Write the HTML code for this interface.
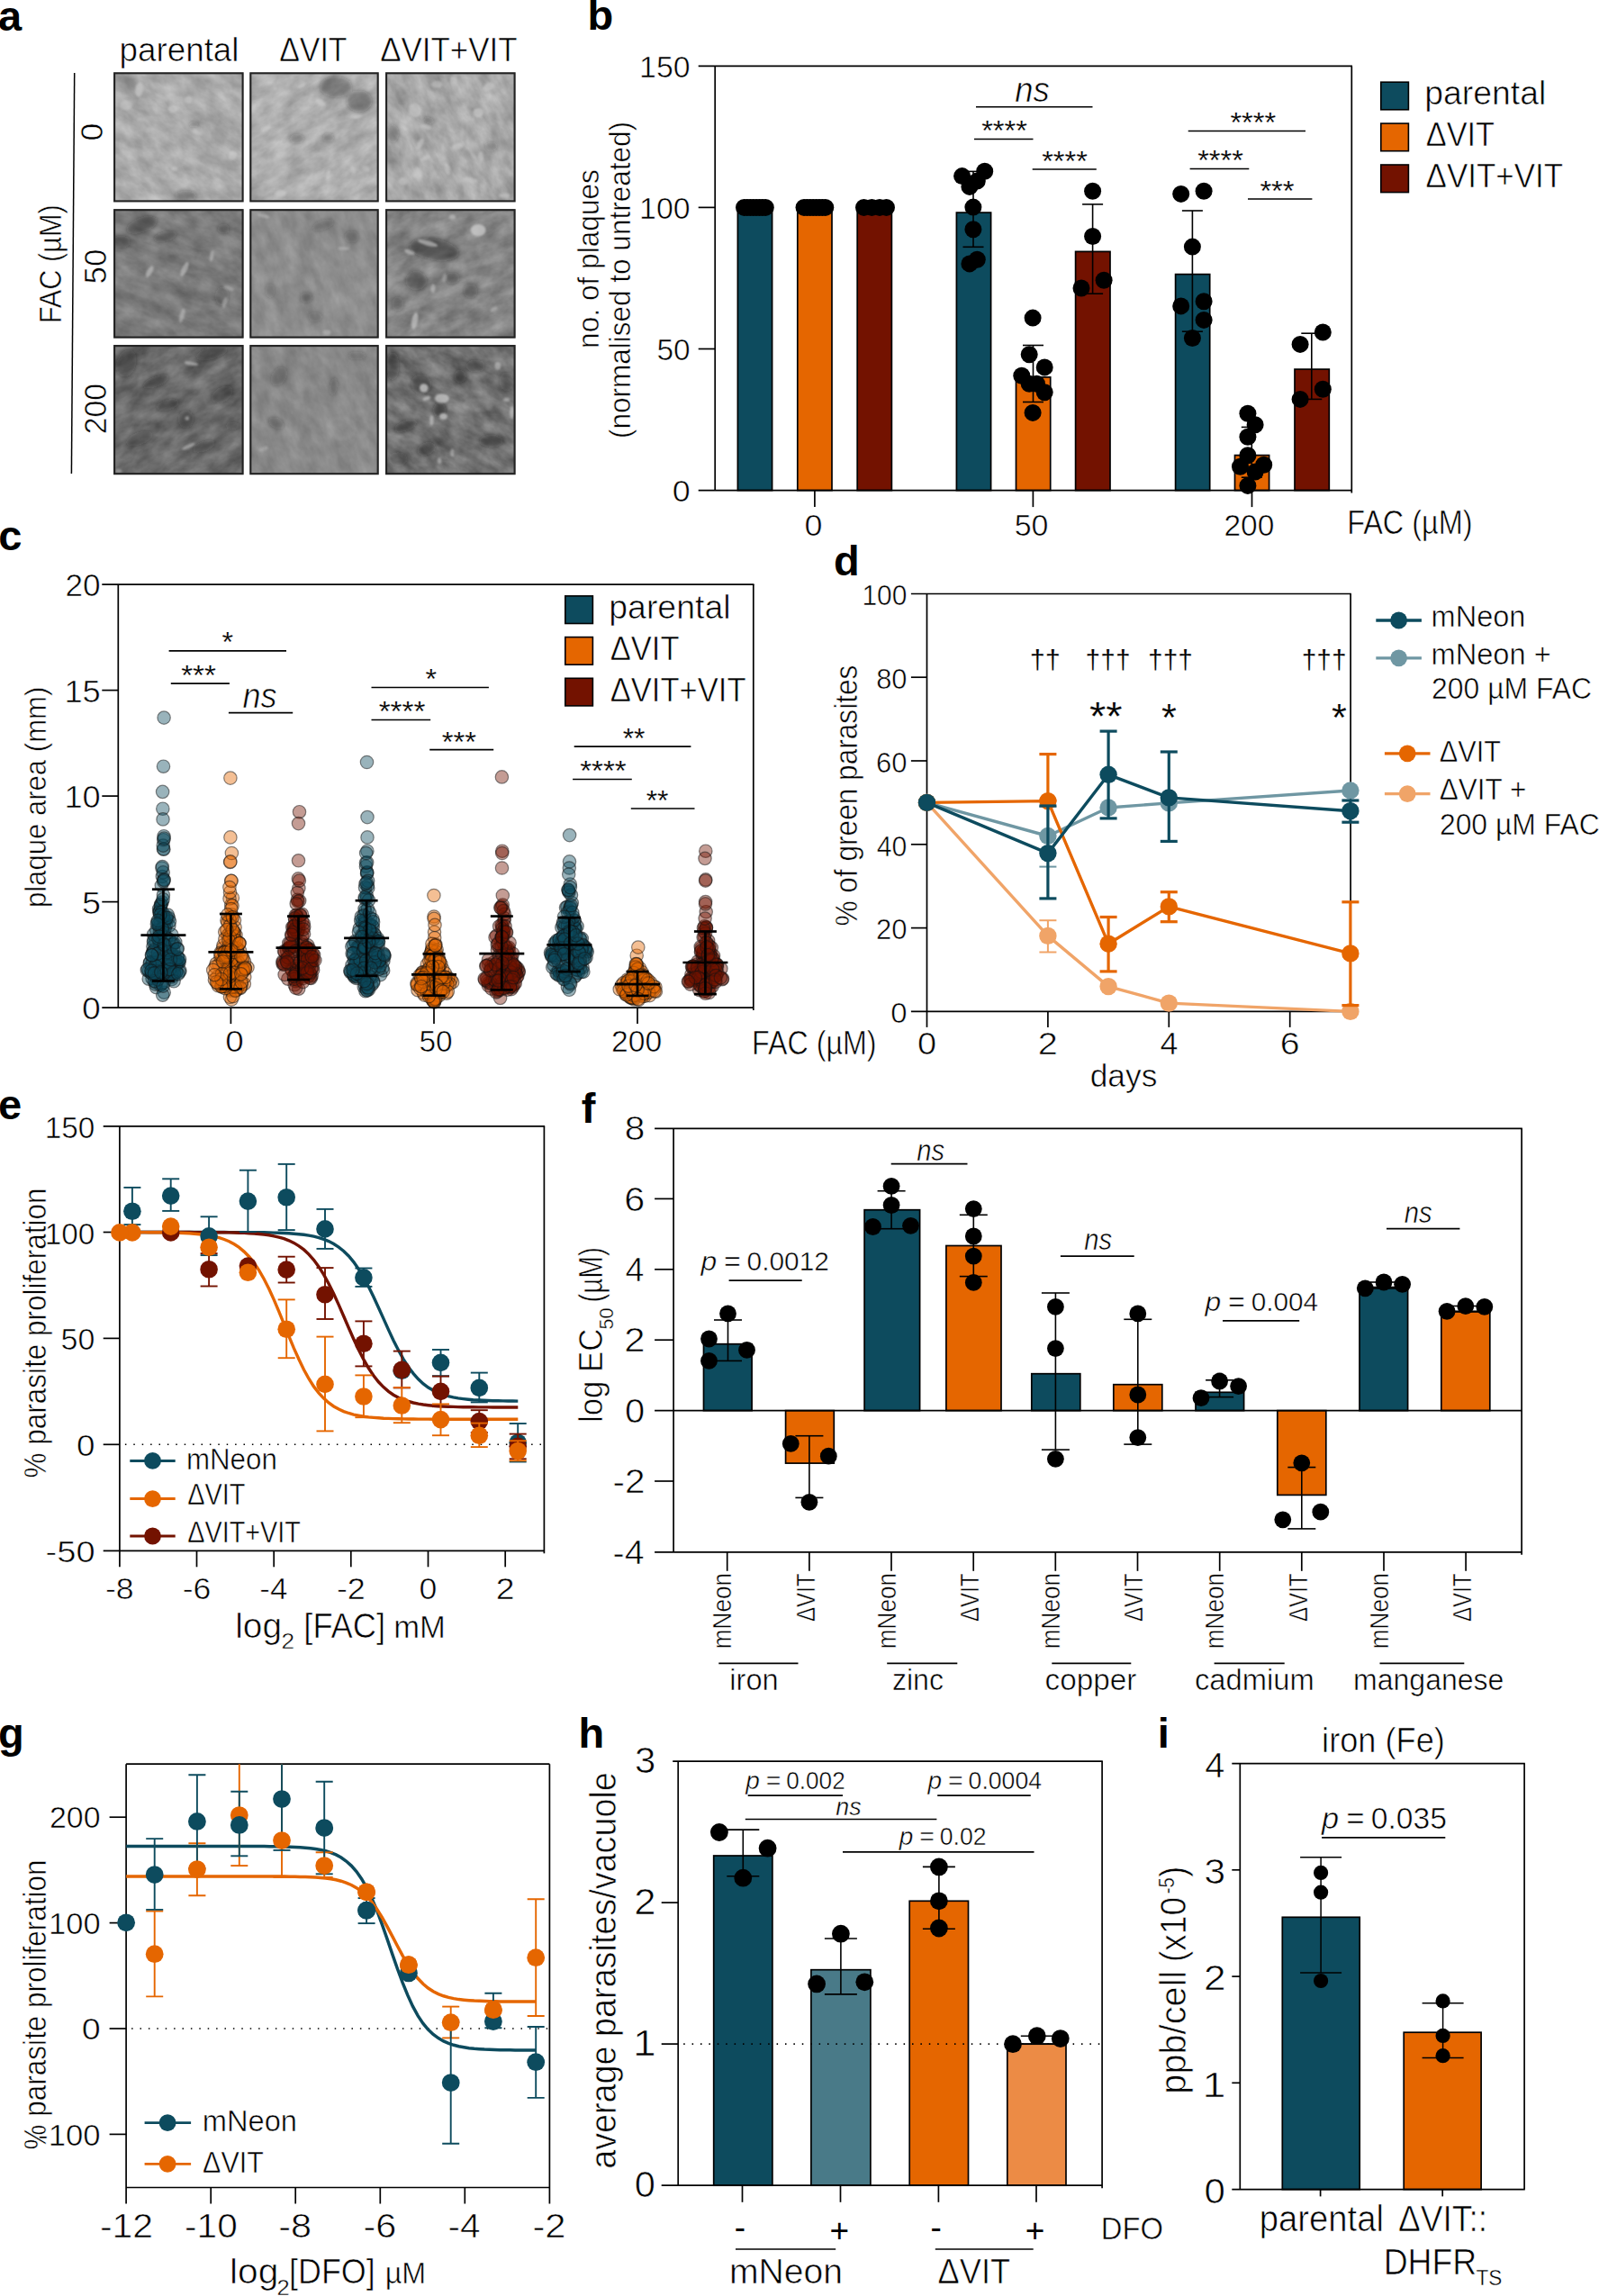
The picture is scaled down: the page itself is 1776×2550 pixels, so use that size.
<!DOCTYPE html>
<html><head><meta charset="utf-8"><title>Figure</title>
<style>
html,body{margin:0;padding:0;background:#fff}
svg{display:block}
text{font-family:"Liberation Sans",sans-serif;fill:#000}
.t,.s{stroke:#fff}
.b{}
</style></head><body>
<svg width="1776" height="2550" viewBox="0 0 1776 2550">
<rect width="1776" height="2550" fill="#fff"/>
<text class="b" font-size="47.0" x="-1.9" y="33.5" font-weight="bold">a</text>
<text class="t" font-size="37.3" text-anchor="middle" textLength="133.1" lengthAdjust="spacingAndGlyphs" x="199.0" y="67.5" stroke-width="0.64">parental</text>
<text class="t" font-size="37.3" text-anchor="middle" textLength="75.4" lengthAdjust="spacingAndGlyphs" x="347.9" y="67.5" stroke-width="0.64">ΔVIT</text>
<text class="t" font-size="37.3" text-anchor="middle" textLength="152.5" lengthAdjust="spacingAndGlyphs" x="498.4" y="67.5" stroke-width="0.64">ΔVIT+VIT</text>
<line x1="82.7" y1="81.0" x2="79.4" y2="526.0" stroke="#000" stroke-width="1.5"/>
<text class="t" font-size="35.3" text-anchor="middle" textLength="132.0" lengthAdjust="spacingAndGlyphs" transform="translate(68.0 293.0) rotate(-90)" x="-0.3" y="0" stroke-width="0.6">FAC (µM)</text>
<text class="t" font-size="35.8" text-anchor="middle" transform="translate(113.5 146.5) rotate(-90)" x="0.0" y="0" stroke-width="0.61">0</text>
<text class="t" font-size="35.8" text-anchor="middle" textLength="38.9" lengthAdjust="spacingAndGlyphs" transform="translate(118.3 296.0) rotate(-90)" x="-0.0" y="0" stroke-width="0.61">50</text>
<text class="t" font-size="35.8" text-anchor="middle" textLength="56.2" lengthAdjust="spacingAndGlyphs" transform="translate(118.3 454.0) rotate(-90)" x="-0.2" y="0" stroke-width="0.61">200</text>
<filter id="fb" x="-0.5" y="-0.5" width="2" height="2"><feGaussianBlur stdDeviation="0.9"/></filter>
<filter id="fd" x="-0.5" y="-0.5" width="2" height="2"><feGaussianBlur stdDeviation="2.4"/></filter>
<filter id="tx1" x="0" y="0" width="1" height="1" color-interpolation-filters="sRGB"><feTurbulence type="fractalNoise" baseFrequency="0.04 0.07" numOctaves="4" seed="10"/><feColorMatrix type="matrix" values="0.26 0 0 0 0.541 0.26 0 0 0 0.541 0.26 0 0 0 0.541 0 0 0 0 1"/></filter>
<clipPath id="tc1"><rect x="126.5" y="80.7" width="143.7" height="143.3"/></clipPath>
<g clip-path="url(#tc1)">
<rect x="54.7" y="9.0" width="287.4" height="286.6" fill="#999" filter="url(#tx1)" transform="rotate(35 198.3 152.3)"/>
<g filter="url(#fd)">
<ellipse cx="206.5" cy="217.4" rx="11.8" ry="5.7" fill="#1c1c1c" fill-opacity="0.35" transform="rotate(0 206.5 217.4)"/>
<ellipse cx="215.1" cy="138.2" rx="6.2" ry="3.2" fill="#1c1c1c" fill-opacity="0.3" transform="rotate(0 215.1 138.2)"/>
<ellipse cx="137.4" cy="93.6" rx="15.5" ry="10.6" fill="#1c1c1c" fill-opacity="0.15" transform="rotate(0 137.4 93.6)"/>
<ellipse cx="243.9" cy="148.3" rx="8.1" ry="15.5" fill="#1c1c1c" fill-opacity="0.12" transform="rotate(0 243.9 148.3)"/>
</g>
<g filter="url(#fb)">
<ellipse cx="154.7" cy="99.4" rx="4.4" ry="8.0" fill="#d0d0d0" fill-opacity="0.55" transform="rotate(10 154.7 99.4)"/>
<ellipse cx="140.3" cy="116.7" rx="7.1" ry="5.3" fill="#d0d0d0" fill-opacity="0.5" transform="rotate(0 140.3 116.7)"/>
<ellipse cx="192.1" cy="121.0" rx="5.3" ry="4.4" fill="#d0d0d0" fill-opacity="0.55" transform="rotate(0 192.1 121.0)"/>
<ellipse cx="209.4" cy="110.9" rx="4.0" ry="4.0" fill="#d0d0d0" fill-opacity="0.5" transform="rotate(0 209.4 110.9)"/>
<ellipse cx="258.3" cy="172.8" rx="4.4" ry="5.3" fill="#d0d0d0" fill-opacity="0.5" transform="rotate(30 258.3 172.8)"/>
<ellipse cx="193.5" cy="187.1" rx="3.5" ry="2.6" fill="#d0d0d0" fill-opacity="0.5" transform="rotate(0 193.5 187.1)"/>
<ellipse cx="219.4" cy="146.9" rx="5.3" ry="2.2" fill="#d0d0d0" fill-opacity="0.45" transform="rotate(25 219.4 146.9)"/>
</g>
</g>
<rect x="127.1" y="81.3" width="142.5" height="142.1" fill="none" stroke="#222" stroke-width="2.1"/>
<filter id="tx2" x="0" y="0" width="1" height="1" color-interpolation-filters="sRGB"><feTurbulence type="fractalNoise" baseFrequency="0.04 0.07" numOctaves="4" seed="17"/><feColorMatrix type="matrix" values="0.26 0 0 0 0.552 0.26 0 0 0 0.552 0.26 0 0 0 0.552 0 0 0 0 1"/></filter>
<clipPath id="tc2"><rect x="277.7" y="80.7" width="142.6" height="143.3"/></clipPath>
<g clip-path="url(#tc2)">
<rect x="206.4" y="9.0" width="285.2" height="286.6" fill="#999" filter="url(#tx2)" transform="rotate(-30 349.0 152.3)"/>
<g filter="url(#fd)">
<ellipse cx="373.2" cy="96.5" rx="17.9" ry="11.8" fill="#1c1c1c" fill-opacity="0.35" transform="rotate(0 373.2 96.5)"/>
<ellipse cx="399.1" cy="112.3" rx="14.2" ry="11.8" fill="#1c1c1c" fill-opacity="0.4" transform="rotate(0 399.1 112.3)"/>
<ellipse cx="330.1" cy="154.1" rx="8.1" ry="5.7" fill="#1c1c1c" fill-opacity="0.3" transform="rotate(0 330.1 154.1)"/>
<ellipse cx="364.6" cy="152.6" rx="6.9" ry="5.2" fill="#1c1c1c" fill-opacity="0.3" transform="rotate(0 364.6 152.6)"/>
</g>
<g filter="url(#fb)">
<ellipse cx="356.0" cy="113.8" rx="6.2" ry="3.3" fill="#d0d0d0" fill-opacity="0.6" transform="rotate(30 356.0 113.8)"/>
<ellipse cx="335.2" cy="95.1" rx="4.8" ry="2.4" fill="#d0d0d0" fill-opacity="0.5" transform="rotate(-35 335.2 95.1)"/>
<ellipse cx="396.2" cy="129.6" rx="5.8" ry="2.2" fill="#d0d0d0" fill-opacity="0.5" transform="rotate(-10 396.2 129.6)"/>
<ellipse cx="295.5" cy="142.6" rx="5.8" ry="2.2" fill="#d0d0d0" fill-opacity="0.5" transform="rotate(-30 295.5 142.6)"/>
<ellipse cx="364.6" cy="194.3" rx="2.2" ry="5.3" fill="#d0d0d0" fill-opacity="0.45" transform="rotate(10 364.6 194.3)"/>
<ellipse cx="391.9" cy="188.6" rx="2.6" ry="4.8" fill="#d0d0d0" fill-opacity="0.4" transform="rotate(-20 391.9 188.6)"/>
<ellipse cx="406.3" cy="187.1" rx="5.3" ry="3.0" fill="#d0d0d0" fill-opacity="0.4" transform="rotate(30 406.3 187.1)"/>
<ellipse cx="311.4" cy="214.5" rx="6.2" ry="3.5" fill="#d0d0d0" fill-opacity="0.45" transform="rotate(0 311.4 214.5)"/>
<ellipse cx="304.2" cy="191.5" rx="17.0" ry="15.2" fill="#d0d0d0" fill-opacity="0.18" transform="rotate(0 304.2 191.5)"/>
</g>
</g>
<rect x="278.3" y="81.3" width="141.4" height="142.1" fill="none" stroke="#222" stroke-width="2.1"/>
<filter id="tx3" x="0" y="0" width="1" height="1" color-interpolation-filters="sRGB"><feTurbulence type="fractalNoise" baseFrequency="0.04 0.07" numOctaves="4" seed="24"/><feColorMatrix type="matrix" values="0.3 0 0 0 0.509 0.3 0 0 0 0.509 0.3 0 0 0 0.509 0 0 0 0 1"/></filter>
<clipPath id="tc3"><rect x="428.5" y="80.7" width="143.7" height="143.3"/></clipPath>
<g clip-path="url(#tc3)">
<rect x="356.6" y="9.0" width="287.4" height="286.6" fill="#999" filter="url(#tx3)" transform="rotate(60 500.4 152.3)"/>
<g filter="url(#fd)">
<ellipse cx="436.3" cy="148.3" rx="6.9" ry="10.6" fill="#1c1c1c" fill-opacity="0.25" transform="rotate(0 436.3 148.3)"/>
<ellipse cx="545.6" cy="162.7" rx="6.9" ry="5.7" fill="#1c1c1c" fill-opacity="0.25" transform="rotate(0 545.6 162.7)"/>
<ellipse cx="476.5" cy="133.9" rx="6.9" ry="3.7" fill="#1c1c1c" fill-opacity="0.3" transform="rotate(15 476.5 133.9)"/>
</g>
<g filter="url(#fb)">
<ellipse cx="460.7" cy="122.4" rx="7.1" ry="8.0" fill="#d0d0d0" fill-opacity="0.5" transform="rotate(0 460.7 122.4)"/>
<ellipse cx="485.2" cy="93.6" rx="6.2" ry="4.0" fill="#d0d0d0" fill-opacity="0.5" transform="rotate(0 485.2 93.6)"/>
<ellipse cx="503.9" cy="89.3" rx="4.0" ry="5.3" fill="#d0d0d0" fill-opacity="0.5" transform="rotate(0 503.9 89.3)"/>
<ellipse cx="542.7" cy="96.5" rx="7.1" ry="4.4" fill="#d0d0d0" fill-opacity="0.5" transform="rotate(-30 542.7 96.5)"/>
<ellipse cx="531.2" cy="125.3" rx="5.8" ry="5.3" fill="#d0d0d0" fill-opacity="0.6" transform="rotate(0 531.2 125.3)"/>
<ellipse cx="473.7" cy="141.1" rx="6.2" ry="2.6" fill="#d0d0d0" fill-opacity="0.5" transform="rotate(15 473.7 141.1)"/>
<ellipse cx="466.5" cy="159.8" rx="3.0" ry="7.1" fill="#d0d0d0" fill-opacity="0.5" transform="rotate(30 466.5 159.8)"/>
<ellipse cx="472.2" cy="175.6" rx="5.3" ry="2.2" fill="#d0d0d0" fill-opacity="0.5" transform="rotate(-25 472.2 175.6)"/>
<ellipse cx="508.2" cy="162.7" rx="7.1" ry="3.5" fill="#d0d0d0" fill-opacity="0.5" transform="rotate(-20 508.2 162.7)"/>
<ellipse cx="534.1" cy="174.2" rx="3.0" ry="6.2" fill="#d0d0d0" fill-opacity="0.5" transform="rotate(0 534.1 174.2)"/>
<ellipse cx="447.8" cy="201.5" rx="5.3" ry="4.4" fill="#d0d0d0" fill-opacity="0.45" transform="rotate(0 447.8 201.5)"/>
<ellipse cx="465.0" cy="191.5" rx="3.5" ry="6.2" fill="#d0d0d0" fill-opacity="0.5" transform="rotate(-20 465.0 191.5)"/>
<ellipse cx="496.7" cy="187.1" rx="3.0" ry="7.1" fill="#d0d0d0" fill-opacity="0.5" transform="rotate(-15 496.7 187.1)"/>
<ellipse cx="522.6" cy="200.1" rx="8.0" ry="3.0" fill="#d0d0d0" fill-opacity="0.5" transform="rotate(10 522.6 200.1)"/>
<ellipse cx="560.0" cy="217.4" rx="6.2" ry="2.6" fill="#d0d0d0" fill-opacity="0.45" transform="rotate(0 560.0 217.4)"/>
</g>
</g>
<rect x="429.1" y="81.3" width="142.5" height="142.1" fill="none" stroke="#222" stroke-width="2.1"/>
<filter id="tx4" x="0" y="0" width="1" height="1" color-interpolation-filters="sRGB"><feTurbulence type="fractalNoise" baseFrequency="0.04 0.07" numOctaves="4" seed="31"/><feColorMatrix type="matrix" values="0.24 0 0 0 0.362 0.24 0 0 0 0.362 0.24 0 0 0 0.362 0 0 0 0 1"/></filter>
<clipPath id="tc4"><rect x="126.5" y="232.6" width="143.7" height="142.6"/></clipPath>
<g clip-path="url(#tc4)">
<rect x="54.7" y="161.3" width="287.4" height="285.2" fill="#999" filter="url(#tx4)" transform="rotate(20 198.3 303.9)"/>
<g filter="url(#fd)">
<ellipse cx="157.6" cy="249.9" rx="17.9" ry="8.1" fill="#1c1c1c" fill-opacity="0.4" transform="rotate(-20 157.6 249.9)"/>
<ellipse cx="134.6" cy="268.6" rx="10.6" ry="6.9" fill="#1c1c1c" fill-opacity="0.35" transform="rotate(0 134.6 268.6)"/>
<ellipse cx="183.5" cy="262.8" rx="13.0" ry="5.7" fill="#1c1c1c" fill-opacity="0.35" transform="rotate(-15 183.5 262.8)"/>
<ellipse cx="248.2" cy="254.2" rx="6.9" ry="5.7" fill="#1c1c1c" fill-opacity="0.3" transform="rotate(0 248.2 254.2)"/>
<ellipse cx="246.8" cy="329.0" rx="8.1" ry="10.6" fill="#1c1c1c" fill-opacity="0.25" transform="rotate(0 246.8 329.0)"/>
</g>
<g filter="url(#fb)">
<ellipse cx="166.2" cy="301.6" rx="3.0" ry="7.1" fill="#d0d0d0" fill-opacity="0.55" transform="rotate(30 166.2 301.6)"/>
<ellipse cx="205.0" cy="298.8" rx="3.0" ry="8.9" fill="#d0d0d0" fill-opacity="0.55" transform="rotate(25 205.0 298.8)"/>
<ellipse cx="235.2" cy="284.4" rx="2.2" ry="6.2" fill="#d0d0d0" fill-opacity="0.45" transform="rotate(10 235.2 284.4)"/>
<ellipse cx="202.2" cy="350.6" rx="2.6" ry="8.0" fill="#d0d0d0" fill-opacity="0.45" transform="rotate(15 202.2 350.6)"/>
<ellipse cx="249.6" cy="336.2" rx="2.6" ry="6.2" fill="#d0d0d0" fill-opacity="0.4" transform="rotate(15 249.6 336.2)"/>
<ellipse cx="253.9" cy="320.3" rx="6.2" ry="2.2" fill="#d0d0d0" fill-opacity="0.4" transform="rotate(20 253.9 320.3)"/>
</g>
</g>
<rect x="127.1" y="233.2" width="142.5" height="141.4" fill="none" stroke="#222" stroke-width="2.1"/>
<filter id="tx5" x="0" y="0" width="1" height="1" color-interpolation-filters="sRGB"><feTurbulence type="fractalNoise" baseFrequency="0.04 0.07" numOctaves="4" seed="38"/><feColorMatrix type="matrix" values="0.17 0 0 0 0.468 0.17 0 0 0 0.468 0.17 0 0 0 0.468 0 0 0 0 1"/></filter>
<clipPath id="tc5"><rect x="277.7" y="232.6" width="142.6" height="142.6"/></clipPath>
<g clip-path="url(#tc5)">
<rect x="206.4" y="161.3" width="285.2" height="285.2" fill="#999" filter="url(#tx5)" transform="rotate(70 349.0 303.9)"/>
<g filter="url(#fd)">
<ellipse cx="340.1" cy="330.4" rx="6.9" ry="5.7" fill="#1c1c1c" fill-opacity="0.35" transform="rotate(0 340.1 330.4)"/>
<ellipse cx="358.8" cy="249.9" rx="13.0" ry="5.7" fill="#1c1c1c" fill-opacity="0.25" transform="rotate(-20 358.8 249.9)"/>
<ellipse cx="390.5" cy="262.8" rx="8.1" ry="6.9" fill="#1c1c1c" fill-opacity="0.25" transform="rotate(0 390.5 262.8)"/>
<ellipse cx="299.9" cy="323.2" rx="5.7" ry="8.1" fill="#1c1c1c" fill-opacity="0.2" transform="rotate(0 299.9 323.2)"/>
<ellipse cx="350.2" cy="352.0" rx="8.1" ry="5.7" fill="#1c1c1c" fill-opacity="0.2" transform="rotate(0 350.2 352.0)"/>
</g>
<g filter="url(#fb)">
<ellipse cx="381.8" cy="275.8" rx="6.2" ry="1.9" fill="#d0d0d0" fill-opacity="0.4" transform="rotate(0 381.8 275.8)"/>
<ellipse cx="292.7" cy="239.8" rx="7.1" ry="2.2" fill="#d0d0d0" fill-opacity="0.4" transform="rotate(15 292.7 239.8)"/>
<ellipse cx="363.1" cy="369.3" rx="4.4" ry="3.0" fill="#d0d0d0" fill-opacity="0.4" transform="rotate(0 363.1 369.3)"/>
</g>
</g>
<rect x="278.3" y="233.2" width="141.4" height="141.4" fill="none" stroke="#222" stroke-width="2.1"/>
<filter id="tx6" x="0" y="0" width="1" height="1" color-interpolation-filters="sRGB"><feTurbulence type="fractalNoise" baseFrequency="0.04 0.07" numOctaves="4" seed="45"/><feColorMatrix type="matrix" values="0.28 0 0 0 0.382 0.28 0 0 0 0.382 0.28 0 0 0 0.382 0 0 0 0 1"/></filter>
<clipPath id="tc6"><rect x="428.5" y="232.6" width="143.7" height="142.6"/></clipPath>
<g clip-path="url(#tc6)">
<rect x="356.6" y="161.3" width="287.4" height="285.2" fill="#999" filter="url(#tx6)" transform="rotate(-20 500.4 303.9)"/>
<g filter="url(#fd)">
<ellipse cx="482.3" cy="277.2" rx="27.7" ry="11.8" fill="#1c1c1c" fill-opacity="0.45" transform="rotate(10 482.3 277.2)"/>
<ellipse cx="462.2" cy="311.7" rx="11.8" ry="10.6" fill="#1c1c1c" fill-opacity="0.35" transform="rotate(0 462.2 311.7)"/>
<ellipse cx="502.4" cy="308.8" rx="8.1" ry="6.9" fill="#1c1c1c" fill-opacity="0.3" transform="rotate(0 502.4 308.8)"/>
<ellipse cx="522.6" cy="323.2" rx="8.1" ry="8.1" fill="#1c1c1c" fill-opacity="0.3" transform="rotate(0 522.6 323.2)"/>
<ellipse cx="442.0" cy="337.6" rx="6.9" ry="8.1" fill="#1c1c1c" fill-opacity="0.3" transform="rotate(0 442.0 337.6)"/>
</g>
<g filter="url(#fb)">
<ellipse cx="531.2" cy="255.6" rx="8.4" ry="6.6" fill="#d0d0d0" fill-opacity="0.7" transform="rotate(0 531.2 255.6)"/>
<ellipse cx="475.1" cy="270.0" rx="11.6" ry="2.8" fill="#d0d0d0" fill-opacity="0.6" transform="rotate(15 475.1 270.0)"/>
<ellipse cx="455.0" cy="280.1" rx="6.2" ry="2.6" fill="#d0d0d0" fill-opacity="0.55" transform="rotate(20 455.0 280.1)"/>
<ellipse cx="460.7" cy="356.3" rx="3.3" ry="9.8" fill="#d0d0d0" fill-opacity="0.6" transform="rotate(10 460.7 356.3)"/>
<ellipse cx="480.9" cy="320.3" rx="2.6" ry="5.3" fill="#d0d0d0" fill-opacity="0.5" transform="rotate(0 480.9 320.3)"/>
<ellipse cx="502.4" cy="241.2" rx="3.5" ry="3.0" fill="#d0d0d0" fill-opacity="0.5" transform="rotate(0 502.4 241.2)"/>
<ellipse cx="493.8" cy="308.8" rx="2.2" ry="4.8" fill="#d0d0d0" fill-opacity="0.4" transform="rotate(10 493.8 308.8)"/>
<ellipse cx="548.5" cy="343.4" rx="4.4" ry="2.2" fill="#d0d0d0" fill-opacity="0.4" transform="rotate(-30 548.5 343.4)"/>
</g>
</g>
<rect x="429.1" y="233.2" width="142.5" height="141.4" fill="none" stroke="#222" stroke-width="2.1"/>
<filter id="tx7" x="0" y="0" width="1" height="1" color-interpolation-filters="sRGB"><feTurbulence type="fractalNoise" baseFrequency="0.04 0.07" numOctaves="4" seed="52"/><feColorMatrix type="matrix" values="0.28 0 0 0 0.280 0.28 0 0 0 0.280 0.28 0 0 0 0.280 0 0 0 0 1"/></filter>
<clipPath id="tc7"><rect x="126.5" y="383.5" width="143.7" height="143.3"/></clipPath>
<g clip-path="url(#tc7)">
<rect x="54.7" y="311.9" width="287.4" height="286.6" fill="#999" filter="url(#tx7)" transform="rotate(-25 198.3 455.1)"/>
<g filter="url(#fd)">
<ellipse cx="140.3" cy="403.6" rx="10.6" ry="15.5" fill="#1c1c1c" fill-opacity="0.35" transform="rotate(20 140.3 403.6)"/>
<ellipse cx="235.2" cy="392.1" rx="17.9" ry="6.9" fill="#1c1c1c" fill-opacity="0.4" transform="rotate(-15 235.2 392.1)"/>
<ellipse cx="173.4" cy="423.8" rx="15.5" ry="5.7" fill="#1c1c1c" fill-opacity="0.4" transform="rotate(-20 173.4 423.8)"/>
<ellipse cx="186.3" cy="449.7" rx="13.0" ry="5.7" fill="#1c1c1c" fill-opacity="0.35" transform="rotate(-15 186.3 449.7)"/>
<ellipse cx="246.8" cy="438.2" rx="13.0" ry="8.1" fill="#1c1c1c" fill-opacity="0.35" transform="rotate(-30 246.8 438.2)"/>
<ellipse cx="206.5" cy="465.5" rx="8.6" ry="10.1" fill="#1c1c1c" fill-opacity="0.4" transform="rotate(0 206.5 465.5)"/>
<ellipse cx="154.7" cy="487.1" rx="15.5" ry="6.9" fill="#1c1c1c" fill-opacity="0.35" transform="rotate(-20 154.7 487.1)"/>
<ellipse cx="226.6" cy="495.7" rx="13.0" ry="5.7" fill="#1c1c1c" fill-opacity="0.35" transform="rotate(-20 226.6 495.7)"/>
<ellipse cx="258.3" cy="472.7" rx="8.1" ry="4.5" fill="#1c1c1c" fill-opacity="0.3" transform="rotate(0 258.3 472.7)"/>
</g>
<g filter="url(#fb)">
<ellipse cx="212.2" cy="403.6" rx="8.0" ry="2.2" fill="#d0d0d0" fill-opacity="0.55" transform="rotate(10 212.2 403.6)"/>
<ellipse cx="209.4" cy="495.7" rx="8.0" ry="2.2" fill="#d0d0d0" fill-opacity="0.5" transform="rotate(-25 209.4 495.7)"/>
<ellipse cx="207.9" cy="464.6" rx="2.4" ry="2.4" fill="#d0d0d0" fill-opacity="0.5" transform="rotate(0 207.9 464.6)"/>
<ellipse cx="131.7" cy="523.0" rx="3.5" ry="2.2" fill="#d0d0d0" fill-opacity="0.4" transform="rotate(0 131.7 523.0)"/>
</g>
</g>
<rect x="127.1" y="384.1" width="142.5" height="142.1" fill="none" stroke="#222" stroke-width="2.1"/>
<filter id="tx8" x="0" y="0" width="1" height="1" color-interpolation-filters="sRGB"><feTurbulence type="fractalNoise" baseFrequency="0.04 0.07" numOctaves="4" seed="59"/><feColorMatrix type="matrix" values="0.17 0 0 0 0.452 0.17 0 0 0 0.452 0.17 0 0 0 0.452 0 0 0 0 1"/></filter>
<clipPath id="tc8"><rect x="277.7" y="383.5" width="142.6" height="143.3"/></clipPath>
<g clip-path="url(#tc8)">
<rect x="206.4" y="311.9" width="285.2" height="286.6" fill="#999" filter="url(#tx8)" transform="rotate(65 349.0 455.1)"/>
<g filter="url(#fd)">
<ellipse cx="309.9" cy="418.0" rx="8.1" ry="11.8" fill="#1c1c1c" fill-opacity="0.3" transform="rotate(30 309.9 418.0)"/>
<ellipse cx="307.0" cy="469.8" rx="9.4" ry="5.7" fill="#1c1c1c" fill-opacity="0.3" transform="rotate(30 307.0 469.8)"/>
<ellipse cx="370.3" cy="429.5" rx="4.5" ry="10.6" fill="#1c1c1c" fill-opacity="0.25" transform="rotate(10 370.3 429.5)"/>
<ellipse cx="396.2" cy="395.0" rx="10.6" ry="4.5" fill="#1c1c1c" fill-opacity="0.25" transform="rotate(0 396.2 395.0)"/>
</g>
<g filter="url(#fb)">
<ellipse cx="379.0" cy="475.6" rx="17.0" ry="13.4" fill="#d0d0d0" fill-opacity="0.12" transform="rotate(0 379.0 475.6)"/>
<ellipse cx="292.7" cy="498.6" rx="5.3" ry="2.2" fill="#d0d0d0" fill-opacity="0.3" transform="rotate(-20 292.7 498.6)"/>
</g>
</g>
<rect x="278.3" y="384.1" width="141.4" height="142.1" fill="none" stroke="#222" stroke-width="2.1"/>
<filter id="tx9" x="0" y="0" width="1" height="1" color-interpolation-filters="sRGB"><feTurbulence type="fractalNoise" baseFrequency="0.04 0.07" numOctaves="4" seed="66"/><feColorMatrix type="matrix" values="0.34 0 0 0 0.277 0.34 0 0 0 0.277 0.34 0 0 0 0.277 0 0 0 0 1"/></filter>
<clipPath id="tc9"><rect x="428.5" y="383.5" width="143.7" height="143.3"/></clipPath>
<g clip-path="url(#tc9)">
<rect x="356.6" y="311.9" width="287.4" height="286.6" fill="#999" filter="url(#tx9)" transform="rotate(30 500.4 455.1)"/>
<g filter="url(#fd)">
<ellipse cx="436.3" cy="406.5" rx="6.9" ry="15.5" fill="#1c1c1c" fill-opacity="0.4" transform="rotate(0 436.3 406.5)"/>
<ellipse cx="467.9" cy="426.7" rx="11.1" ry="11.1" fill="#1c1c1c" fill-opacity="0.45" transform="rotate(0 467.9 426.7)"/>
<ellipse cx="450.7" cy="472.7" rx="13.0" ry="5.7" fill="#1c1c1c" fill-opacity="0.45" transform="rotate(-20 450.7 472.7)"/>
<ellipse cx="473.7" cy="498.6" rx="10.6" ry="6.9" fill="#1c1c1c" fill-opacity="0.45" transform="rotate(-20 473.7 498.6)"/>
<ellipse cx="545.6" cy="489.9" rx="13.0" ry="6.9" fill="#1c1c1c" fill-opacity="0.45" transform="rotate(0 545.6 489.9)"/>
<ellipse cx="488.1" cy="455.4" rx="6.9" ry="8.1" fill="#1c1c1c" fill-opacity="0.45" transform="rotate(0 488.1 455.4)"/>
<ellipse cx="528.3" cy="406.5" rx="10.6" ry="6.9" fill="#1c1c1c" fill-opacity="0.4" transform="rotate(0 528.3 406.5)"/>
<ellipse cx="511.1" cy="418.0" rx="6.9" ry="6.9" fill="#1c1c1c" fill-opacity="0.4" transform="rotate(0 511.1 418.0)"/>
<ellipse cx="442.0" cy="510.1" rx="10.6" ry="8.1" fill="#1c1c1c" fill-opacity="0.3" transform="rotate(0 442.0 510.1)"/>
<ellipse cx="562.8" cy="423.8" rx="8.1" ry="10.6" fill="#1c1c1c" fill-opacity="0.3" transform="rotate(0 562.8 423.8)"/>
</g>
<g filter="url(#fb)">
<ellipse cx="470.8" cy="431.0" rx="4.8" ry="4.8" fill="#d0d0d0" fill-opacity="0.75" transform="rotate(0 470.8 431.0)"/>
<ellipse cx="490.9" cy="442.5" rx="8.0" ry="5.3" fill="#d0d0d0" fill-opacity="0.7" transform="rotate(0 490.9 442.5)"/>
<ellipse cx="473.7" cy="442.5" rx="4.4" ry="2.2" fill="#d0d0d0" fill-opacity="0.6" transform="rotate(-20 473.7 442.5)"/>
<ellipse cx="492.4" cy="462.6" rx="4.4" ry="3.5" fill="#d0d0d0" fill-opacity="0.7" transform="rotate(0 492.4 462.6)"/>
<ellipse cx="479.4" cy="466.9" rx="2.2" ry="5.3" fill="#d0d0d0" fill-opacity="0.6" transform="rotate(0 479.4 466.9)"/>
<ellipse cx="552.8" cy="406.5" rx="3.5" ry="4.4" fill="#d0d0d0" fill-opacity="0.55" transform="rotate(0 552.8 406.5)"/>
<ellipse cx="568.6" cy="458.3" rx="2.6" ry="7.1" fill="#d0d0d0" fill-opacity="0.55" transform="rotate(0 568.6 458.3)"/>
<ellipse cx="502.4" cy="502.9" rx="2.2" ry="4.4" fill="#d0d0d0" fill-opacity="0.5" transform="rotate(0 502.4 502.9)"/>
<ellipse cx="488.1" cy="511.5" rx="2.2" ry="3.5" fill="#d0d0d0" fill-opacity="0.5" transform="rotate(0 488.1 511.5)"/>
<ellipse cx="562.8" cy="443.9" rx="3.5" ry="2.2" fill="#d0d0d0" fill-opacity="0.5" transform="rotate(0 562.8 443.9)"/>
<ellipse cx="531.2" cy="449.7" rx="17.0" ry="8.0" fill="#d0d0d0" fill-opacity="0.15" transform="rotate(0 531.2 449.7)"/>
</g>
</g>
<rect x="429.1" y="384.1" width="142.5" height="142.1" fill="none" stroke="#222" stroke-width="2.1"/>
<text class="b" font-size="47.0" x="652.5" y="33.3" font-weight="bold">b</text>
<rect x="819.4" y="230.4" width="38.2" height="314.2" fill="#0d4b5e" stroke="#000" stroke-width="1.7"/>
<rect x="885.8" y="230.4" width="38.2" height="314.2" fill="#e56600" stroke="#000" stroke-width="1.7"/>
<rect x="952.2" y="230.4" width="38.2" height="314.2" fill="#731200" stroke="#000" stroke-width="1.7"/>
<rect x="1062.4" y="236.1" width="38.2" height="308.5" fill="#0d4b5e" stroke="#000" stroke-width="1.7"/>
<rect x="1128.5" y="418.9" width="38.2" height="125.7" fill="#e56600" stroke="#000" stroke-width="1.7"/>
<rect x="1194.6" y="279.4" width="38.4" height="265.2" fill="#731200" stroke="#000" stroke-width="1.7"/>
<rect x="1305.6" y="304.6" width="38.1" height="240.0" fill="#0d4b5e" stroke="#000" stroke-width="1.7"/>
<rect x="1371.5" y="505.6" width="38.1" height="39.0" fill="#e56600" stroke="#000" stroke-width="1.7"/>
<rect x="1438.0" y="410.1" width="38.3" height="134.5" fill="#731200" stroke="#000" stroke-width="1.7"/>
<line x1="794.2" y1="73.4" x2="794.2" y2="544.6" stroke="#000" stroke-width="1.7"/>
<line x1="1501.3" y1="73.4" x2="1501.3" y2="547.6" stroke="#000" stroke-width="1.7"/>
<line x1="775.7" y1="73.4" x2="1502.0" y2="73.4" stroke="#000" stroke-width="1.7"/>
<line x1="775.7" y1="544.6" x2="1501.3" y2="544.6" stroke="#000" stroke-width="1.7"/>
<line x1="775.7" y1="387.5" x2="794.2" y2="387.5" stroke="#000" stroke-width="1.7"/>
<line x1="775.7" y1="230.4" x2="794.2" y2="230.4" stroke="#000" stroke-width="1.7"/>
<text class="t" font-size="33.2" text-anchor="end" textLength="20.0" lengthAdjust="spacingAndGlyphs" x="766.7" y="556.9" stroke-width="0.57">0</text>
<text class="t" font-size="33.2" text-anchor="end" textLength="37.2" lengthAdjust="spacingAndGlyphs" x="766.6" y="399.8" stroke-width="0.57">50</text>
<text class="t" font-size="33.2" text-anchor="end" textLength="56.5" lengthAdjust="spacingAndGlyphs" x="766.6" y="242.7" stroke-width="0.57">100</text>
<text class="t" font-size="33.2" text-anchor="end" textLength="56.5" lengthAdjust="spacingAndGlyphs" x="766.6" y="85.6" stroke-width="0.57">150</text>
<line x1="904.9" y1="544.6" x2="904.9" y2="563.1" stroke="#000" stroke-width="1.7"/>
<text class="t" font-size="33.2" text-anchor="middle" textLength="20.0" lengthAdjust="spacingAndGlyphs" x="903.4" y="594.5" stroke-width="0.57">0</text>
<line x1="1147.4" y1="544.6" x2="1147.4" y2="563.1" stroke="#000" stroke-width="1.7"/>
<text class="t" font-size="33.2" text-anchor="middle" textLength="37.8" lengthAdjust="spacingAndGlyphs" x="1145.6" y="594.5" stroke-width="0.57">50</text>
<line x1="1390.5" y1="544.6" x2="1390.5" y2="563.1" stroke="#000" stroke-width="1.7"/>
<text class="t" font-size="33.2" text-anchor="middle" textLength="55.9" lengthAdjust="spacingAndGlyphs" x="1387.4" y="594.5" stroke-width="0.57">200</text>
<text class="t" font-size="37.3" textLength="139.3" lengthAdjust="spacingAndGlyphs" x="1496.2" y="593.4" stroke-width="0.64">FAC (µM)</text>
<text class="t" font-size="32.7" text-anchor="middle" textLength="198.8" lengthAdjust="spacingAndGlyphs" transform="translate(665.2 287.0) rotate(-90)" x="-0.5" y="0" stroke-width="0.56">no. of plaques</text>
<text class="t" font-size="32.7" text-anchor="middle" textLength="352.0" lengthAdjust="spacingAndGlyphs" transform="translate(699.5 311.0) rotate(-90)" x="0.0" y="0" stroke-width="0.56">(normalised to untreated)</text>
<line x1="1081.0" y1="190.4" x2="1081.0" y2="274.3" stroke="#000" stroke-width="1.6"/>
<line x1="1069.5" y1="190.4" x2="1092.5" y2="190.4" stroke="#000" stroke-width="1.6"/>
<line x1="1069.5" y1="274.3" x2="1092.5" y2="274.3" stroke="#000" stroke-width="1.6"/>
<line x1="1147.5" y1="383.5" x2="1147.5" y2="446.5" stroke="#000" stroke-width="1.6"/>
<line x1="1136.0" y1="383.5" x2="1159.0" y2="383.5" stroke="#000" stroke-width="1.6"/>
<line x1="1136.0" y1="446.5" x2="1159.0" y2="446.5" stroke="#000" stroke-width="1.6"/>
<line x1="1213.6" y1="226.9" x2="1213.6" y2="326.2" stroke="#000" stroke-width="1.6"/>
<line x1="1202.1" y1="226.9" x2="1225.1" y2="226.9" stroke="#000" stroke-width="1.6"/>
<line x1="1202.1" y1="326.2" x2="1225.1" y2="326.2" stroke="#000" stroke-width="1.6"/>
<line x1="1324.4" y1="234.0" x2="1324.4" y2="368.2" stroke="#000" stroke-width="1.6"/>
<line x1="1312.9" y1="234.0" x2="1335.9" y2="234.0" stroke="#000" stroke-width="1.6"/>
<line x1="1312.9" y1="368.2" x2="1335.9" y2="368.2" stroke="#000" stroke-width="1.6"/>
<line x1="1390.3" y1="474.4" x2="1390.3" y2="530.2" stroke="#000" stroke-width="1.6"/>
<line x1="1378.8" y1="474.4" x2="1401.8" y2="474.4" stroke="#000" stroke-width="1.6"/>
<line x1="1378.8" y1="530.2" x2="1401.8" y2="530.2" stroke="#000" stroke-width="1.6"/>
<line x1="1456.8" y1="370.2" x2="1456.8" y2="443.4" stroke="#000" stroke-width="1.6"/>
<line x1="1445.3" y1="370.2" x2="1468.3" y2="370.2" stroke="#000" stroke-width="1.6"/>
<line x1="1445.3" y1="443.4" x2="1468.3" y2="443.4" stroke="#000" stroke-width="1.6"/>
<circle cx="826.5" cy="230.4" r="9.5" fill="#000"/>
<circle cx="829.9" cy="230.4" r="9.5" fill="#000"/>
<circle cx="833.3" cy="230.4" r="9.5" fill="#000"/>
<circle cx="836.7" cy="230.4" r="9.5" fill="#000"/>
<circle cx="840.1" cy="230.4" r="9.5" fill="#000"/>
<circle cx="843.5" cy="230.4" r="9.5" fill="#000"/>
<circle cx="846.9" cy="230.4" r="9.5" fill="#000"/>
<circle cx="850.3" cy="230.4" r="9.5" fill="#000"/>
<circle cx="893.0" cy="230.4" r="9.5" fill="#000"/>
<circle cx="896.4" cy="230.4" r="9.5" fill="#000"/>
<circle cx="899.8" cy="230.4" r="9.5" fill="#000"/>
<circle cx="903.2" cy="230.4" r="9.5" fill="#000"/>
<circle cx="906.6" cy="230.4" r="9.5" fill="#000"/>
<circle cx="910.0" cy="230.4" r="9.5" fill="#000"/>
<circle cx="913.4" cy="230.4" r="9.5" fill="#000"/>
<circle cx="916.8" cy="230.4" r="9.5" fill="#000"/>
<circle cx="959.5" cy="230.4" r="9.5" fill="#000"/>
<circle cx="968.3" cy="230.4" r="9.5" fill="#000"/>
<circle cx="977.0" cy="230.4" r="9.5" fill="#000"/>
<circle cx="984.5" cy="230.4" r="9.5" fill="#000"/>
<circle cx="1068.6" cy="195.6" r="9.5" fill="#000"/>
<circle cx="1093.7" cy="190.3" r="9.5" fill="#000"/>
<circle cx="1085.3" cy="201.1" r="9.5" fill="#000"/>
<circle cx="1076.9" cy="207.4" r="9.5" fill="#000"/>
<circle cx="1080.9" cy="230.1" r="9.5" fill="#000"/>
<circle cx="1080.9" cy="254.8" r="9.5" fill="#000"/>
<circle cx="1085.3" cy="288.3" r="9.5" fill="#000"/>
<circle cx="1076.9" cy="292.9" r="9.5" fill="#000"/>
<circle cx="1147.1" cy="353.1" r="9.5" fill="#000"/>
<circle cx="1143.2" cy="393.8" r="9.5" fill="#000"/>
<circle cx="1160.2" cy="407.9" r="9.5" fill="#000"/>
<circle cx="1134.8" cy="417.2" r="9.5" fill="#000"/>
<circle cx="1143.2" cy="426.3" r="9.5" fill="#000"/>
<circle cx="1151.5" cy="426.3" r="9.5" fill="#000"/>
<circle cx="1160.2" cy="435.8" r="9.5" fill="#000"/>
<circle cx="1147.1" cy="458.4" r="9.5" fill="#000"/>
<circle cx="1213.6" cy="212.3" r="9.5" fill="#000"/>
<circle cx="1213.6" cy="262.5" r="9.5" fill="#000"/>
<circle cx="1226.1" cy="311.3" r="9.5" fill="#000"/>
<circle cx="1201.0" cy="320.0" r="9.5" fill="#000"/>
<circle cx="1311.7" cy="215.4" r="9.5" fill="#000"/>
<circle cx="1337.1" cy="212.3" r="9.5" fill="#000"/>
<circle cx="1324.4" cy="274.1" r="9.5" fill="#000"/>
<circle cx="1311.7" cy="339.9" r="9.5" fill="#000"/>
<circle cx="1337.1" cy="334.7" r="9.5" fill="#000"/>
<circle cx="1337.1" cy="355.4" r="9.5" fill="#000"/>
<circle cx="1324.4" cy="375.5" r="9.5" fill="#000"/>
<circle cx="1385.9" cy="459.3" r="9.5" fill="#000"/>
<circle cx="1394.1" cy="471.8" r="9.5" fill="#000"/>
<circle cx="1385.9" cy="485.2" r="9.5" fill="#000"/>
<circle cx="1385.9" cy="505.8" r="9.5" fill="#000"/>
<circle cx="1377.5" cy="518.3" r="9.5" fill="#000"/>
<circle cx="1403.7" cy="516.2" r="9.5" fill="#000"/>
<circle cx="1394.1" cy="524.1" r="9.5" fill="#000"/>
<circle cx="1385.9" cy="539.4" r="9.5" fill="#000"/>
<circle cx="1469.3" cy="369.0" r="9.5" fill="#000"/>
<circle cx="1444.1" cy="382.4" r="9.5" fill="#000"/>
<circle cx="1469.3" cy="432.3" r="9.5" fill="#000"/>
<circle cx="1444.1" cy="443.4" r="9.5" fill="#000"/>
<line x1="1084.0" y1="118.8" x2="1213.5" y2="118.8" stroke="#000" stroke-width="1.5"/>
<text class="t" font-size="39.4" text-anchor="middle" textLength="38.5" lengthAdjust="spacingAndGlyphs" x="1146.6" y="112.6" font-style="italic" stroke-width="0.67">ns</text>
<line x1="1082.0" y1="154.5" x2="1147.5" y2="154.5" stroke="#000" stroke-width="1.5"/>
<text class="s" font-size="31.2" text-anchor="middle" textLength="50.7" lengthAdjust="spacingAndGlyphs" x="1115.5" y="156.3" stroke-width="0.15">****</text>
<line x1="1146.7" y1="187.9" x2="1217.8" y2="187.9" stroke="#000" stroke-width="1.5"/>
<text class="s" font-size="31.2" text-anchor="middle" textLength="50.7" lengthAdjust="spacingAndGlyphs" x="1182.5" y="189.7" stroke-width="0.15">****</text>
<line x1="1319.7" y1="145.6" x2="1450.0" y2="145.6" stroke="#000" stroke-width="1.5"/>
<text class="s" font-size="31.2" text-anchor="middle" textLength="50.7" lengthAdjust="spacingAndGlyphs" x="1391.8" y="147.4" stroke-width="0.15">****</text>
<line x1="1321.6" y1="187.6" x2="1387.3" y2="187.6" stroke="#000" stroke-width="1.5"/>
<text class="s" font-size="31.2" text-anchor="middle" textLength="50.7" lengthAdjust="spacingAndGlyphs" x="1355.5" y="189.4" stroke-width="0.15">****</text>
<line x1="1386.0" y1="221.0" x2="1457.4" y2="221.0" stroke="#000" stroke-width="1.5"/>
<text class="s" font-size="31.2" text-anchor="middle" textLength="38.2" lengthAdjust="spacingAndGlyphs" x="1418.5" y="222.8" stroke-width="0.15">***</text>
<rect x="1533.8" y="91.2" width="30.6" height="30.6" fill="#0d4b5e" stroke="#000" stroke-width="1.6"/>
<text class="t" font-size="36.3" textLength="135.0" lengthAdjust="spacingAndGlyphs" x="1582.3" y="116.3" stroke-width="0.62">parental</text>
<rect x="1533.8" y="137.1" width="30.6" height="30.6" fill="#e56600" stroke="#000" stroke-width="1.6"/>
<text class="t" font-size="36.3" textLength="76.4" lengthAdjust="spacingAndGlyphs" x="1583.7" y="162.2" stroke-width="0.62">ΔVIT</text>
<rect x="1533.8" y="183.0" width="30.6" height="30.6" fill="#731200" stroke="#000" stroke-width="1.6"/>
<text class="t" font-size="36.3" textLength="152.5" lengthAdjust="spacingAndGlyphs" x="1583.6" y="208.1" stroke-width="0.62">ΔVIT+VIT</text>
<text class="b" font-size="47.0" x="-1.8" y="611.0" font-weight="bold">c</text>
<g fill="#0d4b5e" fill-opacity="0.42" stroke="#111" stroke-opacity="0.5" stroke-width="1.2">
<circle cx="187.7" cy="1062.1" r="7.2"/>
<circle cx="193.8" cy="1067.2" r="7.2"/>
<circle cx="182.3" cy="1023.2" r="7.2"/>
<circle cx="179.8" cy="1046.1" r="7.2"/>
<circle cx="195.2" cy="1071.9" r="7.2"/>
<circle cx="179.3" cy="983.5" r="7.2"/>
<circle cx="169.0" cy="1086.7" r="7.2"/>
<circle cx="168.1" cy="1080.8" r="7.2"/>
<circle cx="172.7" cy="1044.8" r="7.2"/>
<circle cx="180.3" cy="1018.7" r="7.2"/>
<circle cx="178.2" cy="1046.5" r="7.2"/>
<circle cx="178.1" cy="1041.4" r="7.2"/>
<circle cx="177.0" cy="1013.2" r="7.2"/>
<circle cx="181.9" cy="1077.8" r="7.2"/>
<circle cx="176.6" cy="1009.4" r="7.2"/>
<circle cx="181.6" cy="1014.9" r="7.2"/>
<circle cx="177.0" cy="1080.4" r="7.2"/>
<circle cx="182.5" cy="1037.8" r="7.2"/>
<circle cx="173.4" cy="1096.6" r="7.2"/>
<circle cx="186.9" cy="1074.8" r="7.2"/>
<circle cx="173.5" cy="1091.1" r="7.2"/>
<circle cx="199.9" cy="1077.9" r="7.2"/>
<circle cx="168.0" cy="1078.4" r="7.2"/>
<circle cx="178.6" cy="1004.4" r="7.2"/>
<circle cx="176.9" cy="1029.0" r="7.2"/>
<circle cx="190.8" cy="1087.6" r="7.2"/>
<circle cx="180.3" cy="973.5" r="7.2"/>
<circle cx="185.6" cy="1054.9" r="7.2"/>
<circle cx="178.2" cy="1023.8" r="7.2"/>
<circle cx="187.4" cy="1019.6" r="7.2"/>
<circle cx="188.2" cy="1055.1" r="7.2"/>
<circle cx="171.5" cy="1077.2" r="7.2"/>
<circle cx="177.4" cy="1011.6" r="7.2"/>
<circle cx="179.1" cy="1004.5" r="7.2"/>
<circle cx="193.4" cy="1048.1" r="7.2"/>
<circle cx="197.6" cy="1068.5" r="7.2"/>
<circle cx="180.1" cy="1002.1" r="7.2"/>
<circle cx="183.9" cy="1080.9" r="7.2"/>
<circle cx="178.0" cy="1047.7" r="7.2"/>
<circle cx="174.7" cy="1085.1" r="7.2"/>
<circle cx="169.9" cy="1051.3" r="7.2"/>
<circle cx="178.2" cy="1051.0" r="7.2"/>
<circle cx="174.3" cy="1078.3" r="7.2"/>
<circle cx="170.8" cy="1044.2" r="7.2"/>
<circle cx="190.7" cy="1084.9" r="7.2"/>
<circle cx="180.9" cy="1065.5" r="7.2"/>
<circle cx="187.7" cy="1061.8" r="7.2"/>
<circle cx="174.4" cy="1068.9" r="7.2"/>
<circle cx="169.4" cy="1068.2" r="7.2"/>
<circle cx="197.3" cy="1062.8" r="7.2"/>
<circle cx="169.6" cy="1057.8" r="7.2"/>
<circle cx="194.4" cy="1063.0" r="7.2"/>
<circle cx="195.7" cy="1079.6" r="7.2"/>
<circle cx="182.0" cy="1027.5" r="7.2"/>
<circle cx="184.3" cy="1027.2" r="7.2"/>
<circle cx="177.2" cy="1047.5" r="7.2"/>
<circle cx="181.4" cy="1034.7" r="7.2"/>
<circle cx="166.7" cy="1068.5" r="7.2"/>
<circle cx="172.3" cy="1084.5" r="7.2"/>
<circle cx="192.0" cy="1047.9" r="7.2"/>
<circle cx="177.2" cy="1013.0" r="7.2"/>
<circle cx="181.9" cy="976.8" r="7.2"/>
<circle cx="183.1" cy="1022.6" r="7.2"/>
<circle cx="176.5" cy="1077.2" r="7.2"/>
<circle cx="193.8" cy="1068.1" r="7.2"/>
<circle cx="171.5" cy="1077.8" r="7.2"/>
<circle cx="179.9" cy="964.0" r="7.2"/>
<circle cx="184.7" cy="1021.1" r="7.2"/>
<circle cx="196.1" cy="1069.7" r="7.2"/>
<circle cx="187.9" cy="1028.1" r="7.2"/>
<circle cx="165.2" cy="1087.2" r="7.2"/>
<circle cx="190.1" cy="1076.9" r="7.2"/>
<circle cx="168.7" cy="1070.9" r="7.2"/>
<circle cx="182.2" cy="1102.2" r="7.2"/>
<circle cx="182.3" cy="1054.1" r="7.2"/>
<circle cx="181.4" cy="993.9" r="7.2"/>
<circle cx="184.7" cy="1041.4" r="7.2"/>
<circle cx="182.1" cy="1068.1" r="7.2"/>
<circle cx="190.9" cy="1038.2" r="7.2"/>
<circle cx="188.5" cy="1061.3" r="7.2"/>
<circle cx="185.6" cy="1064.7" r="7.2"/>
<circle cx="188.9" cy="1072.3" r="7.2"/>
<circle cx="190.7" cy="1059.8" r="7.2"/>
<circle cx="174.0" cy="1066.9" r="7.2"/>
<circle cx="185.7" cy="1072.3" r="7.2"/>
<circle cx="198.5" cy="1068.3" r="7.2"/>
<circle cx="170.6" cy="1037.8" r="7.2"/>
<circle cx="190.4" cy="1081.9" r="7.2"/>
<circle cx="196.0" cy="1071.3" r="7.2"/>
<circle cx="182.4" cy="1090.7" r="7.2"/>
<circle cx="176.8" cy="1067.5" r="7.2"/>
<circle cx="182.6" cy="1050.1" r="7.2"/>
<circle cx="165.4" cy="1078.2" r="7.2"/>
<circle cx="178.3" cy="1006.9" r="7.2"/>
<circle cx="183.7" cy="1050.7" r="7.2"/>
<circle cx="175.6" cy="1067.4" r="7.2"/>
<circle cx="170.0" cy="1057.7" r="7.2"/>
<circle cx="174.5" cy="1064.9" r="7.2"/>
<circle cx="199.1" cy="1068.7" r="7.2"/>
<circle cx="187.8" cy="1073.2" r="7.2"/>
<circle cx="187.3" cy="1069.1" r="7.2"/>
<circle cx="193.4" cy="1082.1" r="7.2"/>
<circle cx="173.3" cy="1083.9" r="7.2"/>
<circle cx="176.5" cy="1026.1" r="7.2"/>
<circle cx="183.1" cy="1031.6" r="7.2"/>
<circle cx="179.8" cy="1081.6" r="7.2"/>
<circle cx="181.1" cy="998.7" r="7.2"/>
<circle cx="191.3" cy="1080.7" r="7.2"/>
<circle cx="190.0" cy="1082.7" r="7.2"/>
<circle cx="185.5" cy="1057.7" r="7.2"/>
<circle cx="177.4" cy="1035.5" r="7.2"/>
<circle cx="188.4" cy="1023.4" r="7.2"/>
<circle cx="179.3" cy="1013.4" r="7.2"/>
<circle cx="163.3" cy="1077.6" r="7.2"/>
<circle cx="166.2" cy="1069.9" r="7.2"/>
<circle cx="181.3" cy="1017.9" r="7.2"/>
<circle cx="195.9" cy="1079.5" r="7.2"/>
<circle cx="171.0" cy="1055.4" r="7.2"/>
<circle cx="175.5" cy="1041.9" r="7.2"/>
<circle cx="173.7" cy="1033.2" r="7.2"/>
<circle cx="191.3" cy="1049.1" r="7.2"/>
<circle cx="181.2" cy="968.9" r="7.2"/>
<circle cx="178.3" cy="1094.1" r="7.2"/>
<circle cx="197.6" cy="1063.9" r="7.2"/>
<circle cx="192.8" cy="1055.0" r="7.2"/>
<circle cx="181.6" cy="978.9" r="7.2"/>
<circle cx="186.3" cy="1016.1" r="7.2"/>
<circle cx="197.2" cy="1053.6" r="7.2"/>
<circle cx="193.4" cy="1080.0" r="7.2"/>
<circle cx="185.1" cy="1019.4" r="7.2"/>
<circle cx="176.1" cy="1042.8" r="7.2"/>
<circle cx="172.7" cy="1093.1" r="7.2"/>
<circle cx="180.3" cy="962.5" r="7.2"/>
<circle cx="172.6" cy="1072.5" r="7.2"/>
<circle cx="187.8" cy="1043.1" r="7.2"/>
<circle cx="179.7" cy="1092.4" r="7.2"/>
<circle cx="170.4" cy="1046.0" r="7.2"/>
<circle cx="175.2" cy="1059.0" r="7.2"/>
<circle cx="182.3" cy="1049.1" r="7.2"/>
<circle cx="180.7" cy="1105.2" r="7.2"/>
<circle cx="177.7" cy="1016.4" r="7.2"/>
<circle cx="188.6" cy="1076.5" r="7.2"/>
<circle cx="175.4" cy="1087.8" r="7.2"/>
<circle cx="181.4" cy="943.0" r="7.2"/>
<circle cx="164.0" cy="1076.4" r="7.2"/>
<circle cx="193.1" cy="1089.8" r="7.2"/>
<circle cx="182.2" cy="977.6" r="7.2"/>
<circle cx="189.5" cy="1065.7" r="7.2"/>
<circle cx="175.9" cy="1027.0" r="7.2"/>
<circle cx="168.7" cy="1060.9" r="7.2"/>
<circle cx="168.7" cy="1081.2" r="7.2"/>
<circle cx="194.8" cy="1046.4" r="7.2"/>
<circle cx="180.2" cy="1031.6" r="7.2"/>
<circle cx="199.6" cy="1065.3" r="7.2"/>
<circle cx="181.7" cy="932.7" r="7.2"/>
<circle cx="171.5" cy="1089.7" r="7.2"/>
<circle cx="168.1" cy="1078.2" r="7.2"/>
<circle cx="181.1" cy="1095.1" r="7.2"/>
<circle cx="175.0" cy="1024.5" r="7.2"/>
<circle cx="181.9" cy="943.2" r="7.2"/>
<circle cx="196.9" cy="1054.1" r="7.2"/>
<circle cx="168.4" cy="1060.8" r="7.2"/>
<circle cx="171.4" cy="1080.9" r="7.2"/>
<circle cx="175.3" cy="1022.4" r="7.2"/>
<circle cx="199.4" cy="1079.6" r="7.2"/>
<circle cx="181.2" cy="939.1" r="7.2"/>
<circle cx="178.8" cy="1079.8" r="7.2"/>
<circle cx="174.3" cy="1026.2" r="7.2"/>
<circle cx="176.7" cy="1040.1" r="7.2"/>
<circle cx="197.8" cy="1081.7" r="7.2"/>
<circle cx="182.1" cy="797.1" r="7.2"/>
<circle cx="181.5" cy="851.2" r="7.2"/>
<circle cx="180.6" cy="879.4" r="7.2"/>
<circle cx="180.8" cy="898.2" r="7.2"/>
<circle cx="181.0" cy="909.9" r="7.2"/>
<circle cx="182.0" cy="928.7" r="7.2"/>
<circle cx="182.2" cy="931.1" r="7.2"/>
</g>
<g fill="#e56600" fill-opacity="0.42" stroke="#111" stroke-opacity="0.5" stroke-width="1.2">
<circle cx="271.3" cy="1092.7" r="7.2"/>
<circle cx="246.4" cy="1095.9" r="7.2"/>
<circle cx="259.0" cy="1057.2" r="7.2"/>
<circle cx="257.2" cy="1110.1" r="7.2"/>
<circle cx="268.3" cy="1093.5" r="7.2"/>
<circle cx="256.0" cy="1099.9" r="7.2"/>
<circle cx="262.6" cy="1082.0" r="7.2"/>
<circle cx="266.6" cy="1056.0" r="7.2"/>
<circle cx="263.1" cy="1090.3" r="7.2"/>
<circle cx="265.6" cy="1078.9" r="7.2"/>
<circle cx="248.9" cy="1080.3" r="7.2"/>
<circle cx="247.6" cy="1053.1" r="7.2"/>
<circle cx="250.1" cy="1076.7" r="7.2"/>
<circle cx="248.5" cy="1091.9" r="7.2"/>
<circle cx="247.9" cy="1049.9" r="7.2"/>
<circle cx="263.4" cy="1053.0" r="7.2"/>
<circle cx="246.7" cy="1065.5" r="7.2"/>
<circle cx="256.0" cy="1044.6" r="7.2"/>
<circle cx="256.3" cy="1085.0" r="7.2"/>
<circle cx="243.1" cy="1071.6" r="7.2"/>
<circle cx="240.1" cy="1070.3" r="7.2"/>
<circle cx="264.9" cy="1068.7" r="7.2"/>
<circle cx="258.4" cy="997.2" r="7.2"/>
<circle cx="253.2" cy="1089.1" r="7.2"/>
<circle cx="255.9" cy="1055.0" r="7.2"/>
<circle cx="256.7" cy="1005.1" r="7.2"/>
<circle cx="259.9" cy="1078.5" r="7.2"/>
<circle cx="246.7" cy="1090.0" r="7.2"/>
<circle cx="264.7" cy="1069.3" r="7.2"/>
<circle cx="247.5" cy="1095.6" r="7.2"/>
<circle cx="255.4" cy="1035.9" r="7.2"/>
<circle cx="253.4" cy="1092.0" r="7.2"/>
<circle cx="263.3" cy="1071.0" r="7.2"/>
<circle cx="271.5" cy="1067.9" r="7.2"/>
<circle cx="258.0" cy="1096.0" r="7.2"/>
<circle cx="254.7" cy="1073.3" r="7.2"/>
<circle cx="249.7" cy="1035.0" r="7.2"/>
<circle cx="262.0" cy="1038.4" r="7.2"/>
<circle cx="245.0" cy="1063.4" r="7.2"/>
<circle cx="260.8" cy="1090.1" r="7.2"/>
<circle cx="264.2" cy="1095.9" r="7.2"/>
<circle cx="239.1" cy="1073.8" r="7.2"/>
<circle cx="253.0" cy="1038.7" r="7.2"/>
<circle cx="248.4" cy="1057.6" r="7.2"/>
<circle cx="254.7" cy="1089.0" r="7.2"/>
<circle cx="256.7" cy="1018.5" r="7.2"/>
<circle cx="255.0" cy="1098.2" r="7.2"/>
<circle cx="249.8" cy="1043.0" r="7.2"/>
<circle cx="256.3" cy="1092.2" r="7.2"/>
<circle cx="248.7" cy="1057.9" r="7.2"/>
<circle cx="241.0" cy="1085.4" r="7.2"/>
<circle cx="251.9" cy="1022.2" r="7.2"/>
<circle cx="260.9" cy="1087.5" r="7.2"/>
<circle cx="265.9" cy="1047.5" r="7.2"/>
<circle cx="257.5" cy="1015.9" r="7.2"/>
<circle cx="236.7" cy="1077.4" r="7.2"/>
<circle cx="255.5" cy="1073.6" r="7.2"/>
<circle cx="263.1" cy="1056.1" r="7.2"/>
<circle cx="259.9" cy="1094.7" r="7.2"/>
<circle cx="255.0" cy="997.9" r="7.2"/>
<circle cx="257.3" cy="1035.9" r="7.2"/>
<circle cx="250.5" cy="1093.0" r="7.2"/>
<circle cx="261.1" cy="1030.1" r="7.2"/>
<circle cx="260.1" cy="1035.8" r="7.2"/>
<circle cx="251.0" cy="1056.5" r="7.2"/>
<circle cx="265.0" cy="1074.2" r="7.2"/>
<circle cx="263.5" cy="1053.8" r="7.2"/>
<circle cx="256.6" cy="978.2" r="7.2"/>
<circle cx="266.9" cy="1097.5" r="7.2"/>
<circle cx="263.5" cy="1085.2" r="7.2"/>
<circle cx="254.2" cy="1055.7" r="7.2"/>
<circle cx="263.0" cy="1099.3" r="7.2"/>
<circle cx="255.5" cy="990.9" r="7.2"/>
<circle cx="255.4" cy="1107.3" r="7.2"/>
<circle cx="271.8" cy="1084.9" r="7.2"/>
<circle cx="260.7" cy="1043.5" r="7.2"/>
<circle cx="242.4" cy="1094.8" r="7.2"/>
<circle cx="256.5" cy="1050.0" r="7.2"/>
<circle cx="255.2" cy="1059.8" r="7.2"/>
<circle cx="260.3" cy="1039.9" r="7.2"/>
<circle cx="259.6" cy="1035.0" r="7.2"/>
<circle cx="261.6" cy="1100.4" r="7.2"/>
<circle cx="252.9" cy="1078.6" r="7.2"/>
<circle cx="255.2" cy="1061.6" r="7.2"/>
<circle cx="256.9" cy="1051.0" r="7.2"/>
<circle cx="261.8" cy="1069.5" r="7.2"/>
<circle cx="256.9" cy="1071.3" r="7.2"/>
<circle cx="261.4" cy="1099.9" r="7.2"/>
<circle cx="275.0" cy="1074.6" r="7.2"/>
<circle cx="245.0" cy="1058.1" r="7.2"/>
<circle cx="268.9" cy="1062.6" r="7.2"/>
<circle cx="254.3" cy="1050.5" r="7.2"/>
<circle cx="258.6" cy="1087.8" r="7.2"/>
<circle cx="260.5" cy="1022.1" r="7.2"/>
<circle cx="270.1" cy="1079.1" r="7.2"/>
<circle cx="254.2" cy="1075.1" r="7.2"/>
<circle cx="244.9" cy="1059.9" r="7.2"/>
<circle cx="257.8" cy="1051.5" r="7.2"/>
<circle cx="271.7" cy="1074.4" r="7.2"/>
<circle cx="254.0" cy="1093.1" r="7.2"/>
<circle cx="249.2" cy="1057.9" r="7.2"/>
<circle cx="249.2" cy="1090.3" r="7.2"/>
<circle cx="262.5" cy="1044.9" r="7.2"/>
<circle cx="265.7" cy="1047.8" r="7.2"/>
<circle cx="255.0" cy="1021.0" r="7.2"/>
<circle cx="261.2" cy="1095.9" r="7.2"/>
<circle cx="255.6" cy="957.5" r="7.2"/>
<circle cx="257.1" cy="978.4" r="7.2"/>
<circle cx="258.2" cy="1096.2" r="7.2"/>
<circle cx="256.7" cy="1066.6" r="7.2"/>
<circle cx="238.4" cy="1088.2" r="7.2"/>
<circle cx="254.7" cy="1085.1" r="7.2"/>
<circle cx="266.9" cy="1096.7" r="7.2"/>
<circle cx="252.7" cy="1063.2" r="7.2"/>
<circle cx="258.1" cy="1005.9" r="7.2"/>
<circle cx="258.8" cy="1106.6" r="7.2"/>
<circle cx="272.2" cy="1076.5" r="7.2"/>
<circle cx="256.8" cy="1009.5" r="7.2"/>
<circle cx="250.1" cy="1097.7" r="7.2"/>
<circle cx="251.2" cy="1060.8" r="7.2"/>
<circle cx="252.9" cy="1024.3" r="7.2"/>
<circle cx="259.7" cy="1080.3" r="7.2"/>
<circle cx="249.6" cy="1095.3" r="7.2"/>
<circle cx="259.9" cy="1057.5" r="7.2"/>
<circle cx="255.6" cy="1027.8" r="7.2"/>
<circle cx="269.8" cy="1064.0" r="7.2"/>
<circle cx="270.1" cy="1077.1" r="7.2"/>
<circle cx="255.3" cy="1040.4" r="7.2"/>
<circle cx="252.8" cy="1015.9" r="7.2"/>
<circle cx="252.6" cy="1057.2" r="7.2"/>
<circle cx="258.4" cy="1032.6" r="7.2"/>
<circle cx="250.0" cy="1062.7" r="7.2"/>
<circle cx="246.5" cy="1081.7" r="7.2"/>
<circle cx="267.6" cy="1061.6" r="7.2"/>
<circle cx="268.2" cy="1090.8" r="7.2"/>
<circle cx="258.4" cy="1018.7" r="7.2"/>
<circle cx="272.4" cy="1075.5" r="7.2"/>
<circle cx="255.4" cy="1081.2" r="7.2"/>
<circle cx="245.9" cy="1095.6" r="7.2"/>
<circle cx="241.6" cy="1092.1" r="7.2"/>
<circle cx="245.8" cy="1087.5" r="7.2"/>
<circle cx="253.9" cy="1044.2" r="7.2"/>
<circle cx="240.4" cy="1090.7" r="7.2"/>
<circle cx="266.0" cy="1047.6" r="7.2"/>
<circle cx="256.8" cy="1055.3" r="7.2"/>
<circle cx="251.9" cy="1032.7" r="7.2"/>
<circle cx="238.3" cy="1082.7" r="7.2"/>
<circle cx="254.9" cy="985.5" r="7.2"/>
<circle cx="247.6" cy="1067.8" r="7.2"/>
<circle cx="267.8" cy="1081.8" r="7.2"/>
<circle cx="255.9" cy="864.1" r="7.2"/>
<circle cx="255.9" cy="929.9" r="7.2"/>
<circle cx="257.4" cy="947.5" r="7.2"/>
<circle cx="255.9" cy="956.9" r="7.2"/>
</g>
<g fill="#731200" fill-opacity="0.42" stroke="#111" stroke-opacity="0.5" stroke-width="1.2">
<circle cx="331.9" cy="1029.8" r="7.2"/>
<circle cx="329.2" cy="1029.3" r="7.2"/>
<circle cx="341.9" cy="1049.9" r="7.2"/>
<circle cx="327.3" cy="1063.7" r="7.2"/>
<circle cx="337.4" cy="1084.7" r="7.2"/>
<circle cx="345.3" cy="1086.4" r="7.2"/>
<circle cx="335.2" cy="1045.7" r="7.2"/>
<circle cx="331.9" cy="986.5" r="7.2"/>
<circle cx="342.9" cy="1055.9" r="7.2"/>
<circle cx="339.5" cy="1056.3" r="7.2"/>
<circle cx="328.3" cy="1089.7" r="7.2"/>
<circle cx="335.4" cy="1015.2" r="7.2"/>
<circle cx="320.9" cy="1053.0" r="7.2"/>
<circle cx="325.4" cy="1034.2" r="7.2"/>
<circle cx="339.2" cy="1053.9" r="7.2"/>
<circle cx="346.2" cy="1083.7" r="7.2"/>
<circle cx="327.6" cy="1080.3" r="7.2"/>
<circle cx="324.1" cy="1077.0" r="7.2"/>
<circle cx="336.2" cy="1057.7" r="7.2"/>
<circle cx="345.6" cy="1068.0" r="7.2"/>
<circle cx="327.0" cy="1036.8" r="7.2"/>
<circle cx="340.9" cy="1059.1" r="7.2"/>
<circle cx="318.5" cy="1055.9" r="7.2"/>
<circle cx="314.3" cy="1071.0" r="7.2"/>
<circle cx="329.4" cy="1075.9" r="7.2"/>
<circle cx="346.3" cy="1060.8" r="7.2"/>
<circle cx="333.3" cy="1016.5" r="7.2"/>
<circle cx="330.3" cy="999.2" r="7.2"/>
<circle cx="341.8" cy="1077.4" r="7.2"/>
<circle cx="324.0" cy="1038.8" r="7.2"/>
<circle cx="330.4" cy="1088.3" r="7.2"/>
<circle cx="327.2" cy="1093.8" r="7.2"/>
<circle cx="314.2" cy="1067.6" r="7.2"/>
<circle cx="341.3" cy="1057.8" r="7.2"/>
<circle cx="317.9" cy="1065.7" r="7.2"/>
<circle cx="329.9" cy="1048.8" r="7.2"/>
<circle cx="329.5" cy="1016.3" r="7.2"/>
<circle cx="319.8" cy="1087.2" r="7.2"/>
<circle cx="331.8" cy="1032.7" r="7.2"/>
<circle cx="329.8" cy="1018.4" r="7.2"/>
<circle cx="332.7" cy="1000.6" r="7.2"/>
<circle cx="347.9" cy="1066.5" r="7.2"/>
<circle cx="323.9" cy="1077.2" r="7.2"/>
<circle cx="335.6" cy="1080.6" r="7.2"/>
<circle cx="326.5" cy="1029.3" r="7.2"/>
<circle cx="331.7" cy="1098.2" r="7.2"/>
<circle cx="330.0" cy="1036.4" r="7.2"/>
<circle cx="336.4" cy="1086.6" r="7.2"/>
<circle cx="347.2" cy="1074.3" r="7.2"/>
<circle cx="316.1" cy="1082.4" r="7.2"/>
<circle cx="320.4" cy="1053.1" r="7.2"/>
<circle cx="316.4" cy="1057.3" r="7.2"/>
<circle cx="342.9" cy="1069.7" r="7.2"/>
<circle cx="324.8" cy="1051.7" r="7.2"/>
<circle cx="323.0" cy="1065.6" r="7.2"/>
<circle cx="347.7" cy="1077.3" r="7.2"/>
<circle cx="327.8" cy="1021.6" r="7.2"/>
<circle cx="328.3" cy="1016.5" r="7.2"/>
<circle cx="315.5" cy="1056.6" r="7.2"/>
<circle cx="346.4" cy="1066.1" r="7.2"/>
<circle cx="338.8" cy="1068.3" r="7.2"/>
<circle cx="322.0" cy="1053.4" r="7.2"/>
<circle cx="335.8" cy="1040.1" r="7.2"/>
<circle cx="342.7" cy="1084.2" r="7.2"/>
<circle cx="328.6" cy="1097.3" r="7.2"/>
<circle cx="323.7" cy="1052.0" r="7.2"/>
<circle cx="332.6" cy="1080.2" r="7.2"/>
<circle cx="337.8" cy="1029.3" r="7.2"/>
<circle cx="340.5" cy="1069.6" r="7.2"/>
<circle cx="328.9" cy="1073.1" r="7.2"/>
<circle cx="344.3" cy="1081.7" r="7.2"/>
<circle cx="340.6" cy="1052.1" r="7.2"/>
<circle cx="319.5" cy="1070.0" r="7.2"/>
<circle cx="334.0" cy="1076.9" r="7.2"/>
<circle cx="328.8" cy="1080.6" r="7.2"/>
<circle cx="326.8" cy="1087.3" r="7.2"/>
<circle cx="328.8" cy="1082.4" r="7.2"/>
<circle cx="344.1" cy="1054.4" r="7.2"/>
<circle cx="326.4" cy="1084.4" r="7.2"/>
<circle cx="322.8" cy="1051.0" r="7.2"/>
<circle cx="338.7" cy="1070.7" r="7.2"/>
<circle cx="313.9" cy="1069.4" r="7.2"/>
<circle cx="327.8" cy="1027.2" r="7.2"/>
<circle cx="329.8" cy="1034.6" r="7.2"/>
<circle cx="329.4" cy="1068.1" r="7.2"/>
<circle cx="340.4" cy="1078.3" r="7.2"/>
<circle cx="335.5" cy="1023.1" r="7.2"/>
<circle cx="344.2" cy="1086.1" r="7.2"/>
<circle cx="330.3" cy="991.5" r="7.2"/>
<circle cx="343.8" cy="1072.2" r="7.2"/>
<circle cx="340.2" cy="1081.3" r="7.2"/>
<circle cx="320.7" cy="1047.6" r="7.2"/>
<circle cx="334.0" cy="1067.7" r="7.2"/>
<circle cx="347.3" cy="1059.1" r="7.2"/>
<circle cx="327.9" cy="1031.7" r="7.2"/>
<circle cx="344.1" cy="1080.2" r="7.2"/>
<circle cx="336.6" cy="1090.6" r="7.2"/>
<circle cx="335.7" cy="1049.1" r="7.2"/>
<circle cx="326.9" cy="1038.5" r="7.2"/>
<circle cx="327.4" cy="1019.9" r="7.2"/>
<circle cx="322.3" cy="1048.1" r="7.2"/>
<circle cx="344.5" cy="1068.2" r="7.2"/>
<circle cx="343.7" cy="1055.4" r="7.2"/>
<circle cx="324.7" cy="1029.7" r="7.2"/>
<circle cx="335.0" cy="1054.9" r="7.2"/>
<circle cx="337.6" cy="1037.2" r="7.2"/>
<circle cx="327.8" cy="1056.5" r="7.2"/>
<circle cx="341.5" cy="1080.5" r="7.2"/>
<circle cx="327.6" cy="1032.3" r="7.2"/>
<circle cx="326.0" cy="1028.9" r="7.2"/>
<circle cx="336.4" cy="1060.1" r="7.2"/>
<circle cx="341.6" cy="1065.3" r="7.2"/>
<circle cx="326.4" cy="1035.2" r="7.2"/>
<circle cx="348.6" cy="1060.4" r="7.2"/>
<circle cx="319.8" cy="1063.4" r="7.2"/>
<circle cx="335.9" cy="1075.2" r="7.2"/>
<circle cx="332.1" cy="1023.7" r="7.2"/>
<circle cx="330.9" cy="1001.1" r="7.2"/>
<circle cx="331.3" cy="975.9" r="7.2"/>
<circle cx="323.7" cy="1038.0" r="7.2"/>
<circle cx="345.8" cy="1075.9" r="7.2"/>
<circle cx="315.7" cy="1071.2" r="7.2"/>
<circle cx="337.2" cy="1025.5" r="7.2"/>
<circle cx="318.7" cy="1068.5" r="7.2"/>
<circle cx="337.0" cy="1032.1" r="7.2"/>
<circle cx="329.2" cy="1003.7" r="7.2"/>
<circle cx="340.3" cy="1052.7" r="7.2"/>
<circle cx="349.9" cy="1066.6" r="7.2"/>
<circle cx="346.3" cy="1062.5" r="7.2"/>
<circle cx="333.7" cy="1016.3" r="7.2"/>
<circle cx="332.5" cy="901.7" r="7.2"/>
<circle cx="331.5" cy="914.6" r="7.2"/>
<circle cx="331.5" cy="955.8" r="7.2"/>
<circle cx="332.4" cy="978.1" r="7.2"/>
</g>
<g fill="#0d4b5e" fill-opacity="0.42" stroke="#111" stroke-opacity="0.5" stroke-width="1.2">
<circle cx="404.2" cy="1096.1" r="7.2"/>
<circle cx="395.9" cy="1086.5" r="7.2"/>
<circle cx="394.9" cy="1046.8" r="7.2"/>
<circle cx="425.9" cy="1067.6" r="7.2"/>
<circle cx="396.2" cy="1065.5" r="7.2"/>
<circle cx="406.4" cy="962.2" r="7.2"/>
<circle cx="410.0" cy="1027.4" r="7.2"/>
<circle cx="407.7" cy="968.8" r="7.2"/>
<circle cx="405.1" cy="1076.9" r="7.2"/>
<circle cx="420.1" cy="1050.9" r="7.2"/>
<circle cx="396.1" cy="1081.7" r="7.2"/>
<circle cx="415.9" cy="1037.5" r="7.2"/>
<circle cx="425.7" cy="1077.9" r="7.2"/>
<circle cx="426.8" cy="1062.5" r="7.2"/>
<circle cx="409.1" cy="1051.8" r="7.2"/>
<circle cx="405.9" cy="1100.8" r="7.2"/>
<circle cx="413.2" cy="1056.5" r="7.2"/>
<circle cx="408.8" cy="986.3" r="7.2"/>
<circle cx="403.4" cy="1052.0" r="7.2"/>
<circle cx="406.8" cy="1090.7" r="7.2"/>
<circle cx="402.5" cy="1077.0" r="7.2"/>
<circle cx="409.1" cy="1068.0" r="7.2"/>
<circle cx="407.1" cy="1042.1" r="7.2"/>
<circle cx="413.3" cy="1028.2" r="7.2"/>
<circle cx="389.5" cy="1080.1" r="7.2"/>
<circle cx="412.8" cy="1093.9" r="7.2"/>
<circle cx="409.4" cy="1034.7" r="7.2"/>
<circle cx="394.4" cy="1045.3" r="7.2"/>
<circle cx="419.0" cy="1064.3" r="7.2"/>
<circle cx="413.4" cy="1085.2" r="7.2"/>
<circle cx="418.9" cy="1045.7" r="7.2"/>
<circle cx="418.8" cy="1063.8" r="7.2"/>
<circle cx="397.8" cy="1076.1" r="7.2"/>
<circle cx="392.3" cy="1060.9" r="7.2"/>
<circle cx="405.7" cy="1011.9" r="7.2"/>
<circle cx="396.9" cy="1051.9" r="7.2"/>
<circle cx="397.9" cy="1075.7" r="7.2"/>
<circle cx="392.0" cy="1080.7" r="7.2"/>
<circle cx="407.5" cy="997.8" r="7.2"/>
<circle cx="410.8" cy="1077.4" r="7.2"/>
<circle cx="405.4" cy="998.4" r="7.2"/>
<circle cx="397.0" cy="1080.8" r="7.2"/>
<circle cx="407.7" cy="1092.0" r="7.2"/>
<circle cx="426.2" cy="1059.2" r="7.2"/>
<circle cx="401.8" cy="1045.9" r="7.2"/>
<circle cx="393.6" cy="1084.9" r="7.2"/>
<circle cx="399.2" cy="1031.3" r="7.2"/>
<circle cx="414.0" cy="1063.9" r="7.2"/>
<circle cx="419.7" cy="1070.3" r="7.2"/>
<circle cx="392.7" cy="1075.3" r="7.2"/>
<circle cx="396.9" cy="1063.1" r="7.2"/>
<circle cx="407.2" cy="1053.6" r="7.2"/>
<circle cx="401.3" cy="1018.1" r="7.2"/>
<circle cx="403.7" cy="1025.3" r="7.2"/>
<circle cx="398.0" cy="1051.9" r="7.2"/>
<circle cx="397.8" cy="1082.7" r="7.2"/>
<circle cx="398.6" cy="1053.1" r="7.2"/>
<circle cx="410.6" cy="1026.3" r="7.2"/>
<circle cx="407.2" cy="994.5" r="7.2"/>
<circle cx="402.6" cy="1085.6" r="7.2"/>
<circle cx="409.5" cy="1098.9" r="7.2"/>
<circle cx="408.4" cy="1009.5" r="7.2"/>
<circle cx="402.1" cy="1023.8" r="7.2"/>
<circle cx="422.7" cy="1082.6" r="7.2"/>
<circle cx="411.7" cy="1050.4" r="7.2"/>
<circle cx="416.2" cy="1075.4" r="7.2"/>
<circle cx="405.8" cy="1021.6" r="7.2"/>
<circle cx="391.0" cy="1071.7" r="7.2"/>
<circle cx="414.7" cy="1089.7" r="7.2"/>
<circle cx="405.4" cy="1093.9" r="7.2"/>
<circle cx="407.9" cy="1096.7" r="7.2"/>
<circle cx="405.0" cy="1009.6" r="7.2"/>
<circle cx="398.7" cy="1066.6" r="7.2"/>
<circle cx="407.2" cy="1042.7" r="7.2"/>
<circle cx="393.1" cy="1083.4" r="7.2"/>
<circle cx="415.9" cy="1037.9" r="7.2"/>
<circle cx="410.3" cy="1069.8" r="7.2"/>
<circle cx="407.5" cy="970.3" r="7.2"/>
<circle cx="407.6" cy="1040.4" r="7.2"/>
<circle cx="405.8" cy="1087.8" r="7.2"/>
<circle cx="407.8" cy="969.2" r="7.2"/>
<circle cx="411.0" cy="1033.6" r="7.2"/>
<circle cx="401.9" cy="1038.5" r="7.2"/>
<circle cx="395.1" cy="1065.9" r="7.2"/>
<circle cx="405.3" cy="1025.3" r="7.2"/>
<circle cx="392.9" cy="1082.4" r="7.2"/>
<circle cx="407.8" cy="1041.8" r="7.2"/>
<circle cx="392.4" cy="1049.1" r="7.2"/>
<circle cx="390.8" cy="1051.3" r="7.2"/>
<circle cx="408.3" cy="983.6" r="7.2"/>
<circle cx="418.0" cy="1067.8" r="7.2"/>
<circle cx="424.9" cy="1075.0" r="7.2"/>
<circle cx="409.5" cy="999.8" r="7.2"/>
<circle cx="406.1" cy="1054.0" r="7.2"/>
<circle cx="404.1" cy="1016.8" r="7.2"/>
<circle cx="407.2" cy="1099.3" r="7.2"/>
<circle cx="396.9" cy="1084.9" r="7.2"/>
<circle cx="426.9" cy="1061.4" r="7.2"/>
<circle cx="414.8" cy="1042.1" r="7.2"/>
<circle cx="405.9" cy="1038.5" r="7.2"/>
<circle cx="410.5" cy="1032.8" r="7.2"/>
<circle cx="414.7" cy="1068.2" r="7.2"/>
<circle cx="406.4" cy="958.3" r="7.2"/>
<circle cx="405.0" cy="1072.2" r="7.2"/>
<circle cx="411.1" cy="1063.9" r="7.2"/>
<circle cx="391.1" cy="1059.0" r="7.2"/>
<circle cx="411.0" cy="1047.1" r="7.2"/>
<circle cx="401.0" cy="1081.6" r="7.2"/>
<circle cx="414.3" cy="1029.4" r="7.2"/>
<circle cx="406.8" cy="1066.5" r="7.2"/>
<circle cx="405.5" cy="985.7" r="7.2"/>
<circle cx="411.4" cy="1019.7" r="7.2"/>
<circle cx="408.7" cy="978.3" r="7.2"/>
<circle cx="408.5" cy="1090.5" r="7.2"/>
<circle cx="410.1" cy="1045.2" r="7.2"/>
<circle cx="411.5" cy="1060.0" r="7.2"/>
<circle cx="420.7" cy="1076.4" r="7.2"/>
<circle cx="419.5" cy="1042.4" r="7.2"/>
<circle cx="389.6" cy="1078.0" r="7.2"/>
<circle cx="400.7" cy="1022.4" r="7.2"/>
<circle cx="400.0" cy="1075.3" r="7.2"/>
<circle cx="411.1" cy="1084.7" r="7.2"/>
<circle cx="406.0" cy="981.6" r="7.2"/>
<circle cx="407.7" cy="1100.1" r="7.2"/>
<circle cx="404.5" cy="1036.7" r="7.2"/>
<circle cx="393.3" cy="1066.9" r="7.2"/>
<circle cx="402.0" cy="1081.2" r="7.2"/>
<circle cx="420.4" cy="1068.3" r="7.2"/>
<circle cx="407.7" cy="957.8" r="7.2"/>
<circle cx="422.1" cy="1072.8" r="7.2"/>
<circle cx="394.9" cy="1070.2" r="7.2"/>
<circle cx="400.1" cy="1066.5" r="7.2"/>
<circle cx="410.7" cy="1013.9" r="7.2"/>
<circle cx="414.8" cy="1091.3" r="7.2"/>
<circle cx="419.9" cy="1060.1" r="7.2"/>
<circle cx="401.1" cy="1084.2" r="7.2"/>
<circle cx="404.5" cy="1052.8" r="7.2"/>
<circle cx="414.1" cy="1042.2" r="7.2"/>
<circle cx="408.8" cy="1097.0" r="7.2"/>
<circle cx="388.7" cy="1078.2" r="7.2"/>
<circle cx="420.4" cy="1045.2" r="7.2"/>
<circle cx="419.8" cy="1063.2" r="7.2"/>
<circle cx="421.5" cy="1066.7" r="7.2"/>
<circle cx="392.6" cy="1058.6" r="7.2"/>
<circle cx="407.5" cy="1092.5" r="7.2"/>
<circle cx="403.4" cy="1056.3" r="7.2"/>
<circle cx="406.5" cy="1067.1" r="7.2"/>
<circle cx="404.5" cy="1075.1" r="7.2"/>
<circle cx="417.0" cy="1061.7" r="7.2"/>
<circle cx="414.0" cy="1021.0" r="7.2"/>
<circle cx="405.7" cy="1051.9" r="7.2"/>
<circle cx="404.8" cy="1089.6" r="7.2"/>
<circle cx="396.5" cy="1081.2" r="7.2"/>
<circle cx="405.2" cy="1030.0" r="7.2"/>
<circle cx="414.6" cy="1023.9" r="7.2"/>
<circle cx="407.9" cy="1039.4" r="7.2"/>
<circle cx="420.5" cy="1045.9" r="7.2"/>
<circle cx="406.1" cy="1031.2" r="7.2"/>
<circle cx="392.0" cy="1077.2" r="7.2"/>
<circle cx="416.0" cy="1068.8" r="7.2"/>
<circle cx="407.1" cy="980.1" r="7.2"/>
<circle cx="416.8" cy="1058.6" r="7.2"/>
<circle cx="412.1" cy="1075.2" r="7.2"/>
<circle cx="426.6" cy="1060.2" r="7.2"/>
<circle cx="410.5" cy="1033.2" r="7.2"/>
<circle cx="398.4" cy="1035.3" r="7.2"/>
<circle cx="404.8" cy="1052.0" r="7.2"/>
<circle cx="409.6" cy="1045.9" r="7.2"/>
<circle cx="402.3" cy="1040.6" r="7.2"/>
<circle cx="405.2" cy="996.7" r="7.2"/>
<circle cx="407.5" cy="846.5" r="7.2"/>
<circle cx="408.0" cy="907.6" r="7.2"/>
<circle cx="408.0" cy="929.9" r="7.2"/>
<circle cx="407.9" cy="945.2" r="7.2"/>
<circle cx="406.6" cy="947.5" r="7.2"/>
</g>
<g fill="#e56600" fill-opacity="0.42" stroke="#111" stroke-opacity="0.5" stroke-width="1.2">
<circle cx="491.7" cy="1076.2" r="7.2"/>
<circle cx="478.9" cy="1073.7" r="7.2"/>
<circle cx="482.5" cy="1035.3" r="7.2"/>
<circle cx="481.0" cy="1071.8" r="7.2"/>
<circle cx="484.0" cy="1048.9" r="7.2"/>
<circle cx="481.3" cy="1111.8" r="7.2"/>
<circle cx="498.5" cy="1086.4" r="7.2"/>
<circle cx="472.8" cy="1080.0" r="7.2"/>
<circle cx="475.5" cy="1087.9" r="7.2"/>
<circle cx="489.7" cy="1094.8" r="7.2"/>
<circle cx="487.9" cy="1073.1" r="7.2"/>
<circle cx="487.4" cy="1066.1" r="7.2"/>
<circle cx="496.0" cy="1103.2" r="7.2"/>
<circle cx="491.9" cy="1098.0" r="7.2"/>
<circle cx="471.3" cy="1105.1" r="7.2"/>
<circle cx="478.2" cy="1105.8" r="7.2"/>
<circle cx="482.5" cy="1059.5" r="7.2"/>
<circle cx="470.3" cy="1102.8" r="7.2"/>
<circle cx="470.0" cy="1089.8" r="7.2"/>
<circle cx="479.9" cy="1110.1" r="7.2"/>
<circle cx="479.3" cy="1079.9" r="7.2"/>
<circle cx="478.5" cy="1106.5" r="7.2"/>
<circle cx="482.7" cy="1091.1" r="7.2"/>
<circle cx="495.1" cy="1095.6" r="7.2"/>
<circle cx="485.0" cy="1066.6" r="7.2"/>
<circle cx="474.3" cy="1071.2" r="7.2"/>
<circle cx="474.0" cy="1078.3" r="7.2"/>
<circle cx="494.4" cy="1088.1" r="7.2"/>
<circle cx="479.3" cy="1056.5" r="7.2"/>
<circle cx="484.8" cy="1076.0" r="7.2"/>
<circle cx="486.3" cy="1084.1" r="7.2"/>
<circle cx="485.2" cy="1084.3" r="7.2"/>
<circle cx="477.8" cy="1060.0" r="7.2"/>
<circle cx="479.8" cy="1053.4" r="7.2"/>
<circle cx="492.7" cy="1097.5" r="7.2"/>
<circle cx="487.0" cy="1062.9" r="7.2"/>
<circle cx="463.6" cy="1094.1" r="7.2"/>
<circle cx="482.5" cy="1112.9" r="7.2"/>
<circle cx="482.7" cy="1041.7" r="7.2"/>
<circle cx="479.0" cy="1085.4" r="7.2"/>
<circle cx="471.5" cy="1097.7" r="7.2"/>
<circle cx="476.8" cy="1067.3" r="7.2"/>
<circle cx="482.3" cy="1112.7" r="7.2"/>
<circle cx="463.2" cy="1091.8" r="7.2"/>
<circle cx="469.0" cy="1079.9" r="7.2"/>
<circle cx="493.9" cy="1090.4" r="7.2"/>
<circle cx="502.6" cy="1090.9" r="7.2"/>
<circle cx="468.0" cy="1093.5" r="7.2"/>
<circle cx="479.3" cy="1090.3" r="7.2"/>
<circle cx="487.6" cy="1081.5" r="7.2"/>
<circle cx="485.2" cy="1055.1" r="7.2"/>
<circle cx="469.8" cy="1092.3" r="7.2"/>
<circle cx="494.3" cy="1080.8" r="7.2"/>
<circle cx="468.9" cy="1080.6" r="7.2"/>
<circle cx="488.3" cy="1103.5" r="7.2"/>
<circle cx="476.9" cy="1075.1" r="7.2"/>
<circle cx="484.7" cy="1061.3" r="7.2"/>
<circle cx="487.7" cy="1105.7" r="7.2"/>
<circle cx="483.0" cy="1079.1" r="7.2"/>
<circle cx="481.6" cy="1110.3" r="7.2"/>
<circle cx="484.6" cy="1092.7" r="7.2"/>
<circle cx="487.3" cy="1078.0" r="7.2"/>
<circle cx="478.1" cy="1059.9" r="7.2"/>
<circle cx="489.8" cy="1070.4" r="7.2"/>
<circle cx="482.8" cy="1075.1" r="7.2"/>
<circle cx="497.6" cy="1087.2" r="7.2"/>
<circle cx="477.5" cy="1090.7" r="7.2"/>
<circle cx="467.1" cy="1083.5" r="7.2"/>
<circle cx="484.2" cy="1062.3" r="7.2"/>
<circle cx="483.9" cy="1109.4" r="7.2"/>
<circle cx="479.7" cy="1055.8" r="7.2"/>
<circle cx="484.2" cy="1057.0" r="7.2"/>
<circle cx="466.0" cy="1083.5" r="7.2"/>
<circle cx="473.6" cy="1096.1" r="7.2"/>
<circle cx="485.4" cy="1085.5" r="7.2"/>
<circle cx="483.4" cy="1092.4" r="7.2"/>
<circle cx="479.4" cy="1061.2" r="7.2"/>
<circle cx="487.7" cy="1072.5" r="7.2"/>
<circle cx="479.9" cy="1048.3" r="7.2"/>
<circle cx="484.3" cy="1074.8" r="7.2"/>
<circle cx="484.0" cy="1065.3" r="7.2"/>
<circle cx="477.6" cy="1101.1" r="7.2"/>
<circle cx="479.7" cy="1062.2" r="7.2"/>
<circle cx="500.8" cy="1088.4" r="7.2"/>
<circle cx="493.6" cy="1085.0" r="7.2"/>
<circle cx="476.7" cy="1102.4" r="7.2"/>
<circle cx="481.3" cy="1068.6" r="7.2"/>
<circle cx="469.9" cy="1085.2" r="7.2"/>
<circle cx="476.7" cy="1083.5" r="7.2"/>
<circle cx="481.7" cy="1090.1" r="7.2"/>
<circle cx="483.1" cy="1109.7" r="7.2"/>
<circle cx="474.9" cy="1081.5" r="7.2"/>
<circle cx="494.7" cy="1090.1" r="7.2"/>
<circle cx="480.8" cy="1061.2" r="7.2"/>
<circle cx="479.0" cy="1078.3" r="7.2"/>
<circle cx="464.0" cy="1099.7" r="7.2"/>
<circle cx="499.5" cy="1092.8" r="7.2"/>
<circle cx="475.1" cy="1089.3" r="7.2"/>
<circle cx="468.7" cy="1082.1" r="7.2"/>
<circle cx="474.3" cy="1102.0" r="7.2"/>
<circle cx="497.0" cy="1093.3" r="7.2"/>
<circle cx="481.0" cy="1095.5" r="7.2"/>
<circle cx="478.9" cy="1066.5" r="7.2"/>
<circle cx="473.5" cy="1080.8" r="7.2"/>
<circle cx="485.2" cy="1064.0" r="7.2"/>
<circle cx="497.3" cy="1101.4" r="7.2"/>
<circle cx="483.3" cy="1050.0" r="7.2"/>
<circle cx="488.7" cy="1101.9" r="7.2"/>
<circle cx="488.2" cy="1067.2" r="7.2"/>
<circle cx="492.8" cy="1092.1" r="7.2"/>
<circle cx="489.3" cy="1085.7" r="7.2"/>
<circle cx="481.4" cy="1111.8" r="7.2"/>
<circle cx="494.8" cy="1085.5" r="7.2"/>
<circle cx="463.1" cy="1093.4" r="7.2"/>
<circle cx="470.3" cy="1090.3" r="7.2"/>
<circle cx="470.0" cy="1085.9" r="7.2"/>
<circle cx="476.4" cy="1106.6" r="7.2"/>
<circle cx="490.6" cy="1085.4" r="7.2"/>
<circle cx="483.3" cy="1065.1" r="7.2"/>
<circle cx="466.9" cy="1098.0" r="7.2"/>
<circle cx="484.6" cy="1097.6" r="7.2"/>
<circle cx="467.8" cy="1086.7" r="7.2"/>
<circle cx="467.9" cy="1095.7" r="7.2"/>
<circle cx="485.0" cy="1094.1" r="7.2"/>
<circle cx="489.8" cy="1100.1" r="7.2"/>
<circle cx="488.2" cy="1068.5" r="7.2"/>
<circle cx="492.2" cy="1101.3" r="7.2"/>
<circle cx="483.6" cy="1050.0" r="7.2"/>
<circle cx="486.7" cy="1073.7" r="7.2"/>
<circle cx="480.5" cy="1073.8" r="7.2"/>
<circle cx="481.9" cy="994.5" r="7.2"/>
<circle cx="482.0" cy="1018.0" r="7.2"/>
<circle cx="482.1" cy="1020.4" r="7.2"/>
<circle cx="483.0" cy="1027.4" r="7.2"/>
</g>
<g fill="#731200" fill-opacity="0.42" stroke="#111" stroke-opacity="0.5" stroke-width="1.2">
<circle cx="572.6" cy="1082.6" r="7.2"/>
<circle cx="557.2" cy="1006.9" r="7.2"/>
<circle cx="576.1" cy="1079.8" r="7.2"/>
<circle cx="542.3" cy="1094.6" r="7.2"/>
<circle cx="557.1" cy="1027.2" r="7.2"/>
<circle cx="568.4" cy="1063.8" r="7.2"/>
<circle cx="554.4" cy="1093.8" r="7.2"/>
<circle cx="548.5" cy="1068.8" r="7.2"/>
<circle cx="573.9" cy="1085.4" r="7.2"/>
<circle cx="574.8" cy="1084.3" r="7.2"/>
<circle cx="576.2" cy="1078.7" r="7.2"/>
<circle cx="553.4" cy="1098.6" r="7.2"/>
<circle cx="559.9" cy="1055.0" r="7.2"/>
<circle cx="542.6" cy="1091.7" r="7.2"/>
<circle cx="564.3" cy="1094.2" r="7.2"/>
<circle cx="545.9" cy="1098.1" r="7.2"/>
<circle cx="556.4" cy="1008.6" r="7.2"/>
<circle cx="558.3" cy="1038.3" r="7.2"/>
<circle cx="562.1" cy="1095.8" r="7.2"/>
<circle cx="550.7" cy="1094.2" r="7.2"/>
<circle cx="568.0" cy="1098.6" r="7.2"/>
<circle cx="562.5" cy="1086.9" r="7.2"/>
<circle cx="560.0" cy="1022.4" r="7.2"/>
<circle cx="557.4" cy="1070.8" r="7.2"/>
<circle cx="557.8" cy="1028.8" r="7.2"/>
<circle cx="558.7" cy="1073.5" r="7.2"/>
<circle cx="569.3" cy="1077.6" r="7.2"/>
<circle cx="541.1" cy="1089.6" r="7.2"/>
<circle cx="562.8" cy="1065.4" r="7.2"/>
<circle cx="575.1" cy="1075.8" r="7.2"/>
<circle cx="559.3" cy="1080.9" r="7.2"/>
<circle cx="561.2" cy="1079.0" r="7.2"/>
<circle cx="558.3" cy="1005.0" r="7.2"/>
<circle cx="544.7" cy="1078.5" r="7.2"/>
<circle cx="563.9" cy="1053.3" r="7.2"/>
<circle cx="567.3" cy="1065.0" r="7.2"/>
<circle cx="571.4" cy="1077.2" r="7.2"/>
<circle cx="559.8" cy="1078.7" r="7.2"/>
<circle cx="545.4" cy="1073.6" r="7.2"/>
<circle cx="547.3" cy="1086.9" r="7.2"/>
<circle cx="563.8" cy="1079.3" r="7.2"/>
<circle cx="565.2" cy="1056.3" r="7.2"/>
<circle cx="551.5" cy="1039.2" r="7.2"/>
<circle cx="548.1" cy="1077.0" r="7.2"/>
<circle cx="572.5" cy="1073.3" r="7.2"/>
<circle cx="550.0" cy="1040.9" r="7.2"/>
<circle cx="570.9" cy="1093.4" r="7.2"/>
<circle cx="571.2" cy="1082.6" r="7.2"/>
<circle cx="552.4" cy="1054.9" r="7.2"/>
<circle cx="557.2" cy="1041.4" r="7.2"/>
<circle cx="567.1" cy="1071.0" r="7.2"/>
<circle cx="562.6" cy="1035.7" r="7.2"/>
<circle cx="572.6" cy="1077.4" r="7.2"/>
<circle cx="545.2" cy="1091.8" r="7.2"/>
<circle cx="542.7" cy="1071.4" r="7.2"/>
<circle cx="568.1" cy="1095.3" r="7.2"/>
<circle cx="557.6" cy="1081.3" r="7.2"/>
<circle cx="565.2" cy="1052.4" r="7.2"/>
<circle cx="573.0" cy="1074.6" r="7.2"/>
<circle cx="561.3" cy="1051.5" r="7.2"/>
<circle cx="556.9" cy="1087.3" r="7.2"/>
<circle cx="540.6" cy="1085.8" r="7.2"/>
<circle cx="538.6" cy="1088.5" r="7.2"/>
<circle cx="560.3" cy="1019.8" r="7.2"/>
<circle cx="573.2" cy="1081.5" r="7.2"/>
<circle cx="562.7" cy="1086.5" r="7.2"/>
<circle cx="564.6" cy="1062.4" r="7.2"/>
<circle cx="542.4" cy="1066.0" r="7.2"/>
<circle cx="559.0" cy="1038.3" r="7.2"/>
<circle cx="554.6" cy="1028.7" r="7.2"/>
<circle cx="551.5" cy="1072.7" r="7.2"/>
<circle cx="557.9" cy="1031.7" r="7.2"/>
<circle cx="557.4" cy="1040.8" r="7.2"/>
<circle cx="566.6" cy="1073.7" r="7.2"/>
<circle cx="561.3" cy="1084.0" r="7.2"/>
<circle cx="559.9" cy="1035.1" r="7.2"/>
<circle cx="563.1" cy="1056.7" r="7.2"/>
<circle cx="554.0" cy="1061.7" r="7.2"/>
<circle cx="560.4" cy="1015.3" r="7.2"/>
<circle cx="565.5" cy="1078.3" r="7.2"/>
<circle cx="555.0" cy="1052.1" r="7.2"/>
<circle cx="562.4" cy="1096.6" r="7.2"/>
<circle cx="555.6" cy="1108.4" r="7.2"/>
<circle cx="549.9" cy="1088.8" r="7.2"/>
<circle cx="572.3" cy="1091.9" r="7.2"/>
<circle cx="552.7" cy="1100.9" r="7.2"/>
<circle cx="569.5" cy="1059.0" r="7.2"/>
<circle cx="539.7" cy="1072.9" r="7.2"/>
<circle cx="568.2" cy="1080.1" r="7.2"/>
<circle cx="559.1" cy="1034.2" r="7.2"/>
<circle cx="557.9" cy="1091.2" r="7.2"/>
<circle cx="563.6" cy="1059.1" r="7.2"/>
<circle cx="559.2" cy="1011.5" r="7.2"/>
<circle cx="556.4" cy="1083.3" r="7.2"/>
<circle cx="563.6" cy="1086.9" r="7.2"/>
<circle cx="562.2" cy="1085.1" r="7.2"/>
<circle cx="568.6" cy="1088.3" r="7.2"/>
<circle cx="557.7" cy="1061.0" r="7.2"/>
<circle cx="563.8" cy="1099.2" r="7.2"/>
<circle cx="552.3" cy="1049.5" r="7.2"/>
<circle cx="554.3" cy="1096.5" r="7.2"/>
<circle cx="555.8" cy="1008.1" r="7.2"/>
<circle cx="569.4" cy="1070.2" r="7.2"/>
<circle cx="561.4" cy="1065.4" r="7.2"/>
<circle cx="558.9" cy="1046.9" r="7.2"/>
<circle cx="570.7" cy="1071.8" r="7.2"/>
<circle cx="552.8" cy="1069.0" r="7.2"/>
<circle cx="553.9" cy="1075.8" r="7.2"/>
<circle cx="566.4" cy="1095.7" r="7.2"/>
<circle cx="551.1" cy="1101.9" r="7.2"/>
<circle cx="561.1" cy="1028.8" r="7.2"/>
<circle cx="566.1" cy="1047.1" r="7.2"/>
<circle cx="557.9" cy="1040.9" r="7.2"/>
<circle cx="555.7" cy="1099.1" r="7.2"/>
<circle cx="554.7" cy="1085.3" r="7.2"/>
<circle cx="569.5" cy="1096.2" r="7.2"/>
<circle cx="557.0" cy="1051.3" r="7.2"/>
<circle cx="558.0" cy="1069.7" r="7.2"/>
<circle cx="538.1" cy="1087.0" r="7.2"/>
<circle cx="562.2" cy="1035.1" r="7.2"/>
<circle cx="566.6" cy="1095.9" r="7.2"/>
<circle cx="553.2" cy="1047.8" r="7.2"/>
<circle cx="544.8" cy="1077.4" r="7.2"/>
<circle cx="559.9" cy="1097.4" r="7.2"/>
<circle cx="550.3" cy="1071.1" r="7.2"/>
<circle cx="553.2" cy="1099.2" r="7.2"/>
<circle cx="540.4" cy="1072.6" r="7.2"/>
<circle cx="553.5" cy="1089.1" r="7.2"/>
<circle cx="570.2" cy="1085.7" r="7.2"/>
<circle cx="557.3" cy="1040.5" r="7.2"/>
<circle cx="557.4" cy="862.9" r="7.2"/>
<circle cx="557.8" cy="945.2" r="7.2"/>
<circle cx="557.7" cy="947.5" r="7.2"/>
<circle cx="557.5" cy="964.0" r="7.2"/>
<circle cx="558.3" cy="994.5" r="7.2"/>
</g>
<g fill="#0d4b5e" fill-opacity="0.42" stroke="#111" stroke-opacity="0.5" stroke-width="1.2">
<circle cx="617.9" cy="1080.9" r="7.2"/>
<circle cx="628.5" cy="1008.0" r="7.2"/>
<circle cx="623.8" cy="1060.9" r="7.2"/>
<circle cx="638.3" cy="1073.2" r="7.2"/>
<circle cx="634.6" cy="1028.1" r="7.2"/>
<circle cx="636.6" cy="1046.3" r="7.2"/>
<circle cx="641.1" cy="1064.6" r="7.2"/>
<circle cx="624.7" cy="1040.3" r="7.2"/>
<circle cx="635.7" cy="1026.1" r="7.2"/>
<circle cx="639.3" cy="1031.0" r="7.2"/>
<circle cx="631.6" cy="989.7" r="7.2"/>
<circle cx="613.7" cy="1074.3" r="7.2"/>
<circle cx="629.9" cy="1007.3" r="7.2"/>
<circle cx="612.7" cy="1062.1" r="7.2"/>
<circle cx="633.3" cy="982.1" r="7.2"/>
<circle cx="651.0" cy="1056.2" r="7.2"/>
<circle cx="629.6" cy="1040.4" r="7.2"/>
<circle cx="625.3" cy="1027.1" r="7.2"/>
<circle cx="647.1" cy="1074.7" r="7.2"/>
<circle cx="626.2" cy="1055.0" r="7.2"/>
<circle cx="638.4" cy="1084.8" r="7.2"/>
<circle cx="641.2" cy="1064.4" r="7.2"/>
<circle cx="633.4" cy="1007.0" r="7.2"/>
<circle cx="632.7" cy="1012.1" r="7.2"/>
<circle cx="629.2" cy="1054.6" r="7.2"/>
<circle cx="638.2" cy="1022.8" r="7.2"/>
<circle cx="620.9" cy="1043.7" r="7.2"/>
<circle cx="638.4" cy="1037.2" r="7.2"/>
<circle cx="622.6" cy="1049.3" r="7.2"/>
<circle cx="649.5" cy="1061.2" r="7.2"/>
<circle cx="638.2" cy="1029.0" r="7.2"/>
<circle cx="638.1" cy="1043.7" r="7.2"/>
<circle cx="623.6" cy="1054.7" r="7.2"/>
<circle cx="630.2" cy="1059.1" r="7.2"/>
<circle cx="640.3" cy="1058.6" r="7.2"/>
<circle cx="645.8" cy="1079.5" r="7.2"/>
<circle cx="641.1" cy="1028.8" r="7.2"/>
<circle cx="638.6" cy="1054.9" r="7.2"/>
<circle cx="641.4" cy="1072.3" r="7.2"/>
<circle cx="631.0" cy="988.2" r="7.2"/>
<circle cx="651.1" cy="1063.5" r="7.2"/>
<circle cx="650.2" cy="1051.9" r="7.2"/>
<circle cx="638.4" cy="1030.8" r="7.2"/>
<circle cx="622.4" cy="1082.5" r="7.2"/>
<circle cx="637.9" cy="1021.9" r="7.2"/>
<circle cx="625.4" cy="1040.4" r="7.2"/>
<circle cx="636.9" cy="1018.4" r="7.2"/>
<circle cx="623.3" cy="1056.7" r="7.2"/>
<circle cx="626.6" cy="1079.9" r="7.2"/>
<circle cx="615.1" cy="1058.7" r="7.2"/>
<circle cx="639.3" cy="1083.3" r="7.2"/>
<circle cx="628.5" cy="1054.4" r="7.2"/>
<circle cx="611.5" cy="1057.9" r="7.2"/>
<circle cx="631.9" cy="1034.3" r="7.2"/>
<circle cx="620.3" cy="1078.1" r="7.2"/>
<circle cx="630.6" cy="1013.3" r="7.2"/>
<circle cx="627.1" cy="1087.4" r="7.2"/>
<circle cx="631.6" cy="1023.4" r="7.2"/>
<circle cx="617.0" cy="1048.0" r="7.2"/>
<circle cx="628.2" cy="1084.7" r="7.2"/>
<circle cx="628.2" cy="1074.0" r="7.2"/>
<circle cx="613.6" cy="1056.9" r="7.2"/>
<circle cx="627.7" cy="1027.4" r="7.2"/>
<circle cx="625.1" cy="1056.4" r="7.2"/>
<circle cx="633.7" cy="1050.2" r="7.2"/>
<circle cx="643.8" cy="1041.7" r="7.2"/>
<circle cx="622.0" cy="1080.3" r="7.2"/>
<circle cx="650.9" cy="1054.9" r="7.2"/>
<circle cx="615.1" cy="1071.9" r="7.2"/>
<circle cx="621.2" cy="1083.4" r="7.2"/>
<circle cx="623.8" cy="1029.9" r="7.2"/>
<circle cx="635.3" cy="1002.7" r="7.2"/>
<circle cx="631.0" cy="1076.0" r="7.2"/>
<circle cx="646.3" cy="1042.4" r="7.2"/>
<circle cx="639.9" cy="1076.9" r="7.2"/>
<circle cx="641.4" cy="1055.9" r="7.2"/>
<circle cx="626.7" cy="1030.6" r="7.2"/>
<circle cx="632.4" cy="1062.2" r="7.2"/>
<circle cx="633.2" cy="1008.6" r="7.2"/>
<circle cx="641.5" cy="1077.2" r="7.2"/>
<circle cx="615.8" cy="1061.8" r="7.2"/>
<circle cx="630.4" cy="1096.3" r="7.2"/>
<circle cx="629.8" cy="1051.1" r="7.2"/>
<circle cx="644.8" cy="1043.5" r="7.2"/>
<circle cx="619.0" cy="1082.0" r="7.2"/>
<circle cx="613.4" cy="1061.5" r="7.2"/>
<circle cx="624.7" cy="1080.5" r="7.2"/>
<circle cx="644.6" cy="1074.8" r="7.2"/>
<circle cx="624.8" cy="1073.3" r="7.2"/>
<circle cx="625.7" cy="1078.4" r="7.2"/>
<circle cx="647.5" cy="1050.6" r="7.2"/>
<circle cx="629.7" cy="1046.8" r="7.2"/>
<circle cx="620.7" cy="1048.5" r="7.2"/>
<circle cx="634.7" cy="1064.1" r="7.2"/>
<circle cx="647.1" cy="1049.4" r="7.2"/>
<circle cx="632.7" cy="1034.0" r="7.2"/>
<circle cx="630.4" cy="1028.1" r="7.2"/>
<circle cx="641.6" cy="1057.3" r="7.2"/>
<circle cx="635.8" cy="1013.6" r="7.2"/>
<circle cx="621.4" cy="1050.9" r="7.2"/>
<circle cx="636.1" cy="1035.0" r="7.2"/>
<circle cx="652.3" cy="1056.9" r="7.2"/>
<circle cx="624.0" cy="1045.4" r="7.2"/>
<circle cx="616.2" cy="1047.4" r="7.2"/>
<circle cx="643.8" cy="1058.3" r="7.2"/>
<circle cx="618.1" cy="1044.9" r="7.2"/>
<circle cx="616.5" cy="1061.2" r="7.2"/>
<circle cx="633.7" cy="1093.1" r="7.2"/>
<circle cx="634.5" cy="993.9" r="7.2"/>
<circle cx="624.9" cy="1045.7" r="7.2"/>
<circle cx="637.6" cy="1061.9" r="7.2"/>
<circle cx="635.8" cy="1041.2" r="7.2"/>
<circle cx="630.5" cy="1035.9" r="7.2"/>
<circle cx="626.5" cy="1018.2" r="7.2"/>
<circle cx="620.0" cy="1068.0" r="7.2"/>
<circle cx="630.5" cy="1065.2" r="7.2"/>
<circle cx="642.1" cy="1080.5" r="7.2"/>
<circle cx="647.2" cy="1066.0" r="7.2"/>
<circle cx="650.4" cy="1053.4" r="7.2"/>
<circle cx="644.2" cy="1066.6" r="7.2"/>
<circle cx="644.2" cy="1070.0" r="7.2"/>
<circle cx="632.0" cy="991.0" r="7.2"/>
<circle cx="621.4" cy="1043.2" r="7.2"/>
<circle cx="634.4" cy="1005.5" r="7.2"/>
<circle cx="612.1" cy="1060.3" r="7.2"/>
<circle cx="625.9" cy="1039.7" r="7.2"/>
<circle cx="626.0" cy="1087.6" r="7.2"/>
<circle cx="623.8" cy="1060.1" r="7.2"/>
<circle cx="627.6" cy="1052.7" r="7.2"/>
<circle cx="633.4" cy="1034.4" r="7.2"/>
<circle cx="623.4" cy="1053.1" r="7.2"/>
<circle cx="616.7" cy="1063.6" r="7.2"/>
<circle cx="627.0" cy="1043.1" r="7.2"/>
<circle cx="632.2" cy="1099.3" r="7.2"/>
<circle cx="647.9" cy="1079.3" r="7.2"/>
<circle cx="646.0" cy="1054.4" r="7.2"/>
<circle cx="625.5" cy="1024.6" r="7.2"/>
<circle cx="643.1" cy="1057.8" r="7.2"/>
<circle cx="629.6" cy="1076.1" r="7.2"/>
<circle cx="633.1" cy="1091.5" r="7.2"/>
<circle cx="628.0" cy="1083.6" r="7.2"/>
<circle cx="633.5" cy="1047.7" r="7.2"/>
<circle cx="626.6" cy="1059.5" r="7.2"/>
<circle cx="641.9" cy="1048.1" r="7.2"/>
<circle cx="642.3" cy="1069.9" r="7.2"/>
<circle cx="615.6" cy="1066.4" r="7.2"/>
<circle cx="631.2" cy="988.5" r="7.2"/>
<circle cx="639.7" cy="1038.8" r="7.2"/>
<circle cx="633.4" cy="985.6" r="7.2"/>
<circle cx="649.4" cy="1064.7" r="7.2"/>
<circle cx="632.6" cy="927.6" r="7.2"/>
<circle cx="632.5" cy="956.9" r="7.2"/>
<circle cx="632.3" cy="964.0" r="7.2"/>
<circle cx="631.7" cy="971.0" r="7.2"/>
</g>
<g fill="#e56600" fill-opacity="0.42" stroke="#111" stroke-opacity="0.5" stroke-width="1.2">
<circle cx="696.9" cy="1104.1" r="7.2"/>
<circle cx="707.9" cy="1084.2" r="7.2"/>
<circle cx="707.4" cy="1075.5" r="7.2"/>
<circle cx="699.0" cy="1102.6" r="7.2"/>
<circle cx="704.2" cy="1109.9" r="7.2"/>
<circle cx="696.0" cy="1102.2" r="7.2"/>
<circle cx="690.3" cy="1094.4" r="7.2"/>
<circle cx="706.6" cy="1074.3" r="7.2"/>
<circle cx="724.5" cy="1097.7" r="7.2"/>
<circle cx="707.2" cy="1083.4" r="7.2"/>
<circle cx="695.0" cy="1104.4" r="7.2"/>
<circle cx="718.3" cy="1102.7" r="7.2"/>
<circle cx="705.3" cy="1091.8" r="7.2"/>
<circle cx="703.7" cy="1084.1" r="7.2"/>
<circle cx="705.4" cy="1078.0" r="7.2"/>
<circle cx="698.0" cy="1089.9" r="7.2"/>
<circle cx="710.5" cy="1075.2" r="7.2"/>
<circle cx="709.3" cy="1091.6" r="7.2"/>
<circle cx="699.0" cy="1088.5" r="7.2"/>
<circle cx="708.1" cy="1081.9" r="7.2"/>
<circle cx="696.8" cy="1088.1" r="7.2"/>
<circle cx="717.5" cy="1092.3" r="7.2"/>
<circle cx="709.9" cy="1100.6" r="7.2"/>
<circle cx="708.9" cy="1099.0" r="7.2"/>
<circle cx="704.1" cy="1080.5" r="7.2"/>
<circle cx="712.7" cy="1105.3" r="7.2"/>
<circle cx="712.8" cy="1079.5" r="7.2"/>
<circle cx="704.2" cy="1090.0" r="7.2"/>
<circle cx="705.2" cy="1084.3" r="7.2"/>
<circle cx="704.4" cy="1088.9" r="7.2"/>
<circle cx="701.8" cy="1103.3" r="7.2"/>
<circle cx="714.1" cy="1083.1" r="7.2"/>
<circle cx="711.0" cy="1096.8" r="7.2"/>
<circle cx="728.0" cy="1096.3" r="7.2"/>
<circle cx="700.3" cy="1108.1" r="7.2"/>
<circle cx="712.4" cy="1085.0" r="7.2"/>
<circle cx="702.9" cy="1092.0" r="7.2"/>
<circle cx="701.4" cy="1092.5" r="7.2"/>
<circle cx="710.5" cy="1097.9" r="7.2"/>
<circle cx="704.1" cy="1108.5" r="7.2"/>
<circle cx="721.6" cy="1105.6" r="7.2"/>
<circle cx="725.8" cy="1099.4" r="7.2"/>
<circle cx="708.4" cy="1083.0" r="7.2"/>
<circle cx="695.7" cy="1092.4" r="7.2"/>
<circle cx="708.1" cy="1086.4" r="7.2"/>
<circle cx="701.6" cy="1097.2" r="7.2"/>
<circle cx="716.6" cy="1101.8" r="7.2"/>
<circle cx="714.1" cy="1092.7" r="7.2"/>
<circle cx="728.4" cy="1101.2" r="7.2"/>
<circle cx="692.9" cy="1097.7" r="7.2"/>
<circle cx="718.8" cy="1094.5" r="7.2"/>
<circle cx="707.2" cy="1061.2" r="7.2"/>
<circle cx="713.8" cy="1088.3" r="7.2"/>
<circle cx="716.2" cy="1093.4" r="7.2"/>
<circle cx="716.3" cy="1106.3" r="7.2"/>
<circle cx="699.1" cy="1107.1" r="7.2"/>
<circle cx="717.9" cy="1092.0" r="7.2"/>
<circle cx="713.7" cy="1106.6" r="7.2"/>
<circle cx="706.6" cy="1079.2" r="7.2"/>
<circle cx="697.5" cy="1094.7" r="7.2"/>
<circle cx="720.6" cy="1102.1" r="7.2"/>
<circle cx="706.8" cy="1071.3" r="7.2"/>
<circle cx="707.3" cy="1070.9" r="7.2"/>
<circle cx="706.3" cy="1082.7" r="7.2"/>
<circle cx="705.8" cy="1074.1" r="7.2"/>
<circle cx="718.0" cy="1087.2" r="7.2"/>
<circle cx="702.2" cy="1099.9" r="7.2"/>
<circle cx="710.6" cy="1086.0" r="7.2"/>
<circle cx="692.4" cy="1091.8" r="7.2"/>
<circle cx="717.4" cy="1088.2" r="7.2"/>
<circle cx="702.3" cy="1108.4" r="7.2"/>
<circle cx="701.2" cy="1107.7" r="7.2"/>
<circle cx="716.7" cy="1085.7" r="7.2"/>
<circle cx="711.3" cy="1083.7" r="7.2"/>
<circle cx="697.4" cy="1089.6" r="7.2"/>
<circle cx="701.6" cy="1099.8" r="7.2"/>
<circle cx="702.0" cy="1103.0" r="7.2"/>
<circle cx="715.1" cy="1088.9" r="7.2"/>
<circle cx="691.4" cy="1098.5" r="7.2"/>
<circle cx="694.9" cy="1102.5" r="7.2"/>
<circle cx="704.0" cy="1080.5" r="7.2"/>
<circle cx="717.6" cy="1095.7" r="7.2"/>
<circle cx="692.8" cy="1100.6" r="7.2"/>
<circle cx="722.6" cy="1091.2" r="7.2"/>
<circle cx="715.2" cy="1093.0" r="7.2"/>
<circle cx="703.6" cy="1105.5" r="7.2"/>
<circle cx="708.1" cy="1076.3" r="7.2"/>
<circle cx="700.9" cy="1089.9" r="7.2"/>
<circle cx="706.4" cy="1070.6" r="7.2"/>
<circle cx="706.6" cy="1093.0" r="7.2"/>
<circle cx="711.4" cy="1083.3" r="7.2"/>
<circle cx="713.3" cy="1103.5" r="7.2"/>
<circle cx="705.9" cy="1105.0" r="7.2"/>
<circle cx="709.4" cy="1110.5" r="7.2"/>
<circle cx="717.5" cy="1091.8" r="7.2"/>
<circle cx="688.2" cy="1098.8" r="7.2"/>
<circle cx="719.7" cy="1088.5" r="7.2"/>
<circle cx="726.1" cy="1095.7" r="7.2"/>
<circle cx="716.6" cy="1098.7" r="7.2"/>
<circle cx="695.9" cy="1104.8" r="7.2"/>
<circle cx="700.2" cy="1098.4" r="7.2"/>
<circle cx="698.1" cy="1095.2" r="7.2"/>
<circle cx="727.1" cy="1100.7" r="7.2"/>
<circle cx="715.6" cy="1103.3" r="7.2"/>
<circle cx="720.2" cy="1092.0" r="7.2"/>
<circle cx="701.9" cy="1086.2" r="7.2"/>
<circle cx="708.1" cy="1099.5" r="7.2"/>
<circle cx="708.8" cy="1109.5" r="7.2"/>
<circle cx="714.2" cy="1085.2" r="7.2"/>
<circle cx="706.0" cy="1094.5" r="7.2"/>
<circle cx="708.8" cy="1052.1" r="7.2"/>
</g>
<g fill="#731200" fill-opacity="0.42" stroke="#111" stroke-opacity="0.5" stroke-width="1.2">
<circle cx="783.2" cy="1059.6" r="7.2"/>
<circle cx="778.8" cy="1053.2" r="7.2"/>
<circle cx="786.7" cy="1044.8" r="7.2"/>
<circle cx="787.5" cy="1102.5" r="7.2"/>
<circle cx="782.4" cy="1101.2" r="7.2"/>
<circle cx="774.2" cy="1071.1" r="7.2"/>
<circle cx="775.1" cy="1067.8" r="7.2"/>
<circle cx="781.0" cy="1059.4" r="7.2"/>
<circle cx="802.1" cy="1087.8" r="7.2"/>
<circle cx="796.0" cy="1083.2" r="7.2"/>
<circle cx="782.4" cy="1040.7" r="7.2"/>
<circle cx="784.3" cy="1031.0" r="7.2"/>
<circle cx="778.2" cy="1076.4" r="7.2"/>
<circle cx="786.7" cy="1097.6" r="7.2"/>
<circle cx="796.5" cy="1074.0" r="7.2"/>
<circle cx="782.1" cy="1093.7" r="7.2"/>
<circle cx="769.5" cy="1075.5" r="7.2"/>
<circle cx="802.5" cy="1086.9" r="7.2"/>
<circle cx="780.3" cy="1062.3" r="7.2"/>
<circle cx="782.5" cy="1028.7" r="7.2"/>
<circle cx="786.8" cy="1062.0" r="7.2"/>
<circle cx="766.6" cy="1087.9" r="7.2"/>
<circle cx="778.7" cy="1084.4" r="7.2"/>
<circle cx="773.6" cy="1088.3" r="7.2"/>
<circle cx="778.2" cy="1077.2" r="7.2"/>
<circle cx="793.5" cy="1082.7" r="7.2"/>
<circle cx="800.9" cy="1075.8" r="7.2"/>
<circle cx="790.0" cy="1090.5" r="7.2"/>
<circle cx="779.6" cy="1070.5" r="7.2"/>
<circle cx="778.1" cy="1093.9" r="7.2"/>
<circle cx="781.6" cy="1095.4" r="7.2"/>
<circle cx="791.4" cy="1063.5" r="7.2"/>
<circle cx="772.0" cy="1079.2" r="7.2"/>
<circle cx="776.2" cy="1083.6" r="7.2"/>
<circle cx="784.4" cy="1029.9" r="7.2"/>
<circle cx="784.7" cy="1076.3" r="7.2"/>
<circle cx="796.0" cy="1070.9" r="7.2"/>
<circle cx="781.4" cy="1073.2" r="7.2"/>
<circle cx="784.7" cy="1058.7" r="7.2"/>
<circle cx="791.8" cy="1064.6" r="7.2"/>
<circle cx="793.2" cy="1085.4" r="7.2"/>
<circle cx="782.5" cy="1069.1" r="7.2"/>
<circle cx="785.9" cy="1048.2" r="7.2"/>
<circle cx="776.7" cy="1099.6" r="7.2"/>
<circle cx="778.8" cy="1073.7" r="7.2"/>
<circle cx="780.3" cy="1058.0" r="7.2"/>
<circle cx="777.6" cy="1090.2" r="7.2"/>
<circle cx="795.0" cy="1071.4" r="7.2"/>
<circle cx="778.4" cy="1057.2" r="7.2"/>
<circle cx="767.9" cy="1082.3" r="7.2"/>
<circle cx="776.1" cy="1082.2" r="7.2"/>
<circle cx="790.3" cy="1052.5" r="7.2"/>
<circle cx="769.2" cy="1073.2" r="7.2"/>
<circle cx="781.3" cy="1056.7" r="7.2"/>
<circle cx="782.0" cy="1034.5" r="7.2"/>
<circle cx="788.0" cy="1060.2" r="7.2"/>
<circle cx="783.1" cy="1081.0" r="7.2"/>
<circle cx="787.8" cy="1079.1" r="7.2"/>
<circle cx="786.0" cy="1074.2" r="7.2"/>
<circle cx="764.9" cy="1089.8" r="7.2"/>
<circle cx="771.0" cy="1073.9" r="7.2"/>
<circle cx="789.2" cy="1058.9" r="7.2"/>
<circle cx="787.0" cy="1053.7" r="7.2"/>
<circle cx="783.6" cy="1036.5" r="7.2"/>
<circle cx="792.5" cy="1061.4" r="7.2"/>
<circle cx="785.8" cy="1062.0" r="7.2"/>
<circle cx="780.3" cy="1076.3" r="7.2"/>
<circle cx="784.2" cy="1012.7" r="7.2"/>
<circle cx="768.5" cy="1073.7" r="7.2"/>
<circle cx="796.7" cy="1080.2" r="7.2"/>
<circle cx="788.4" cy="1060.5" r="7.2"/>
<circle cx="777.3" cy="1093.9" r="7.2"/>
<circle cx="777.8" cy="1094.9" r="7.2"/>
<circle cx="790.2" cy="1086.5" r="7.2"/>
<circle cx="779.0" cy="1076.6" r="7.2"/>
<circle cx="781.1" cy="1041.0" r="7.2"/>
<circle cx="773.6" cy="1080.7" r="7.2"/>
<circle cx="788.1" cy="1098.5" r="7.2"/>
<circle cx="767.3" cy="1086.9" r="7.2"/>
<circle cx="767.8" cy="1088.9" r="7.2"/>
<circle cx="791.8" cy="1080.5" r="7.2"/>
<circle cx="778.0" cy="1081.7" r="7.2"/>
<circle cx="774.7" cy="1074.5" r="7.2"/>
<circle cx="787.4" cy="1053.7" r="7.2"/>
<circle cx="791.6" cy="1072.7" r="7.2"/>
<circle cx="777.6" cy="1087.9" r="7.2"/>
<circle cx="790.1" cy="1090.3" r="7.2"/>
<circle cx="784.5" cy="1030.0" r="7.2"/>
<circle cx="778.2" cy="1051.6" r="7.2"/>
<circle cx="770.1" cy="1073.0" r="7.2"/>
<circle cx="795.0" cy="1071.3" r="7.2"/>
<circle cx="790.9" cy="1095.7" r="7.2"/>
<circle cx="781.4" cy="1030.8" r="7.2"/>
<circle cx="790.8" cy="1090.5" r="7.2"/>
<circle cx="794.9" cy="1090.4" r="7.2"/>
<circle cx="787.1" cy="1066.1" r="7.2"/>
<circle cx="779.4" cy="1079.7" r="7.2"/>
<circle cx="796.6" cy="1071.6" r="7.2"/>
<circle cx="783.1" cy="1020.1" r="7.2"/>
<circle cx="778.7" cy="1055.9" r="7.2"/>
<circle cx="775.6" cy="1085.4" r="7.2"/>
<circle cx="790.6" cy="1066.3" r="7.2"/>
<circle cx="795.3" cy="1077.2" r="7.2"/>
<circle cx="783.5" cy="1098.5" r="7.2"/>
<circle cx="782.0" cy="1073.6" r="7.2"/>
<circle cx="766.9" cy="1093.2" r="7.2"/>
<circle cx="791.5" cy="1076.4" r="7.2"/>
<circle cx="788.0" cy="1051.0" r="7.2"/>
<circle cx="782.5" cy="1100.5" r="7.2"/>
<circle cx="783.7" cy="1093.7" r="7.2"/>
<circle cx="795.1" cy="1083.6" r="7.2"/>
<circle cx="784.3" cy="1046.8" r="7.2"/>
<circle cx="772.3" cy="1085.7" r="7.2"/>
<circle cx="785.1" cy="1052.0" r="7.2"/>
<circle cx="764.4" cy="1090.2" r="7.2"/>
<circle cx="783.5" cy="1103.3" r="7.2"/>
<circle cx="794.5" cy="1088.0" r="7.2"/>
<circle cx="800.4" cy="1085.8" r="7.2"/>
<circle cx="786.4" cy="1060.7" r="7.2"/>
<circle cx="782.9" cy="1097.7" r="7.2"/>
<circle cx="783.8" cy="945.2" r="7.2"/>
<circle cx="783.0" cy="953.4" r="7.2"/>
<circle cx="783.8" cy="976.9" r="7.2"/>
<circle cx="783.6" cy="978.1" r="7.2"/>
<circle cx="783.6" cy="1001.6" r="7.2"/>
<circle cx="783.5" cy="1003.9" r="7.2"/>
</g>
<line x1="181.4" y1="987.7" x2="181.4" y2="1089.5" stroke="#000" stroke-width="2.7"/>
<line x1="168.9" y1="987.7" x2="193.9" y2="987.7" stroke="#000" stroke-width="2.7"/>
<line x1="168.9" y1="1089.5" x2="193.9" y2="1089.5" stroke="#000" stroke-width="2.7"/>
<line x1="156.4" y1="1038.7" x2="206.4" y2="1038.7" stroke="#000" stroke-width="2.7"/>
<line x1="256.4" y1="1015.0" x2="256.4" y2="1098.4" stroke="#000" stroke-width="2.7"/>
<line x1="243.9" y1="1015.0" x2="268.9" y2="1015.0" stroke="#000" stroke-width="2.7"/>
<line x1="243.9" y1="1098.4" x2="268.9" y2="1098.4" stroke="#000" stroke-width="2.7"/>
<line x1="231.4" y1="1057.3" x2="281.4" y2="1057.3" stroke="#000" stroke-width="2.7"/>
<line x1="331.5" y1="1017.6" x2="331.5" y2="1088.1" stroke="#000" stroke-width="2.7"/>
<line x1="319.0" y1="1017.6" x2="344.0" y2="1017.6" stroke="#000" stroke-width="2.7"/>
<line x1="319.0" y1="1088.1" x2="344.0" y2="1088.1" stroke="#000" stroke-width="2.7"/>
<line x1="306.5" y1="1052.6" x2="356.5" y2="1052.6" stroke="#000" stroke-width="2.7"/>
<line x1="407.1" y1="1000.2" x2="407.1" y2="1083.8" stroke="#000" stroke-width="2.7"/>
<line x1="394.6" y1="1000.2" x2="419.6" y2="1000.2" stroke="#000" stroke-width="2.7"/>
<line x1="394.6" y1="1083.8" x2="419.6" y2="1083.8" stroke="#000" stroke-width="2.7"/>
<line x1="382.1" y1="1041.8" x2="432.1" y2="1041.8" stroke="#000" stroke-width="2.7"/>
<line x1="482.0" y1="1059.4" x2="482.0" y2="1105.7" stroke="#000" stroke-width="2.7"/>
<line x1="469.5" y1="1059.4" x2="494.5" y2="1059.4" stroke="#000" stroke-width="2.7"/>
<line x1="469.5" y1="1105.7" x2="494.5" y2="1105.7" stroke="#000" stroke-width="2.7"/>
<line x1="457.0" y1="1082.4" x2="507.0" y2="1082.4" stroke="#000" stroke-width="2.7"/>
<line x1="557.3" y1="1017.6" x2="557.3" y2="1099.4" stroke="#000" stroke-width="2.7"/>
<line x1="544.8" y1="1017.6" x2="569.8" y2="1017.6" stroke="#000" stroke-width="2.7"/>
<line x1="544.8" y1="1099.4" x2="569.8" y2="1099.4" stroke="#000" stroke-width="2.7"/>
<line x1="532.3" y1="1059.2" x2="582.3" y2="1059.2" stroke="#000" stroke-width="2.7"/>
<line x1="632.3" y1="1019.2" x2="632.3" y2="1079.1" stroke="#000" stroke-width="2.7"/>
<line x1="619.8" y1="1019.2" x2="644.8" y2="1019.2" stroke="#000" stroke-width="2.7"/>
<line x1="619.8" y1="1079.1" x2="644.8" y2="1079.1" stroke="#000" stroke-width="2.7"/>
<line x1="607.3" y1="1049.3" x2="657.3" y2="1049.3" stroke="#000" stroke-width="2.7"/>
<line x1="708.0" y1="1079.1" x2="708.0" y2="1105.9" stroke="#000" stroke-width="2.7"/>
<line x1="695.5" y1="1079.1" x2="720.5" y2="1079.1" stroke="#000" stroke-width="2.7"/>
<line x1="695.5" y1="1105.9" x2="720.5" y2="1105.9" stroke="#000" stroke-width="2.7"/>
<line x1="683.0" y1="1093.2" x2="733.0" y2="1093.2" stroke="#000" stroke-width="2.7"/>
<line x1="783.4" y1="1034.5" x2="783.4" y2="1104.1" stroke="#000" stroke-width="2.7"/>
<line x1="770.9" y1="1034.5" x2="795.9" y2="1034.5" stroke="#000" stroke-width="2.7"/>
<line x1="770.9" y1="1104.1" x2="795.9" y2="1104.1" stroke="#000" stroke-width="2.7"/>
<line x1="758.4" y1="1069.0" x2="808.4" y2="1069.0" stroke="#000" stroke-width="2.7"/>
<line x1="131.3" y1="649.1" x2="131.3" y2="1119.1" stroke="#000" stroke-width="1.7"/>
<line x1="836.8" y1="649.1" x2="836.8" y2="1122.1" stroke="#000" stroke-width="1.7"/>
<line x1="113.3" y1="649.1" x2="837.5" y2="649.1" stroke="#000" stroke-width="1.7"/>
<line x1="113.3" y1="1119.1" x2="836.8" y2="1119.1" stroke="#000" stroke-width="1.7"/>
<line x1="113.3" y1="1001.6" x2="131.3" y2="1001.6" stroke="#000" stroke-width="1.7"/>
<line x1="113.3" y1="884.1" x2="131.3" y2="884.1" stroke="#000" stroke-width="1.7"/>
<line x1="113.3" y1="766.6" x2="131.3" y2="766.6" stroke="#000" stroke-width="1.7"/>
<text class="t" font-size="34.3" text-anchor="end" textLength="20.8" lengthAdjust="spacingAndGlyphs" x="111.8" y="1132.3" stroke-width="0.59">0</text>
<text class="t" font-size="34.3" text-anchor="end" textLength="21.0" lengthAdjust="spacingAndGlyphs" x="111.9" y="1014.8" stroke-width="0.59">5</text>
<text class="t" font-size="34.3" text-anchor="end" textLength="40.3" lengthAdjust="spacingAndGlyphs" x="111.7" y="897.3" stroke-width="0.59">10</text>
<text class="t" font-size="34.3" text-anchor="end" textLength="40.4" lengthAdjust="spacingAndGlyphs" x="111.8" y="779.8" stroke-width="0.59">15</text>
<text class="t" font-size="34.3" text-anchor="end" textLength="39.2" lengthAdjust="spacingAndGlyphs" x="111.7" y="662.3" stroke-width="0.59">20</text>
<line x1="256.4" y1="1119.1" x2="256.4" y2="1137.1" stroke="#000" stroke-width="1.7"/>
<text class="t" font-size="33.8" text-anchor="middle" textLength="20.5" lengthAdjust="spacingAndGlyphs" x="260.4" y="1168.0" stroke-width="0.58">0</text>
<line x1="482.0" y1="1119.1" x2="482.0" y2="1137.1" stroke="#000" stroke-width="1.7"/>
<text class="t" font-size="33.8" text-anchor="middle" textLength="37.2" lengthAdjust="spacingAndGlyphs" x="484.0" y="1168.0" stroke-width="0.58">50</text>
<line x1="708.0" y1="1119.1" x2="708.0" y2="1137.1" stroke="#000" stroke-width="1.7"/>
<text class="t" font-size="33.8" text-anchor="middle" textLength="56.2" lengthAdjust="spacingAndGlyphs" x="707.1" y="1168.0" stroke-width="0.58">200</text>
<text class="t" font-size="37.3" textLength="138.6" lengthAdjust="spacingAndGlyphs" x="835.0" y="1171.0" stroke-width="0.64">FAC (µM)</text>
<text class="t" font-size="33.8" text-anchor="middle" textLength="245.4" lengthAdjust="spacingAndGlyphs" transform="translate(51.2 885.4) rotate(-90)" x="-0.0" y="0" stroke-width="0.58">plaque area (mm)</text>
<line x1="187.6" y1="722.9" x2="318.0" y2="722.9" stroke="#000" stroke-width="1.7"/>
<text class="s" font-size="32.2" text-anchor="middle" x="252.7" y="723.9" stroke-width="0.15">*</text>
<line x1="189.8" y1="759.2" x2="254.9" y2="759.2" stroke="#000" stroke-width="1.7"/>
<text class="s" font-size="31.2" text-anchor="middle" textLength="38.7" lengthAdjust="spacingAndGlyphs" x="220.5" y="761.0" stroke-width="0.15">***</text>
<line x1="253.9" y1="791.7" x2="325.2" y2="791.7" stroke="#000" stroke-width="1.7"/>
<text class="t" font-size="38.9" text-anchor="middle" textLength="38.0" lengthAdjust="spacingAndGlyphs" x="288.6" y="786.0" font-style="italic" stroke-width="0.67">ns</text>
<line x1="412.5" y1="763.5" x2="542.9" y2="763.5" stroke="#000" stroke-width="1.7"/>
<text class="s" font-size="32.2" text-anchor="middle" x="478.8" y="764.5" stroke-width="0.15">*</text>
<line x1="412.5" y1="799.5" x2="478.2" y2="799.5" stroke="#000" stroke-width="1.7"/>
<text class="s" font-size="31.2" text-anchor="middle" textLength="51.7" lengthAdjust="spacingAndGlyphs" x="446.5" y="801.3" stroke-width="0.15">****</text>
<line x1="477.2" y1="832.7" x2="548.2" y2="832.7" stroke="#000" stroke-width="1.7"/>
<text class="s" font-size="31.2" text-anchor="middle" textLength="38.2" lengthAdjust="spacingAndGlyphs" x="509.8" y="834.5" stroke-width="0.15">***</text>
<line x1="637.7" y1="829.2" x2="767.4" y2="829.2" stroke="#000" stroke-width="1.7"/>
<text class="s" font-size="31.2" text-anchor="middle" textLength="24.7" lengthAdjust="spacingAndGlyphs" x="704.0" y="831.0" stroke-width="0.15">**</text>
<line x1="636.1" y1="865.5" x2="701.8" y2="865.5" stroke="#000" stroke-width="1.7"/>
<text class="s" font-size="31.2" text-anchor="middle" textLength="51.4" lengthAdjust="spacingAndGlyphs" x="669.9" y="867.3" stroke-width="0.15">****</text>
<line x1="700.8" y1="898.0" x2="771.5" y2="898.0" stroke="#000" stroke-width="1.7"/>
<text class="s" font-size="31.2" text-anchor="middle" textLength="24.7" lengthAdjust="spacingAndGlyphs" x="730.0" y="899.8" stroke-width="0.15">**</text>
<rect x="627.8" y="661.9" width="30.6" height="30.6" fill="#0d4b5e" stroke="#000" stroke-width="1.6"/>
<text class="t" font-size="36.3" textLength="135.2" lengthAdjust="spacingAndGlyphs" x="676.3" y="686.7" stroke-width="0.62">parental</text>
<rect x="627.8" y="707.6" width="30.6" height="30.6" fill="#e56600" stroke="#000" stroke-width="1.6"/>
<text class="t" font-size="36.3" textLength="76.8" lengthAdjust="spacingAndGlyphs" x="677.7" y="732.9" stroke-width="0.62">ΔVIT</text>
<rect x="627.8" y="753.3" width="30.6" height="30.6" fill="#731200" stroke="#000" stroke-width="1.6"/>
<text class="t" font-size="36.3" textLength="150.9" lengthAdjust="spacingAndGlyphs" x="677.7" y="778.7" stroke-width="0.62">ΔVIT+VIT</text>
<text class="b" font-size="47.0" x="925.9" y="639.2" font-weight="bold">d</text>
<line x1="1029.5" y1="659.5" x2="1029.5" y2="1123.4" stroke="#000" stroke-width="1.7"/>
<line x1="1500.1" y1="659.5" x2="1500.1" y2="1123.4" stroke="#000" stroke-width="1.7"/>
<line x1="1011.9" y1="659.5" x2="1500.8" y2="659.5" stroke="#000" stroke-width="1.7"/>
<line x1="1011.9" y1="1123.4" x2="1500.8" y2="1123.4" stroke="#000" stroke-width="1.7"/>
<line x1="1011.9" y1="1030.6" x2="1029.5" y2="1030.6" stroke="#000" stroke-width="1.7"/>
<line x1="1011.9" y1="937.8" x2="1029.5" y2="937.8" stroke="#000" stroke-width="1.7"/>
<line x1="1011.9" y1="845.0" x2="1029.5" y2="845.0" stroke="#000" stroke-width="1.7"/>
<line x1="1011.9" y1="752.2" x2="1029.5" y2="752.2" stroke="#000" stroke-width="1.7"/>
<text class="t" font-size="31.0" text-anchor="end" textLength="18.3" lengthAdjust="spacingAndGlyphs" x="1007.6" y="1136.2" stroke-width="0.53">0</text>
<text class="t" font-size="31.0" text-anchor="end" textLength="34.5" lengthAdjust="spacingAndGlyphs" x="1007.5" y="1043.4" stroke-width="0.53">20</text>
<text class="t" font-size="31.0" text-anchor="end" textLength="33.6" lengthAdjust="spacingAndGlyphs" x="1007.4" y="950.6" stroke-width="0.53">40</text>
<text class="t" font-size="31.0" text-anchor="end" textLength="34.5" lengthAdjust="spacingAndGlyphs" x="1007.5" y="857.8" stroke-width="0.53">60</text>
<text class="t" font-size="31.0" text-anchor="end" textLength="34.3" lengthAdjust="spacingAndGlyphs" x="1007.5" y="765.0" stroke-width="0.53">80</text>
<text class="t" font-size="31.0" text-anchor="end" textLength="50.0" lengthAdjust="spacingAndGlyphs" x="1007.4" y="672.2" stroke-width="0.53">100</text>
<line x1="1029.5" y1="1123.4" x2="1029.5" y2="1140.9" stroke="#000" stroke-width="1.7"/>
<text class="t" font-size="35.8" text-anchor="middle" textLength="21.1" lengthAdjust="spacingAndGlyphs" x="1029.5" y="1171.2" stroke-width="0.61">0</text>
<line x1="1163.9" y1="1123.4" x2="1163.9" y2="1140.9" stroke="#000" stroke-width="1.7"/>
<text class="t" font-size="35.8" text-anchor="middle" textLength="22.1" lengthAdjust="spacingAndGlyphs" x="1163.9" y="1171.2" stroke-width="0.61">2</text>
<line x1="1298.3" y1="1123.4" x2="1298.3" y2="1140.9" stroke="#000" stroke-width="1.7"/>
<text class="t" font-size="35.8" text-anchor="middle" textLength="20.0" lengthAdjust="spacingAndGlyphs" x="1298.4" y="1171.2" stroke-width="0.61">4</text>
<line x1="1432.7" y1="1123.4" x2="1432.7" y2="1140.9" stroke="#000" stroke-width="1.7"/>
<text class="t" font-size="35.8" text-anchor="middle" textLength="21.8" lengthAdjust="spacingAndGlyphs" x="1432.6" y="1171.2" stroke-width="0.61">6</text>
<text class="t" font-size="34.8" textLength="74.7" lengthAdjust="spacingAndGlyphs" x="1210.7" y="1206.7" stroke-width="0.6">days</text>
<text class="t" font-size="34.8" text-anchor="middle" textLength="289.9" lengthAdjust="spacingAndGlyphs" transform="translate(951.5 883.6) rotate(-90)" x="0.0" y="0" stroke-width="0.6">% of green parasites</text>
<line x1="1163.9" y1="1022.2" x2="1163.9" y2="1057.5" stroke="#f0a468" stroke-width="2.0"/>
<line x1="1154.4" y1="1022.2" x2="1173.4" y2="1022.2" stroke="#f0a468" stroke-width="2.0"/>
<line x1="1154.4" y1="1057.5" x2="1173.4" y2="1057.5" stroke="#f0a468" stroke-width="2.0"/>
<polyline points="1029.5,891.4 1163.9,1039.4 1231.1,1095.6 1298.3,1114.1 1499.9,1123.4" fill="none" stroke="#f0a468" stroke-width="3.4" stroke-linejoin="round"/>
<circle cx="1029.5" cy="891.4" r="9.7" fill="#f0a468"/>
<circle cx="1163.9" cy="1039.4" r="9.7" fill="#f0a468"/>
<circle cx="1231.1" cy="1095.6" r="9.7" fill="#f0a468"/>
<circle cx="1298.3" cy="1114.1" r="9.7" fill="#f0a468"/>
<circle cx="1499.9" cy="1123.4" r="9.7" fill="#f0a468"/>
<line x1="1163.9" y1="895.8" x2="1163.9" y2="962.6" stroke="#6f97a3" stroke-width="2.0"/>
<line x1="1154.4" y1="895.8" x2="1173.4" y2="895.8" stroke="#6f97a3" stroke-width="2.0"/>
<line x1="1154.4" y1="962.6" x2="1173.4" y2="962.6" stroke="#6f97a3" stroke-width="2.0"/>
<polyline points="1029.5,891.4 1163.9,928.5 1231.1,897.0 1298.3,891.9 1499.9,878.0" fill="none" stroke="#6f97a3" stroke-width="3.4" stroke-linejoin="round"/>
<circle cx="1029.5" cy="891.4" r="9.7" fill="#6f97a3"/>
<circle cx="1163.9" cy="928.5" r="9.7" fill="#6f97a3"/>
<circle cx="1231.1" cy="897.0" r="9.7" fill="#6f97a3"/>
<circle cx="1298.3" cy="891.9" r="9.7" fill="#6f97a3"/>
<circle cx="1499.9" cy="878.0" r="9.7" fill="#6f97a3"/>
<line x1="1163.9" y1="837.6" x2="1163.9" y2="889.0" stroke="#e56600" stroke-width="3.2"/>
<line x1="1154.4" y1="837.6" x2="1173.4" y2="837.6" stroke="#e56600" stroke-width="3.2"/>
<line x1="1154.4" y1="889.0" x2="1173.4" y2="889.0" stroke="#e56600" stroke-width="3.2"/>
<line x1="1231.1" y1="1018.5" x2="1231.1" y2="1078.9" stroke="#e56600" stroke-width="3.2"/>
<line x1="1221.6" y1="1018.5" x2="1240.6" y2="1018.5" stroke="#e56600" stroke-width="3.2"/>
<line x1="1221.6" y1="1078.9" x2="1240.6" y2="1078.9" stroke="#e56600" stroke-width="3.2"/>
<line x1="1298.3" y1="990.7" x2="1298.3" y2="1023.7" stroke="#e56600" stroke-width="3.2"/>
<line x1="1288.8" y1="990.7" x2="1307.8" y2="990.7" stroke="#e56600" stroke-width="3.2"/>
<line x1="1288.8" y1="1023.7" x2="1307.8" y2="1023.7" stroke="#e56600" stroke-width="3.2"/>
<line x1="1499.9" y1="1001.8" x2="1499.9" y2="1116.6" stroke="#e56600" stroke-width="3.2"/>
<line x1="1490.4" y1="1001.8" x2="1509.4" y2="1001.8" stroke="#e56600" stroke-width="3.2"/>
<line x1="1490.4" y1="1116.6" x2="1509.4" y2="1116.6" stroke="#e56600" stroke-width="3.2"/>
<polyline points="1029.5,891.4 1163.9,889.6 1231.1,1048.2 1298.3,1006.9 1499.9,1058.9" fill="none" stroke="#e56600" stroke-width="3.4" stroke-linejoin="round"/>
<circle cx="1029.5" cy="891.4" r="9.7" fill="#e56600"/>
<circle cx="1163.9" cy="889.6" r="9.7" fill="#e56600"/>
<circle cx="1231.1" cy="1048.2" r="9.7" fill="#e56600"/>
<circle cx="1298.3" cy="1006.9" r="9.7" fill="#e56600"/>
<circle cx="1499.9" cy="1058.9" r="9.7" fill="#e56600"/>
<line x1="1163.9" y1="895.0" x2="1163.9" y2="997.9" stroke="#0d4b5e" stroke-width="3.2"/>
<line x1="1154.4" y1="895.0" x2="1173.4" y2="895.0" stroke="#0d4b5e" stroke-width="3.2"/>
<line x1="1154.4" y1="997.9" x2="1173.4" y2="997.9" stroke="#0d4b5e" stroke-width="3.2"/>
<line x1="1231.1" y1="812.1" x2="1231.1" y2="908.9" stroke="#0d4b5e" stroke-width="3.2"/>
<line x1="1221.6" y1="812.1" x2="1240.6" y2="812.1" stroke="#0d4b5e" stroke-width="3.2"/>
<line x1="1221.6" y1="908.9" x2="1240.6" y2="908.9" stroke="#0d4b5e" stroke-width="3.2"/>
<line x1="1298.3" y1="835.0" x2="1298.3" y2="934.4" stroke="#0d4b5e" stroke-width="3.2"/>
<line x1="1288.8" y1="835.0" x2="1307.8" y2="835.0" stroke="#0d4b5e" stroke-width="3.2"/>
<line x1="1288.8" y1="934.4" x2="1307.8" y2="934.4" stroke="#0d4b5e" stroke-width="3.2"/>
<line x1="1499.9" y1="889.0" x2="1499.9" y2="913.2" stroke="#0d4b5e" stroke-width="3.2"/>
<line x1="1490.4" y1="889.0" x2="1509.4" y2="889.0" stroke="#0d4b5e" stroke-width="3.2"/>
<line x1="1490.4" y1="913.2" x2="1509.4" y2="913.2" stroke="#0d4b5e" stroke-width="3.2"/>
<polyline points="1029.5,891.4 1163.9,947.6 1231.1,860.3 1298.3,885.9 1499.9,900.7" fill="none" stroke="#0d4b5e" stroke-width="3.4" stroke-linejoin="round"/>
<circle cx="1029.5" cy="891.4" r="9.7" fill="#0d4b5e"/>
<circle cx="1163.9" cy="947.6" r="9.7" fill="#0d4b5e"/>
<circle cx="1231.1" cy="860.3" r="9.7" fill="#0d4b5e"/>
<circle cx="1298.3" cy="885.9" r="9.7" fill="#0d4b5e"/>
<circle cx="1499.9" cy="900.7" r="9.7" fill="#0d4b5e"/>
<text class="s" font-size="30.2" text-anchor="middle" textLength="34.3" lengthAdjust="spacingAndGlyphs" x="1160.8" y="742.6" stroke-width="0.15">††</text>
<text class="s" font-size="30.2" text-anchor="middle" textLength="50.0" lengthAdjust="spacingAndGlyphs" x="1230.6" y="742.6" stroke-width="0.15">†††</text>
<text class="s" font-size="30.2" text-anchor="middle" textLength="50.0" lengthAdjust="spacingAndGlyphs" x="1300.0" y="742.6" stroke-width="0.15">†††</text>
<text class="s" font-size="30.2" text-anchor="middle" textLength="50.0" lengthAdjust="spacingAndGlyphs" x="1470.7" y="742.6" stroke-width="0.15">†††</text>
<text class="s" font-size="44.2" text-anchor="middle" textLength="36.6" lengthAdjust="spacingAndGlyphs" x="1228.3" y="811.0" stroke-width="0.15">**</text>
<text class="s" font-size="43.2" text-anchor="middle" x="1298.5" y="811.0" stroke-width="0.15">*</text>
<text class="s" font-size="43.2" text-anchor="middle" x="1487.5" y="811.0" stroke-width="0.15">*</text>
<line x1="1528.3" y1="689.0" x2="1578.9" y2="689.0" stroke="#0d4b5e" stroke-width="3.3"/>
<circle cx="1553.6" cy="689.0" r="9.4" fill="#0d4b5e"/>
<text class="t" font-size="33.0" textLength="104.8" lengthAdjust="spacingAndGlyphs" x="1589.6" y="695.5" stroke-width="0.57">mNeon</text>
<line x1="1528.3" y1="730.8" x2="1578.9" y2="730.8" stroke="#6f97a3" stroke-width="3.3"/>
<circle cx="1553.6" cy="730.8" r="9.4" fill="#6f97a3"/>
<text class="t" font-size="33.0" textLength="133.2" lengthAdjust="spacingAndGlyphs" x="1589.5" y="737.6" stroke-width="0.57">mNeon +</text>
<text class="t" font-size="32.7" textLength="177.9" lengthAdjust="spacingAndGlyphs" x="1590.1" y="775.6" stroke-width="0.56">200 µM FAC</text>
<line x1="1537.9" y1="836.8" x2="1588.5" y2="836.8" stroke="#e56600" stroke-width="3.3"/>
<circle cx="1563.2" cy="836.8" r="9.4" fill="#e56600"/>
<text class="t" font-size="33.0" textLength="68.2" lengthAdjust="spacingAndGlyphs" x="1598.8" y="846.1" stroke-width="0.57">ΔVIT</text>
<line x1="1537.9" y1="881.6" x2="1588.5" y2="881.6" stroke="#f0a468" stroke-width="3.3"/>
<circle cx="1563.2" cy="881.6" r="9.4" fill="#f0a468"/>
<text class="t" font-size="33.0" textLength="96.5" lengthAdjust="spacingAndGlyphs" x="1598.8" y="887.7" stroke-width="0.57">ΔVIT +</text>
<text class="t" font-size="32.7" textLength="177.9" lengthAdjust="spacingAndGlyphs" x="1598.9" y="926.5" stroke-width="0.56">200 µM FAC</text>
<text class="b" font-size="47.0" x="-2.1" y="1243.2" font-weight="bold">e</text>
<line x1="138.9" y1="1604.3" x2="604.4" y2="1604.3" stroke="#000" stroke-width="1.6" stroke-dasharray="1.5 7.9"/>
<line x1="132.9" y1="1250.8" x2="132.9" y2="1722.3" stroke="#000" stroke-width="1.7"/>
<line x1="604.4" y1="1250.8" x2="604.4" y2="1725.3" stroke="#000" stroke-width="1.7"/>
<line x1="114.7" y1="1250.8" x2="605.1" y2="1250.8" stroke="#000" stroke-width="1.7"/>
<line x1="114.7" y1="1722.3" x2="604.4" y2="1722.3" stroke="#000" stroke-width="1.7"/>
<line x1="114.7" y1="1604.3" x2="132.9" y2="1604.3" stroke="#000" stroke-width="1.7"/>
<line x1="114.7" y1="1486.4" x2="132.9" y2="1486.4" stroke="#000" stroke-width="1.7"/>
<line x1="114.7" y1="1368.5" x2="132.9" y2="1368.5" stroke="#000" stroke-width="1.7"/>
<polyline points="132.9,1368.5 138.4,1368.5 143.9,1368.5 149.5,1368.5 155.0,1368.5 160.5,1368.5 166.0,1368.5 171.6,1368.5 177.1,1368.5 182.6,1368.5 188.2,1368.5 193.7,1368.5 199.2,1368.5 204.8,1368.5 210.3,1368.5 215.8,1368.5 221.3,1368.5 226.9,1368.5 232.4,1368.5 237.9,1368.5 243.5,1368.5 249.0,1368.5 254.5,1368.6 260.1,1368.6 265.6,1368.6 271.1,1368.6 276.7,1368.7 282.2,1368.7 287.7,1368.8 293.2,1368.8 298.8,1368.9 304.3,1369.1 309.8,1369.3 315.4,1369.5 320.9,1369.8 326.4,1370.2 332.0,1370.7 337.5,1371.3 343.0,1372.1 348.5,1373.2 354.1,1374.6 359.6,1376.4 365.1,1378.6 370.7,1381.5 376.2,1385.1 381.7,1389.5 387.3,1395.0 392.8,1401.6 398.3,1409.5 403.9,1418.6 409.4,1428.9 414.9,1440.2 420.4,1452.2 426.0,1464.6 431.5,1476.9 437.0,1488.7 442.6,1499.7 448.1,1509.6 453.6,1518.2 459.2,1525.6 464.7,1531.8 470.2,1536.9 475.7,1541.0 481.3,1544.3 486.8,1547.0 492.3,1549.0 497.9,1550.6 503.4,1551.9 508.9,1552.9 514.5,1553.6 520.0,1554.2 525.5,1554.7 531.1,1555.0 536.6,1555.3 542.1,1555.5 547.6,1555.7 553.2,1555.8 558.7,1555.9 564.2,1556.0 569.8,1556.0 575.3,1556.1" fill="none" stroke="#0d4b5e" stroke-width="3.4"/>
<polyline points="132.9,1368.5 138.4,1368.5 143.9,1368.5 149.5,1368.5 155.0,1368.5 160.5,1368.5 166.0,1368.5 171.6,1368.5 177.1,1368.5 182.6,1368.5 188.2,1368.5 193.7,1368.5 199.2,1368.5 204.8,1368.5 210.3,1368.5 215.8,1368.6 221.3,1368.6 226.9,1368.6 232.4,1368.6 237.9,1368.7 243.5,1368.7 249.0,1368.8 254.5,1368.9 260.1,1369.0 265.6,1369.2 271.1,1369.4 276.7,1369.7 282.2,1370.0 287.7,1370.5 293.2,1371.1 298.8,1371.8 304.3,1372.8 309.8,1374.1 315.4,1375.7 320.9,1377.8 326.4,1380.4 332.0,1383.8 337.5,1387.9 343.0,1393.1 348.5,1399.3 354.1,1406.9 359.6,1415.7 365.1,1425.7 370.7,1437.0 376.2,1449.1 381.7,1461.8 387.3,1474.7 392.8,1487.2 398.3,1499.1 403.9,1509.9 409.4,1519.5 414.9,1527.8 420.4,1534.8 426.0,1540.6 431.5,1545.3 437.0,1549.2 442.6,1552.2 448.1,1554.6 453.6,1556.5 459.2,1558.0 464.7,1559.1 470.2,1560.0 475.7,1560.7 481.3,1561.3 486.8,1561.7 492.3,1562.0 497.9,1562.2 503.4,1562.4 508.9,1562.6 514.5,1562.7 520.0,1562.8 525.5,1562.8 531.1,1562.9 536.6,1562.9 542.1,1562.9 547.6,1563.0 553.2,1563.0 558.7,1563.0 564.2,1563.0 569.8,1563.0 575.3,1563.0" fill="none" stroke="#731200" stroke-width="3.4"/>
<polyline points="132.9,1368.5 138.4,1368.5 143.9,1368.6 149.5,1368.6 155.0,1368.6 160.5,1368.6 166.0,1368.7 171.6,1368.7 177.1,1368.8 182.6,1368.8 188.2,1369.0 193.7,1369.1 199.2,1369.3 204.8,1369.5 210.3,1369.8 215.8,1370.2 221.3,1370.7 226.9,1371.4 232.4,1372.2 237.9,1373.3 243.5,1374.7 249.0,1376.5 254.5,1378.8 260.1,1381.8 265.6,1385.4 271.1,1390.1 276.7,1395.7 282.2,1402.6 287.7,1410.9 293.2,1420.5 298.8,1431.5 304.3,1443.6 309.8,1456.7 315.4,1470.4 320.9,1484.1 326.4,1497.4 332.0,1509.8 337.5,1521.2 343.0,1531.2 348.5,1539.9 354.1,1547.1 359.6,1553.1 365.1,1558.0 370.7,1562.0 376.2,1565.1 381.7,1567.6 387.3,1569.5 392.8,1571.1 398.3,1572.2 403.9,1573.2 409.4,1573.9 414.9,1574.4 420.4,1574.8 426.0,1575.2 431.5,1575.4 437.0,1575.6 442.6,1575.8 448.1,1575.9 453.6,1576.0 459.2,1576.0 464.7,1576.1 470.2,1576.1 475.7,1576.1 481.3,1576.2 486.8,1576.2 492.3,1576.2 497.9,1576.2 503.4,1576.2 508.9,1576.2 514.5,1576.2 520.0,1576.2 525.5,1576.2 531.1,1576.2 536.6,1576.2 542.1,1576.2 547.6,1576.2 553.2,1576.2 558.7,1576.2 564.2,1576.2 569.8,1576.2 575.3,1576.2" fill="none" stroke="#e56600" stroke-width="3.4"/>
<line x1="146.9" y1="1318.9" x2="146.9" y2="1360.1" stroke="#0d4b5e" stroke-width="1.9"/>
<line x1="137.4" y1="1318.9" x2="156.4" y2="1318.9" stroke="#0d4b5e" stroke-width="1.9"/>
<line x1="137.4" y1="1360.1" x2="156.4" y2="1360.1" stroke="#0d4b5e" stroke-width="1.9"/>
<line x1="189.7" y1="1309.3" x2="189.7" y2="1344.9" stroke="#0d4b5e" stroke-width="1.9"/>
<line x1="180.2" y1="1309.3" x2="199.2" y2="1309.3" stroke="#0d4b5e" stroke-width="1.9"/>
<line x1="180.2" y1="1344.9" x2="199.2" y2="1344.9" stroke="#0d4b5e" stroke-width="1.9"/>
<line x1="232.1" y1="1351.3" x2="232.1" y2="1394.1" stroke="#0d4b5e" stroke-width="1.9"/>
<line x1="222.6" y1="1351.3" x2="241.6" y2="1351.3" stroke="#0d4b5e" stroke-width="1.9"/>
<line x1="222.6" y1="1394.1" x2="241.6" y2="1394.1" stroke="#0d4b5e" stroke-width="1.9"/>
<line x1="275.4" y1="1299.7" x2="275.4" y2="1368.1" stroke="#0d4b5e" stroke-width="1.9"/>
<line x1="265.9" y1="1299.7" x2="284.9" y2="1299.7" stroke="#0d4b5e" stroke-width="1.9"/>
<line x1="265.9" y1="1368.1" x2="284.9" y2="1368.1" stroke="#0d4b5e" stroke-width="1.9"/>
<line x1="318.2" y1="1292.9" x2="318.2" y2="1366.1" stroke="#0d4b5e" stroke-width="1.9"/>
<line x1="308.7" y1="1292.9" x2="327.7" y2="1292.9" stroke="#0d4b5e" stroke-width="1.9"/>
<line x1="308.7" y1="1366.1" x2="327.7" y2="1366.1" stroke="#0d4b5e" stroke-width="1.9"/>
<line x1="361.0" y1="1342.9" x2="361.0" y2="1386.9" stroke="#0d4b5e" stroke-width="1.9"/>
<line x1="351.5" y1="1342.9" x2="370.5" y2="1342.9" stroke="#0d4b5e" stroke-width="1.9"/>
<line x1="351.5" y1="1386.9" x2="370.5" y2="1386.9" stroke="#0d4b5e" stroke-width="1.9"/>
<line x1="403.9" y1="1408.5" x2="403.9" y2="1428.9" stroke="#0d4b5e" stroke-width="1.9"/>
<line x1="394.4" y1="1408.5" x2="413.4" y2="1408.5" stroke="#0d4b5e" stroke-width="1.9"/>
<line x1="394.4" y1="1428.9" x2="413.4" y2="1428.9" stroke="#0d4b5e" stroke-width="1.9"/>
<line x1="489.5" y1="1499.0" x2="489.5" y2="1528.2" stroke="#0d4b5e" stroke-width="1.9"/>
<line x1="480.0" y1="1499.0" x2="499.0" y2="1499.0" stroke="#0d4b5e" stroke-width="1.9"/>
<line x1="480.0" y1="1528.2" x2="499.0" y2="1528.2" stroke="#0d4b5e" stroke-width="1.9"/>
<line x1="532.3" y1="1524.6" x2="532.3" y2="1557.4" stroke="#0d4b5e" stroke-width="1.9"/>
<line x1="522.8" y1="1524.6" x2="541.8" y2="1524.6" stroke="#0d4b5e" stroke-width="1.9"/>
<line x1="522.8" y1="1557.4" x2="541.8" y2="1557.4" stroke="#0d4b5e" stroke-width="1.9"/>
<line x1="575.2" y1="1581.0" x2="575.2" y2="1623.5" stroke="#0d4b5e" stroke-width="1.9"/>
<line x1="565.7" y1="1581.0" x2="584.7" y2="1581.0" stroke="#0d4b5e" stroke-width="1.9"/>
<line x1="565.7" y1="1623.5" x2="584.7" y2="1623.5" stroke="#0d4b5e" stroke-width="1.9"/>
<circle cx="146.9" cy="1345.3" r="9.8" fill="#0d4b5e"/>
<circle cx="189.7" cy="1328.1" r="9.8" fill="#0d4b5e"/>
<circle cx="232.1" cy="1372.9" r="9.8" fill="#0d4b5e"/>
<circle cx="275.4" cy="1334.1" r="9.8" fill="#0d4b5e"/>
<circle cx="318.2" cy="1329.7" r="9.8" fill="#0d4b5e"/>
<circle cx="361.0" cy="1364.9" r="9.8" fill="#0d4b5e"/>
<circle cx="403.9" cy="1418.9" r="9.8" fill="#0d4b5e"/>
<circle cx="446.3" cy="1522.2" r="9.8" fill="#0d4b5e"/>
<circle cx="489.5" cy="1513.4" r="9.8" fill="#0d4b5e"/>
<circle cx="532.3" cy="1541.4" r="9.8" fill="#0d4b5e"/>
<circle cx="575.2" cy="1602.3" r="9.8" fill="#0d4b5e"/>
<line x1="232.1" y1="1392.1" x2="232.1" y2="1428.5" stroke="#731200" stroke-width="1.9"/>
<line x1="222.6" y1="1392.1" x2="241.6" y2="1392.1" stroke="#731200" stroke-width="1.9"/>
<line x1="222.6" y1="1428.5" x2="241.6" y2="1428.5" stroke="#731200" stroke-width="1.9"/>
<line x1="318.2" y1="1395.7" x2="318.2" y2="1424.5" stroke="#731200" stroke-width="1.9"/>
<line x1="308.7" y1="1395.7" x2="327.7" y2="1395.7" stroke="#731200" stroke-width="1.9"/>
<line x1="308.7" y1="1424.5" x2="327.7" y2="1424.5" stroke="#731200" stroke-width="1.9"/>
<line x1="361.0" y1="1408.1" x2="361.0" y2="1465.0" stroke="#731200" stroke-width="1.9"/>
<line x1="351.5" y1="1408.1" x2="370.5" y2="1408.1" stroke="#731200" stroke-width="1.9"/>
<line x1="351.5" y1="1465.0" x2="370.5" y2="1465.0" stroke="#731200" stroke-width="1.9"/>
<line x1="403.9" y1="1467.4" x2="403.9" y2="1517.4" stroke="#731200" stroke-width="1.9"/>
<line x1="394.4" y1="1467.4" x2="413.4" y2="1467.4" stroke="#731200" stroke-width="1.9"/>
<line x1="394.4" y1="1517.4" x2="413.4" y2="1517.4" stroke="#731200" stroke-width="1.9"/>
<line x1="446.3" y1="1500.6" x2="446.3" y2="1541.4" stroke="#731200" stroke-width="1.9"/>
<line x1="436.8" y1="1500.6" x2="455.8" y2="1500.6" stroke="#731200" stroke-width="1.9"/>
<line x1="436.8" y1="1541.4" x2="455.8" y2="1541.4" stroke="#731200" stroke-width="1.9"/>
<line x1="489.5" y1="1528.6" x2="489.5" y2="1562.2" stroke="#731200" stroke-width="1.9"/>
<line x1="480.0" y1="1528.6" x2="499.0" y2="1528.6" stroke="#731200" stroke-width="1.9"/>
<line x1="480.0" y1="1562.2" x2="499.0" y2="1562.2" stroke="#731200" stroke-width="1.9"/>
<line x1="532.3" y1="1566.2" x2="532.3" y2="1591.0" stroke="#731200" stroke-width="1.9"/>
<line x1="522.8" y1="1566.2" x2="541.8" y2="1566.2" stroke="#731200" stroke-width="1.9"/>
<line x1="522.8" y1="1591.0" x2="541.8" y2="1591.0" stroke="#731200" stroke-width="1.9"/>
<line x1="575.2" y1="1592.6" x2="575.2" y2="1620.3" stroke="#731200" stroke-width="1.9"/>
<line x1="565.7" y1="1592.6" x2="584.7" y2="1592.6" stroke="#731200" stroke-width="1.9"/>
<line x1="565.7" y1="1620.3" x2="584.7" y2="1620.3" stroke="#731200" stroke-width="1.9"/>
<circle cx="189.7" cy="1368.9" r="9.8" fill="#731200"/>
<circle cx="232.1" cy="1409.7" r="9.8" fill="#731200"/>
<circle cx="275.4" cy="1406.1" r="9.8" fill="#731200"/>
<circle cx="318.2" cy="1410.1" r="9.8" fill="#731200"/>
<circle cx="361.0" cy="1437.7" r="9.8" fill="#731200"/>
<circle cx="403.9" cy="1492.2" r="9.8" fill="#731200"/>
<circle cx="446.3" cy="1521.4" r="9.8" fill="#731200"/>
<circle cx="489.5" cy="1545.4" r="9.8" fill="#731200"/>
<circle cx="532.3" cy="1578.6" r="9.8" fill="#731200"/>
<circle cx="575.2" cy="1606.3" r="9.8" fill="#731200"/>
<line x1="318.2" y1="1443.4" x2="318.2" y2="1508.2" stroke="#e56600" stroke-width="1.9"/>
<line x1="308.7" y1="1443.4" x2="327.7" y2="1443.4" stroke="#e56600" stroke-width="1.9"/>
<line x1="308.7" y1="1508.2" x2="327.7" y2="1508.2" stroke="#e56600" stroke-width="1.9"/>
<line x1="361.0" y1="1484.6" x2="361.0" y2="1589.4" stroke="#e56600" stroke-width="1.9"/>
<line x1="351.5" y1="1484.6" x2="370.5" y2="1484.6" stroke="#e56600" stroke-width="1.9"/>
<line x1="351.5" y1="1589.4" x2="370.5" y2="1589.4" stroke="#e56600" stroke-width="1.9"/>
<line x1="403.9" y1="1527.4" x2="403.9" y2="1574.2" stroke="#e56600" stroke-width="1.9"/>
<line x1="394.4" y1="1527.4" x2="413.4" y2="1527.4" stroke="#e56600" stroke-width="1.9"/>
<line x1="394.4" y1="1574.2" x2="413.4" y2="1574.2" stroke="#e56600" stroke-width="1.9"/>
<line x1="446.3" y1="1541.0" x2="446.3" y2="1580.2" stroke="#e56600" stroke-width="1.9"/>
<line x1="436.8" y1="1541.0" x2="455.8" y2="1541.0" stroke="#e56600" stroke-width="1.9"/>
<line x1="436.8" y1="1580.2" x2="455.8" y2="1580.2" stroke="#e56600" stroke-width="1.9"/>
<line x1="489.5" y1="1559.4" x2="489.5" y2="1594.2" stroke="#e56600" stroke-width="1.9"/>
<line x1="480.0" y1="1559.4" x2="499.0" y2="1559.4" stroke="#e56600" stroke-width="1.9"/>
<line x1="480.0" y1="1594.2" x2="499.0" y2="1594.2" stroke="#e56600" stroke-width="1.9"/>
<line x1="532.3" y1="1580.6" x2="532.3" y2="1607.1" stroke="#e56600" stroke-width="1.9"/>
<line x1="522.8" y1="1580.6" x2="541.8" y2="1580.6" stroke="#e56600" stroke-width="1.9"/>
<line x1="522.8" y1="1607.1" x2="541.8" y2="1607.1" stroke="#e56600" stroke-width="1.9"/>
<line x1="575.2" y1="1600.2" x2="575.2" y2="1622.3" stroke="#e56600" stroke-width="1.9"/>
<line x1="565.7" y1="1600.2" x2="584.7" y2="1600.2" stroke="#e56600" stroke-width="1.9"/>
<line x1="565.7" y1="1622.3" x2="584.7" y2="1622.3" stroke="#e56600" stroke-width="1.9"/>
<circle cx="146.9" cy="1368.9" r="9.8" fill="#e56600"/>
<circle cx="189.7" cy="1362.1" r="9.8" fill="#e56600"/>
<circle cx="232.1" cy="1385.3" r="9.8" fill="#e56600"/>
<circle cx="275.4" cy="1413.3" r="9.8" fill="#e56600"/>
<circle cx="318.2" cy="1476.2" r="9.8" fill="#e56600"/>
<circle cx="361.0" cy="1537.4" r="9.8" fill="#e56600"/>
<circle cx="403.9" cy="1551.0" r="9.8" fill="#e56600"/>
<circle cx="446.3" cy="1561.0" r="9.8" fill="#e56600"/>
<circle cx="489.5" cy="1576.6" r="9.8" fill="#e56600"/>
<circle cx="532.3" cy="1594.2" r="9.8" fill="#e56600"/>
<circle cx="575.2" cy="1611.5" r="9.8" fill="#e56600"/>
<circle cx="132.9" cy="1368.9" r="9.8" fill="#e56600"/>
<text class="t" font-size="33.8" text-anchor="end" textLength="55.1" lengthAdjust="spacingAndGlyphs" x="105.6" y="1735.2" stroke-width="0.58">-50</text>
<text class="t" font-size="33.8" text-anchor="end" textLength="20.5" lengthAdjust="spacingAndGlyphs" x="105.5" y="1617.3" stroke-width="0.58">0</text>
<text class="t" font-size="33.8" text-anchor="end" textLength="37.8" lengthAdjust="spacingAndGlyphs" x="105.4" y="1499.4" stroke-width="0.58">50</text>
<text class="t" font-size="33.8" text-anchor="end" textLength="55.7" lengthAdjust="spacingAndGlyphs" x="105.4" y="1381.5" stroke-width="0.58">100</text>
<text class="t" font-size="33.8" text-anchor="end" textLength="55.7" lengthAdjust="spacingAndGlyphs" x="105.4" y="1263.6" stroke-width="0.58">150</text>
<line x1="132.9" y1="1722.3" x2="132.9" y2="1740.3" stroke="#000" stroke-width="1.7"/>
<text class="t" font-size="33.2" text-anchor="middle" textLength="31.7" lengthAdjust="spacingAndGlyphs" x="132.8" y="1775.6" stroke-width="0.57">-8</text>
<line x1="218.5" y1="1722.3" x2="218.5" y2="1740.3" stroke="#000" stroke-width="1.7"/>
<text class="t" font-size="33.2" text-anchor="middle" textLength="31.7" lengthAdjust="spacingAndGlyphs" x="218.5" y="1775.6" stroke-width="0.57">-6</text>
<line x1="304.2" y1="1722.3" x2="304.2" y2="1740.3" stroke="#000" stroke-width="1.7"/>
<text class="t" font-size="33.2" text-anchor="middle" textLength="31.2" lengthAdjust="spacingAndGlyphs" x="303.9" y="1775.6" stroke-width="0.57">-4</text>
<line x1="389.8" y1="1722.3" x2="389.8" y2="1740.3" stroke="#000" stroke-width="1.7"/>
<text class="t" font-size="33.2" text-anchor="middle" textLength="32.0" lengthAdjust="spacingAndGlyphs" x="389.9" y="1775.6" stroke-width="0.57">-2</text>
<line x1="475.5" y1="1722.3" x2="475.5" y2="1740.3" stroke="#000" stroke-width="1.7"/>
<text class="t" font-size="33.2" text-anchor="middle" textLength="19.9" lengthAdjust="spacingAndGlyphs" x="475.5" y="1775.6" stroke-width="0.57">0</text>
<line x1="561.2" y1="1722.3" x2="561.2" y2="1740.3" stroke="#000" stroke-width="1.7"/>
<text class="t" font-size="33.2" text-anchor="middle" textLength="20.8" lengthAdjust="spacingAndGlyphs" x="561.2" y="1775.6" stroke-width="0.57">2</text>
<text class="t" font-size="34.3" text-anchor="middle" textLength="321.8" lengthAdjust="spacingAndGlyphs" transform="translate(51.1 1481.0) rotate(-90)" x="0.5" y="0" stroke-width="0.59">% parasite proliferation</text>
<text class="t" font-size="38.9" textLength="51.8" lengthAdjust="spacingAndGlyphs" x="261.2" y="1819.0" stroke-width="0.67">log</text>
<text class="t" font-size="23.1" textLength="14.6" lengthAdjust="spacingAndGlyphs" x="312.6" y="1831.0" stroke-width="0.4">2</text>
<text class="t" font-size="38.9" textLength="90.8" lengthAdjust="spacingAndGlyphs" x="337.3" y="1819.0" stroke-width="0.67">[FAC]</text>
<text class="t" font-size="34.3" textLength="57.7" lengthAdjust="spacingAndGlyphs" x="437.2" y="1818.9" stroke-width="0.59">mM</text>
<line x1="144.3" y1="1622.4" x2="194.7" y2="1622.4" stroke="#0d4b5e" stroke-width="3.0"/>
<circle cx="169.5" cy="1622.4" r="9.4" fill="#0d4b5e"/>
<text class="t" font-size="33.0" textLength="101.0" lengthAdjust="spacingAndGlyphs" x="206.9" y="1631.7" stroke-width="0.57">mNeon</text>
<line x1="144.3" y1="1664.6" x2="194.7" y2="1664.6" stroke="#e56600" stroke-width="3.0"/>
<circle cx="169.5" cy="1664.6" r="9.4" fill="#e56600"/>
<text class="t" font-size="33.0" textLength="64.3" lengthAdjust="spacingAndGlyphs" x="208.2" y="1671.1" stroke-width="0.57">ΔVIT</text>
<line x1="144.3" y1="1706.0" x2="194.7" y2="1706.0" stroke="#731200" stroke-width="3.0"/>
<circle cx="169.5" cy="1706.0" r="9.4" fill="#731200"/>
<text class="t" font-size="33.0" textLength="125.7" lengthAdjust="spacingAndGlyphs" x="208.2" y="1712.7" stroke-width="0.57">ΔVIT+VIT</text>
<text class="b" font-size="47.0" x="645.8" y="1246.8" font-weight="bold">f</text>
<rect x="781.5" y="1492.7" width="53.6" height="73.9" fill="#0d4b5e" stroke="#000" stroke-width="1.7"/>
<rect x="872.6" y="1566.6" width="53.7" height="58.5" fill="#e56600" stroke="#000" stroke-width="1.7"/>
<rect x="960.1" y="1343.7" width="61.5" height="222.9" fill="#0d4b5e" stroke="#000" stroke-width="1.7"/>
<rect x="1050.9" y="1383.5" width="61.1" height="183.1" fill="#e56600" stroke="#000" stroke-width="1.7"/>
<rect x="1145.8" y="1525.7" width="54.0" height="40.9" fill="#0d4b5e" stroke="#000" stroke-width="1.7"/>
<rect x="1236.8" y="1537.7" width="54.0" height="28.9" fill="#e56600" stroke="#000" stroke-width="1.7"/>
<rect x="1328.0" y="1546.3" width="53.6" height="20.3" fill="#0d4b5e" stroke="#000" stroke-width="1.7"/>
<rect x="1418.8" y="1566.6" width="54.0" height="93.8" fill="#e56600" stroke="#000" stroke-width="1.7"/>
<rect x="1510.0" y="1429.6" width="53.6" height="137.0" fill="#0d4b5e" stroke="#000" stroke-width="1.7"/>
<rect x="1600.8" y="1456.3" width="54.0" height="110.3" fill="#e56600" stroke="#000" stroke-width="1.7"/>
<line x1="748.1" y1="1253.3" x2="748.1" y2="1723.8" stroke="#000" stroke-width="1.7"/>
<line x1="1690.1" y1="1253.3" x2="1690.1" y2="1726.8" stroke="#000" stroke-width="1.7"/>
<line x1="727.1" y1="1253.3" x2="1690.8" y2="1253.3" stroke="#000" stroke-width="1.7"/>
<line x1="727.1" y1="1723.8" x2="1690.1" y2="1723.8" stroke="#000" stroke-width="1.7"/>
<line x1="727.1" y1="1566.6" x2="1690.1" y2="1566.6" stroke="#000" stroke-width="1.7"/>
<line x1="727.1" y1="1645.0" x2="748.1" y2="1645.0" stroke="#000" stroke-width="1.7"/>
<line x1="727.1" y1="1488.2" x2="748.1" y2="1488.2" stroke="#000" stroke-width="1.7"/>
<line x1="727.1" y1="1409.8" x2="748.1" y2="1409.8" stroke="#000" stroke-width="1.7"/>
<line x1="727.1" y1="1331.4" x2="748.1" y2="1331.4" stroke="#000" stroke-width="1.7"/>
<text class="t" font-size="37.8" text-anchor="end" textLength="35.1" lengthAdjust="spacingAndGlyphs" x="715.7" y="1736.6" stroke-width="0.65">-4</text>
<text class="t" font-size="37.8" text-anchor="end" textLength="36.0" lengthAdjust="spacingAndGlyphs" x="716.6" y="1658.2" stroke-width="0.65">-2</text>
<text class="t" font-size="37.8" text-anchor="end" textLength="22.2" lengthAdjust="spacingAndGlyphs" x="716.1" y="1579.8" stroke-width="0.65">0</text>
<text class="t" font-size="37.8" text-anchor="end" textLength="23.3" lengthAdjust="spacingAndGlyphs" x="716.6" y="1501.4" stroke-width="0.65">2</text>
<text class="t" font-size="37.8" text-anchor="end" textLength="21.0" lengthAdjust="spacingAndGlyphs" x="715.6" y="1423.0" stroke-width="0.65">4</text>
<text class="t" font-size="37.8" text-anchor="end" textLength="23.0" lengthAdjust="spacingAndGlyphs" x="716.3" y="1344.6" stroke-width="0.65">6</text>
<text class="t" font-size="37.8" text-anchor="end" textLength="22.6" lengthAdjust="spacingAndGlyphs" x="716.3" y="1266.2" stroke-width="0.65">8</text>
<line x1="807.7" y1="1723.8" x2="807.7" y2="1744.8" stroke="#000" stroke-width="1.7"/>
<text class="t" font-size="28.6" text-anchor="end" textLength="84.3" lengthAdjust="spacingAndGlyphs" transform="translate(812.3 1748.8) rotate(-90)" x="1.9" y="0" stroke-width="0.49">mNeon</text>
<line x1="898.9" y1="1723.8" x2="898.9" y2="1744.8" stroke="#000" stroke-width="1.7"/>
<text class="t" font-size="29.1" text-anchor="end" textLength="53.6" lengthAdjust="spacingAndGlyphs" transform="translate(904.7 1748.2) rotate(-90)" x="0.8" y="0" stroke-width="0.5">ΔVIT</text>
<line x1="990.0" y1="1723.8" x2="990.0" y2="1744.8" stroke="#000" stroke-width="1.7"/>
<text class="t" font-size="28.6" text-anchor="end" textLength="84.3" lengthAdjust="spacingAndGlyphs" transform="translate(994.6 1748.8) rotate(-90)" x="1.9" y="0" stroke-width="0.49">mNeon</text>
<line x1="1081.2" y1="1723.8" x2="1081.2" y2="1744.8" stroke="#000" stroke-width="1.7"/>
<text class="t" font-size="29.1" text-anchor="end" textLength="53.6" lengthAdjust="spacingAndGlyphs" transform="translate(1087.0 1748.2) rotate(-90)" x="0.8" y="0" stroke-width="0.5">ΔVIT</text>
<line x1="1172.3" y1="1723.8" x2="1172.3" y2="1744.8" stroke="#000" stroke-width="1.7"/>
<text class="t" font-size="28.6" text-anchor="end" textLength="84.3" lengthAdjust="spacingAndGlyphs" transform="translate(1176.9 1748.8) rotate(-90)" x="1.9" y="0" stroke-width="0.49">mNeon</text>
<line x1="1263.5" y1="1723.8" x2="1263.5" y2="1744.8" stroke="#000" stroke-width="1.7"/>
<text class="t" font-size="29.1" text-anchor="end" textLength="53.6" lengthAdjust="spacingAndGlyphs" transform="translate(1269.3 1748.2) rotate(-90)" x="0.8" y="0" stroke-width="0.5">ΔVIT</text>
<line x1="1354.7" y1="1723.8" x2="1354.7" y2="1744.8" stroke="#000" stroke-width="1.7"/>
<text class="t" font-size="28.6" text-anchor="end" textLength="84.3" lengthAdjust="spacingAndGlyphs" transform="translate(1359.3 1748.8) rotate(-90)" x="1.9" y="0" stroke-width="0.49">mNeon</text>
<line x1="1445.8" y1="1723.8" x2="1445.8" y2="1744.8" stroke="#000" stroke-width="1.7"/>
<text class="t" font-size="29.1" text-anchor="end" textLength="53.6" lengthAdjust="spacingAndGlyphs" transform="translate(1451.6 1748.2) rotate(-90)" x="0.8" y="0" stroke-width="0.5">ΔVIT</text>
<line x1="1537.0" y1="1723.8" x2="1537.0" y2="1744.8" stroke="#000" stroke-width="1.7"/>
<text class="t" font-size="28.6" text-anchor="end" textLength="84.3" lengthAdjust="spacingAndGlyphs" transform="translate(1541.6 1748.8) rotate(-90)" x="1.9" y="0" stroke-width="0.49">mNeon</text>
<line x1="1628.1" y1="1723.8" x2="1628.1" y2="1744.8" stroke="#000" stroke-width="1.7"/>
<text class="t" font-size="29.1" text-anchor="end" textLength="53.6" lengthAdjust="spacingAndGlyphs" transform="translate(1633.9 1748.2) rotate(-90)" x="0.8" y="0" stroke-width="0.5">ΔVIT</text>
<line x1="798.3" y1="1847.3" x2="886.5" y2="1847.3" stroke="#000" stroke-width="1.7"/>
<text class="t" font-size="32.7" textLength="54.4" lengthAdjust="spacingAndGlyphs" x="810.3" y="1876.5" stroke-width="0.56">iron</text>
<line x1="985.2" y1="1847.3" x2="1063.3" y2="1847.3" stroke="#000" stroke-width="1.7"/>
<text class="t" font-size="32.7" textLength="57.2" lengthAdjust="spacingAndGlyphs" x="990.9" y="1876.5" stroke-width="0.56">zinc</text>
<line x1="1168.3" y1="1847.3" x2="1256.3" y2="1847.3" stroke="#000" stroke-width="1.7"/>
<text class="t" font-size="32.7" textLength="101.8" lengthAdjust="spacingAndGlyphs" x="1160.6" y="1876.5" stroke-width="0.56">copper</text>
<line x1="1348.6" y1="1847.3" x2="1426.7" y2="1847.3" stroke="#000" stroke-width="1.7"/>
<text class="t" font-size="32.7" textLength="132.8" lengthAdjust="spacingAndGlyphs" x="1327.0" y="1876.5" stroke-width="0.56">cadmium</text>
<line x1="1532.5" y1="1847.3" x2="1626.3" y2="1847.3" stroke="#000" stroke-width="1.7"/>
<text class="t" font-size="32.7" textLength="167.4" lengthAdjust="spacingAndGlyphs" x="1503.0" y="1876.5" stroke-width="0.56">manganese</text>
<line x1="808.5" y1="1466.0" x2="808.5" y2="1511.4" stroke="#000" stroke-width="1.6"/>
<line x1="793.0" y1="1466.0" x2="824.0" y2="1466.0" stroke="#000" stroke-width="1.6"/>
<line x1="793.0" y1="1511.4" x2="824.0" y2="1511.4" stroke="#000" stroke-width="1.6"/>
<line x1="898.9" y1="1594.7" x2="898.9" y2="1663.4" stroke="#000" stroke-width="1.6"/>
<line x1="883.4" y1="1594.7" x2="914.4" y2="1594.7" stroke="#000" stroke-width="1.6"/>
<line x1="883.4" y1="1663.4" x2="914.4" y2="1663.4" stroke="#000" stroke-width="1.6"/>
<line x1="990.1" y1="1322.7" x2="990.1" y2="1364.7" stroke="#000" stroke-width="1.6"/>
<line x1="974.6" y1="1322.7" x2="1005.6" y2="1322.7" stroke="#000" stroke-width="1.6"/>
<line x1="974.6" y1="1364.7" x2="1005.6" y2="1364.7" stroke="#000" stroke-width="1.6"/>
<line x1="1081.3" y1="1349.3" x2="1081.3" y2="1417.6" stroke="#000" stroke-width="1.6"/>
<line x1="1065.8" y1="1349.3" x2="1096.8" y2="1349.3" stroke="#000" stroke-width="1.6"/>
<line x1="1065.8" y1="1417.6" x2="1096.8" y2="1417.6" stroke="#000" stroke-width="1.6"/>
<line x1="1172.4" y1="1436.0" x2="1172.4" y2="1610.1" stroke="#000" stroke-width="1.6"/>
<line x1="1156.9" y1="1436.0" x2="1187.9" y2="1436.0" stroke="#000" stroke-width="1.6"/>
<line x1="1156.9" y1="1610.1" x2="1187.9" y2="1610.1" stroke="#000" stroke-width="1.6"/>
<line x1="1263.8" y1="1465.3" x2="1263.8" y2="1604.1" stroke="#000" stroke-width="1.6"/>
<line x1="1248.3" y1="1465.3" x2="1279.3" y2="1465.3" stroke="#000" stroke-width="1.6"/>
<line x1="1248.3" y1="1604.1" x2="1279.3" y2="1604.1" stroke="#000" stroke-width="1.6"/>
<line x1="1354.6" y1="1532.8" x2="1354.6" y2="1551.6" stroke="#000" stroke-width="1.6"/>
<line x1="1339.1" y1="1532.8" x2="1370.1" y2="1532.8" stroke="#000" stroke-width="1.6"/>
<line x1="1339.1" y1="1551.6" x2="1370.1" y2="1551.6" stroke="#000" stroke-width="1.6"/>
<line x1="1445.8" y1="1629.6" x2="1445.8" y2="1697.9" stroke="#000" stroke-width="1.6"/>
<line x1="1430.3" y1="1629.6" x2="1461.3" y2="1629.6" stroke="#000" stroke-width="1.6"/>
<line x1="1430.3" y1="1697.9" x2="1461.3" y2="1697.9" stroke="#000" stroke-width="1.6"/>
<line x1="1537.0" y1="1424.0" x2="1537.0" y2="1431.0" stroke="#000" stroke-width="1.6"/>
<line x1="1521.5" y1="1424.0" x2="1552.5" y2="1424.0" stroke="#000" stroke-width="1.6"/>
<line x1="1521.5" y1="1431.0" x2="1552.5" y2="1431.0" stroke="#000" stroke-width="1.6"/>
<line x1="1627.8" y1="1450.5" x2="1627.8" y2="1457.0" stroke="#000" stroke-width="1.6"/>
<line x1="1612.3" y1="1450.5" x2="1643.3" y2="1450.5" stroke="#000" stroke-width="1.6"/>
<line x1="1612.3" y1="1457.0" x2="1643.3" y2="1457.0" stroke="#000" stroke-width="1.6"/>
<circle cx="808.5" cy="1458.9" r="9.4" fill="#000"/>
<circle cx="787.5" cy="1487.0" r="9.4" fill="#000"/>
<circle cx="829.5" cy="1499.4" r="9.4" fill="#000"/>
<circle cx="787.5" cy="1511.4" r="9.4" fill="#000"/>
<circle cx="878.3" cy="1603.4" r="9.4" fill="#000"/>
<circle cx="920.3" cy="1617.2" r="9.4" fill="#000"/>
<circle cx="898.9" cy="1668.3" r="9.4" fill="#000"/>
<circle cx="990.1" cy="1317.4" r="9.4" fill="#000"/>
<circle cx="990.1" cy="1338.5" r="9.4" fill="#000"/>
<circle cx="969.5" cy="1362.5" r="9.4" fill="#000"/>
<circle cx="1011.5" cy="1361.3" r="9.4" fill="#000"/>
<circle cx="1081.3" cy="1342.6" r="9.4" fill="#000"/>
<circle cx="1081.3" cy="1373.0" r="9.4" fill="#000"/>
<circle cx="1081.3" cy="1395.1" r="9.4" fill="#000"/>
<circle cx="1081.3" cy="1424.4" r="9.4" fill="#000"/>
<circle cx="1172.4" cy="1451.4" r="9.4" fill="#000"/>
<circle cx="1172.4" cy="1497.6" r="9.4" fill="#000"/>
<circle cx="1172.4" cy="1620.3" r="9.4" fill="#000"/>
<circle cx="1263.8" cy="1458.9" r="9.4" fill="#000"/>
<circle cx="1263.8" cy="1549.0" r="9.4" fill="#000"/>
<circle cx="1263.8" cy="1596.6" r="9.4" fill="#000"/>
<circle cx="1354.6" cy="1534.0" r="9.4" fill="#000"/>
<circle cx="1375.6" cy="1539.6" r="9.4" fill="#000"/>
<circle cx="1334.0" cy="1552.7" r="9.4" fill="#000"/>
<circle cx="1445.8" cy="1624.8" r="9.4" fill="#000"/>
<circle cx="1466.8" cy="1679.2" r="9.4" fill="#000"/>
<circle cx="1424.8" cy="1687.8" r="9.4" fill="#000"/>
<circle cx="1516.3" cy="1430.8" r="9.4" fill="#000"/>
<circle cx="1537.0" cy="1424.0" r="9.4" fill="#000"/>
<circle cx="1557.6" cy="1426.3" r="9.4" fill="#000"/>
<circle cx="1607.1" cy="1456.3" r="9.4" fill="#000"/>
<circle cx="1627.8" cy="1450.7" r="9.4" fill="#000"/>
<circle cx="1648.8" cy="1451.4" r="9.4" fill="#000"/>
<text class="t" font-size="30.4" textLength="17.7" lengthAdjust="spacingAndGlyphs" x="778.5" y="1410.5" font-style="italic" stroke-width="0.52">p</text>
<text class="t" font-size="30.4" textLength="18.9" lengthAdjust="spacingAndGlyphs" x="804.0" y="1410.5" stroke-width="0.52">=</text>
<text class="t" font-size="30.4" text-anchor="end" textLength="91.3" lengthAdjust="spacingAndGlyphs" x="920.9" y="1410.5" stroke-width="0.52">0.0012</text>
<line x1="809.6" y1="1422.1" x2="890.7" y2="1422.1" stroke="#000" stroke-width="1.7"/>
<text class="t" font-size="32.7" text-anchor="middle" textLength="30.9" lengthAdjust="spacingAndGlyphs" x="1033.8" y="1288.9" font-style="italic" stroke-width="0.56">ns</text>
<line x1="989.7" y1="1292.7" x2="1074.5" y2="1292.7" stroke="#000" stroke-width="1.7"/>
<text class="t" font-size="32.7" text-anchor="middle" textLength="30.9" lengthAdjust="spacingAndGlyphs" x="1219.6" y="1387.6" font-style="italic" stroke-width="0.56">ns</text>
<line x1="1177.9" y1="1395.1" x2="1259.7" y2="1395.1" stroke="#000" stroke-width="1.7"/>
<text class="t" font-size="30.4" textLength="17.7" lengthAdjust="spacingAndGlyphs" x="1338.6" y="1455.5" font-style="italic" stroke-width="0.52">p</text>
<text class="t" font-size="30.4" textLength="18.9" lengthAdjust="spacingAndGlyphs" x="1364.1" y="1455.5" stroke-width="0.52">=</text>
<text class="t" font-size="30.4" text-anchor="end" textLength="74.4" lengthAdjust="spacingAndGlyphs" x="1464.1" y="1455.5" stroke-width="0.52">0.004</text>
<line x1="1358.0" y1="1466.8" x2="1443.2" y2="1466.8" stroke="#000" stroke-width="1.7"/>
<text class="t" font-size="32.7" text-anchor="middle" textLength="30.9" lengthAdjust="spacingAndGlyphs" x="1575.3" y="1357.6" font-style="italic" stroke-width="0.56">ns</text>
<line x1="1540.0" y1="1364.7" x2="1621.4" y2="1364.7" stroke="#000" stroke-width="1.7"/>
<text class="b" font-size="47.0" x="-1.9" y="1940.5" font-weight="bold">g</text>
<clipPath id="cg"><rect x="140.1" y="1959.2" width="482.29999999999995" height="470.29999999999995"/></clipPath>
<line x1="146.1" y1="2253.0" x2="610.4" y2="2253.0" stroke="#000" stroke-width="1.6" stroke-dasharray="1.5 7.9"/>
<line x1="140.1" y1="1959.2" x2="140.1" y2="2447.5" stroke="#000" stroke-width="1.7"/>
<line x1="610.4" y1="1959.2" x2="610.4" y2="2447.5" stroke="#000" stroke-width="1.7"/>
<line x1="140.1" y1="1959.2" x2="610.4" y2="1959.2" stroke="#000" stroke-width="1.7"/>
<line x1="140.1" y1="2429.5" x2="610.4" y2="2429.5" stroke="#000" stroke-width="1.7"/>
<line x1="121.6" y1="2370.4" x2="140.1" y2="2370.4" stroke="#000" stroke-width="1.7"/>
<line x1="121.6" y1="2253.0" x2="140.1" y2="2253.0" stroke="#000" stroke-width="1.7"/>
<line x1="121.6" y1="2135.6" x2="140.1" y2="2135.6" stroke="#000" stroke-width="1.7"/>
<line x1="121.6" y1="2018.2" x2="140.1" y2="2018.2" stroke="#000" stroke-width="1.7"/>
<g clip-path="url(#cg)">
<polyline points="140.1,2050.5 145.8,2050.5 151.5,2050.5 157.2,2050.5 162.8,2050.5 168.5,2050.5 174.2,2050.5 179.9,2050.5 185.6,2050.5 191.3,2050.5 196.9,2050.5 202.6,2050.5 208.3,2050.5 214.0,2050.5 219.7,2050.5 225.4,2050.5 231.1,2050.5 236.7,2050.5 242.4,2050.5 248.1,2050.5 253.8,2050.5 259.5,2050.5 265.2,2050.5 270.8,2050.5 276.5,2050.6 282.2,2050.6 287.9,2050.6 293.6,2050.6 299.3,2050.7 305.0,2050.8 310.6,2050.9 316.3,2051.0 322.0,2051.2 327.7,2051.4 333.4,2051.7 339.1,2052.2 344.8,2052.7 350.4,2053.5 356.1,2054.5 361.8,2055.8 367.5,2057.6 373.2,2059.9 378.9,2063.0 384.5,2067.0 390.2,2072.1 395.9,2078.6 401.6,2086.7 407.3,2096.6 413.0,2108.4 418.7,2122.0 424.3,2137.2 430.0,2153.4 435.7,2170.1 441.4,2186.5 447.1,2201.9 452.8,2215.9 458.4,2228.2 464.1,2238.6 469.8,2247.1 475.5,2254.0 481.2,2259.4 486.9,2263.6 492.6,2266.9 498.2,2269.4 503.9,2271.3 509.6,2272.8 515.3,2273.8 521.0,2274.7 526.7,2275.3 532.3,2275.7 538.0,2276.1 543.7,2276.3 549.4,2276.5 555.1,2276.7 560.8,2276.8 566.5,2276.8 572.1,2276.9 577.8,2276.9 583.5,2277.0 589.2,2277.0 594.9,2277.0" fill="none" stroke="#0d4b5e" stroke-width="3.5"/>
<polyline points="140.1,2083.9 145.8,2083.9 151.5,2083.9 157.2,2083.9 162.8,2083.9 168.5,2083.9 174.2,2083.9 179.9,2083.9 185.6,2083.9 191.3,2083.9 196.9,2083.9 202.6,2083.9 208.3,2083.9 214.0,2083.9 219.7,2083.9 225.4,2083.9 231.1,2083.9 236.7,2083.9 242.4,2083.9 248.1,2083.9 253.8,2083.9 259.5,2084.0 265.2,2084.0 270.8,2084.0 276.5,2084.0 282.2,2084.0 287.9,2084.0 293.6,2084.0 299.3,2084.0 305.0,2084.0 310.6,2084.1 316.3,2084.1 322.0,2084.2 327.7,2084.3 333.4,2084.4 339.1,2084.5 344.8,2084.8 350.4,2085.1 356.1,2085.5 361.8,2086.1 367.5,2086.8 373.2,2087.8 378.9,2089.2 384.5,2091.1 390.2,2093.5 395.9,2096.7 401.6,2100.9 407.3,2106.1 413.0,2112.7 418.7,2120.5 424.3,2129.5 430.0,2139.6 435.7,2150.4 441.4,2161.3 447.1,2171.8 452.8,2181.5 458.4,2190.0 464.1,2197.3 469.8,2203.3 475.5,2208.0 481.2,2211.7 486.9,2214.6 492.6,2216.8 498.2,2218.4 503.9,2219.6 509.6,2220.6 515.3,2221.2 521.0,2221.7 526.7,2222.1 532.3,2222.3 538.0,2222.5 543.7,2222.7 549.4,2222.8 555.1,2222.9 560.8,2222.9 566.5,2223.0 572.1,2223.0 577.8,2223.0 583.5,2223.0 589.2,2223.0 594.9,2223.0" fill="none" stroke="#e56600" stroke-width="3.5"/>
<line x1="171.7" y1="2122.5" x2="171.7" y2="2217.4" stroke="#e56600" stroke-width="1.9"/>
<line x1="162.2" y1="2122.5" x2="181.2" y2="2122.5" stroke="#e56600" stroke-width="1.9"/>
<line x1="162.2" y1="2217.4" x2="181.2" y2="2217.4" stroke="#e56600" stroke-width="1.9"/>
<line x1="218.9" y1="2047.3" x2="218.9" y2="2105.3" stroke="#e56600" stroke-width="1.9"/>
<line x1="209.4" y1="2047.3" x2="228.4" y2="2047.3" stroke="#e56600" stroke-width="1.9"/>
<line x1="209.4" y1="2105.3" x2="228.4" y2="2105.3" stroke="#e56600" stroke-width="1.9"/>
<line x1="265.8" y1="1940.0" x2="265.8" y2="2072.1" stroke="#e56600" stroke-width="1.9"/>
<line x1="256.3" y1="1940.0" x2="275.3" y2="1940.0" stroke="#e56600" stroke-width="1.9"/>
<line x1="256.3" y1="2072.1" x2="275.3" y2="2072.1" stroke="#e56600" stroke-width="1.9"/>
<line x1="313.0" y1="1940.0" x2="313.0" y2="2084.9" stroke="#e56600" stroke-width="1.9"/>
<line x1="303.5" y1="1940.0" x2="322.5" y2="1940.0" stroke="#e56600" stroke-width="1.9"/>
<line x1="303.5" y1="2084.9" x2="322.5" y2="2084.9" stroke="#e56600" stroke-width="1.9"/>
<line x1="360.2" y1="2057.3" x2="360.2" y2="2084.9" stroke="#e56600" stroke-width="1.9"/>
<line x1="350.7" y1="2057.3" x2="369.7" y2="2057.3" stroke="#e56600" stroke-width="1.9"/>
<line x1="350.7" y1="2084.9" x2="369.7" y2="2084.9" stroke="#e56600" stroke-width="1.9"/>
<line x1="500.7" y1="2228.6" x2="500.7" y2="2263.4" stroke="#e56600" stroke-width="1.9"/>
<line x1="491.2" y1="2228.6" x2="510.2" y2="2228.6" stroke="#e56600" stroke-width="1.9"/>
<line x1="491.2" y1="2263.4" x2="510.2" y2="2263.4" stroke="#e56600" stroke-width="1.9"/>
<line x1="595.2" y1="2109.3" x2="595.2" y2="2239.0" stroke="#e56600" stroke-width="1.9"/>
<line x1="585.7" y1="2109.3" x2="604.7" y2="2109.3" stroke="#e56600" stroke-width="1.9"/>
<line x1="585.7" y1="2239.0" x2="604.7" y2="2239.0" stroke="#e56600" stroke-width="1.9"/>
<line x1="171.7" y1="2042.1" x2="171.7" y2="2120.9" stroke="#0d4b5e" stroke-width="1.9"/>
<line x1="162.2" y1="2042.1" x2="181.2" y2="2042.1" stroke="#0d4b5e" stroke-width="1.9"/>
<line x1="162.2" y1="2120.9" x2="181.2" y2="2120.9" stroke="#0d4b5e" stroke-width="1.9"/>
<line x1="218.9" y1="1971.2" x2="218.9" y2="2074.9" stroke="#0d4b5e" stroke-width="1.9"/>
<line x1="209.4" y1="1971.2" x2="228.4" y2="1971.2" stroke="#0d4b5e" stroke-width="1.9"/>
<line x1="209.4" y1="2074.9" x2="228.4" y2="2074.9" stroke="#0d4b5e" stroke-width="1.9"/>
<line x1="265.8" y1="1989.7" x2="265.8" y2="2061.3" stroke="#0d4b5e" stroke-width="1.9"/>
<line x1="256.3" y1="1989.7" x2="275.3" y2="1989.7" stroke="#0d4b5e" stroke-width="1.9"/>
<line x1="256.3" y1="2061.3" x2="275.3" y2="2061.3" stroke="#0d4b5e" stroke-width="1.9"/>
<line x1="313.0" y1="1940.0" x2="313.0" y2="2054.9" stroke="#0d4b5e" stroke-width="1.9"/>
<line x1="303.5" y1="1940.0" x2="322.5" y2="1940.0" stroke="#0d4b5e" stroke-width="1.9"/>
<line x1="303.5" y1="2054.9" x2="322.5" y2="2054.9" stroke="#0d4b5e" stroke-width="1.9"/>
<line x1="360.2" y1="1978.8" x2="360.2" y2="2081.3" stroke="#0d4b5e" stroke-width="1.9"/>
<line x1="350.7" y1="1978.8" x2="369.7" y2="1978.8" stroke="#0d4b5e" stroke-width="1.9"/>
<line x1="350.7" y1="2081.3" x2="369.7" y2="2081.3" stroke="#0d4b5e" stroke-width="1.9"/>
<line x1="407.1" y1="2108.1" x2="407.1" y2="2136.1" stroke="#0d4b5e" stroke-width="1.9"/>
<line x1="397.6" y1="2108.1" x2="416.6" y2="2108.1" stroke="#0d4b5e" stroke-width="1.9"/>
<line x1="397.6" y1="2136.1" x2="416.6" y2="2136.1" stroke="#0d4b5e" stroke-width="1.9"/>
<line x1="500.7" y1="2245.4" x2="500.7" y2="2380.7" stroke="#0d4b5e" stroke-width="1.9"/>
<line x1="491.2" y1="2245.4" x2="510.2" y2="2245.4" stroke="#0d4b5e" stroke-width="1.9"/>
<line x1="491.2" y1="2380.7" x2="510.2" y2="2380.7" stroke="#0d4b5e" stroke-width="1.9"/>
<line x1="547.9" y1="2213.8" x2="547.9" y2="2252.2" stroke="#0d4b5e" stroke-width="1.9"/>
<line x1="538.4" y1="2213.8" x2="557.4" y2="2213.8" stroke="#0d4b5e" stroke-width="1.9"/>
<line x1="538.4" y1="2252.2" x2="557.4" y2="2252.2" stroke="#0d4b5e" stroke-width="1.9"/>
<line x1="595.2" y1="2251.0" x2="595.2" y2="2329.9" stroke="#0d4b5e" stroke-width="1.9"/>
<line x1="585.7" y1="2251.0" x2="604.7" y2="2251.0" stroke="#0d4b5e" stroke-width="1.9"/>
<line x1="585.7" y1="2329.9" x2="604.7" y2="2329.9" stroke="#0d4b5e" stroke-width="1.9"/>
</g>
<circle cx="171.7" cy="2170.2" r="9.9" fill="#e56600"/>
<circle cx="218.9" cy="2076.1" r="9.9" fill="#e56600"/>
<circle cx="265.8" cy="2016.1" r="9.9" fill="#e56600"/>
<circle cx="313.0" cy="2044.1" r="9.9" fill="#e56600"/>
<circle cx="360.2" cy="2072.1" r="9.9" fill="#e56600"/>
<circle cx="407.1" cy="2101.3" r="9.9" fill="#e56600"/>
<circle cx="453.9" cy="2182.2" r="9.9" fill="#e56600"/>
<circle cx="500.7" cy="2246.2" r="9.9" fill="#e56600"/>
<circle cx="547.9" cy="2232.2" r="9.9" fill="#e56600"/>
<circle cx="595.2" cy="2174.2" r="9.9" fill="#e56600"/>
<circle cx="140.1" cy="2135.3" r="9.9" fill="#0d4b5e"/>
<circle cx="171.7" cy="2082.1" r="9.9" fill="#0d4b5e"/>
<circle cx="218.9" cy="2022.9" r="9.9" fill="#0d4b5e"/>
<circle cx="265.8" cy="2026.9" r="9.9" fill="#0d4b5e"/>
<circle cx="313.0" cy="1998.1" r="9.9" fill="#0d4b5e"/>
<circle cx="360.2" cy="2030.1" r="9.9" fill="#0d4b5e"/>
<circle cx="407.1" cy="2121.7" r="9.9" fill="#0d4b5e"/>
<circle cx="453.9" cy="2191.4" r="9.9" fill="#0d4b5e"/>
<circle cx="500.7" cy="2313.1" r="9.9" fill="#0d4b5e"/>
<circle cx="547.9" cy="2245.0" r="9.9" fill="#0d4b5e"/>
<circle cx="595.2" cy="2290.2" r="9.9" fill="#0d4b5e"/>
<circle cx="407.1" cy="2101.3" r="9.9" fill="#e56600"/>
<circle cx="453.9" cy="2182.2" r="9.9" fill="#e56600"/>
<circle cx="547.9" cy="2232.2" r="9.9" fill="#e56600"/>
<circle cx="407.1" cy="2121.7" r="9.9" fill="#0d4b5e"/>
<text class="t" font-size="33.8" text-anchor="end" textLength="69.5" lengthAdjust="spacingAndGlyphs" x="111.6" y="2382.6" stroke-width="0.58">-100</text>
<text class="t" font-size="33.8" text-anchor="end" textLength="21.0" lengthAdjust="spacingAndGlyphs" x="111.8" y="2265.2" stroke-width="0.58">0</text>
<text class="t" font-size="33.8" text-anchor="end" textLength="57.6" lengthAdjust="spacingAndGlyphs" x="111.6" y="2147.8" stroke-width="0.58">100</text>
<text class="t" font-size="33.8" text-anchor="end" textLength="56.6" lengthAdjust="spacingAndGlyphs" x="111.6" y="2030.4" stroke-width="0.58">200</text>
<line x1="234.2" y1="2429.5" x2="234.2" y2="2447.5" stroke="#000" stroke-width="1.7"/>
<line x1="328.2" y1="2429.5" x2="328.2" y2="2447.5" stroke="#000" stroke-width="1.7"/>
<line x1="422.3" y1="2429.5" x2="422.3" y2="2447.5" stroke="#000" stroke-width="1.7"/>
<line x1="516.3" y1="2429.5" x2="516.3" y2="2447.5" stroke="#000" stroke-width="1.7"/>
<text class="t" font-size="36.8" text-anchor="middle" textLength="59.2" lengthAdjust="spacingAndGlyphs" x="140.5" y="2484.5" stroke-width="0.63">-12</text>
<text class="t" font-size="36.8" text-anchor="middle" textLength="58.7" lengthAdjust="spacingAndGlyphs" x="234.4" y="2484.5" stroke-width="0.63">-10</text>
<text class="t" font-size="36.8" text-anchor="middle" textLength="36.8" lengthAdjust="spacingAndGlyphs" x="327.7" y="2484.5" stroke-width="0.63">-8</text>
<text class="t" font-size="36.8" text-anchor="middle" textLength="36.8" lengthAdjust="spacingAndGlyphs" x="421.8" y="2484.5" stroke-width="0.63">-6</text>
<text class="t" font-size="36.8" text-anchor="middle" textLength="36.1" lengthAdjust="spacingAndGlyphs" x="515.5" y="2484.5" stroke-width="0.63">-4</text>
<text class="t" font-size="36.8" text-anchor="middle" textLength="37.1" lengthAdjust="spacingAndGlyphs" x="610.0" y="2484.5" stroke-width="0.63">-2</text>
<text class="t" font-size="34.3" text-anchor="middle" textLength="321.8" lengthAdjust="spacingAndGlyphs" transform="translate(51.1 2227.0) rotate(-90)" x="0.5" y="0" stroke-width="0.59">% parasite proliferation</text>
<text class="t" font-size="38.9" textLength="54.3" lengthAdjust="spacingAndGlyphs" x="255.0" y="2536.3" stroke-width="0.67">log</text>
<text class="t" font-size="23.1" textLength="14.2" lengthAdjust="spacingAndGlyphs" x="307.4" y="2549.0" stroke-width="0.4">2</text>
<text class="t" font-size="38.9" textLength="95.8" lengthAdjust="spacingAndGlyphs" x="321.0" y="2536.3" stroke-width="0.67">[DFO]</text>
<text class="t" font-size="33.2" textLength="45.4" lengthAdjust="spacingAndGlyphs" x="427.7" y="2536.3" stroke-width="0.57">µM</text>
<line x1="160.6" y1="2357.7" x2="212.1" y2="2357.7" stroke="#0d4b5e" stroke-width="2.7"/>
<circle cx="186.1" cy="2357.7" r="9.4" fill="#0d4b5e"/>
<text class="t" font-size="33.5" textLength="105.3" lengthAdjust="spacingAndGlyphs" x="224.7" y="2366.8" stroke-width="0.57">mNeon</text>
<line x1="160.6" y1="2403.3" x2="212.1" y2="2403.3" stroke="#e56600" stroke-width="2.7"/>
<circle cx="186.1" cy="2403.3" r="9.4" fill="#e56600"/>
<text class="t" font-size="33.5" textLength="67.7" lengthAdjust="spacingAndGlyphs" x="225.1" y="2413.0" stroke-width="0.57">ΔVIT</text>
<text class="b" font-size="47.0" x="642.6" y="1940.8" font-weight="bold">h</text>
<rect x="792.7" y="2061.0" width="65.2" height="366.2" fill="#0d4b5e" stroke="#000" stroke-width="1.7"/>
<rect x="900.9" y="2187.7" width="66.0" height="239.5" fill="#497a88" stroke="#000" stroke-width="1.7"/>
<rect x="1010.2" y="2111.3" width="65.3" height="315.9" fill="#e56600" stroke="#000" stroke-width="1.7"/>
<rect x="1118.8" y="2270.2" width="65.2" height="157.0" fill="#ec8b45" stroke="#000" stroke-width="1.7"/>
<line x1="759.2" y1="2270.1" x2="1224.1" y2="2270.1" stroke="#000" stroke-width="1.6" stroke-dasharray="1.5 7.9"/>
<line x1="753.2" y1="1956.1" x2="753.2" y2="2427.2" stroke="#000" stroke-width="1.7"/>
<line x1="1224.1" y1="1956.1" x2="1224.1" y2="2430.2" stroke="#000" stroke-width="1.7"/>
<line x1="747.2" y1="1956.1" x2="1224.8" y2="1956.1" stroke="#000" stroke-width="1.7"/>
<line x1="734.7" y1="2427.2" x2="1224.1" y2="2427.2" stroke="#000" stroke-width="1.7"/>
<line x1="734.7" y1="2270.1" x2="753.2" y2="2270.1" stroke="#000" stroke-width="1.7"/>
<line x1="734.7" y1="2113.1" x2="753.2" y2="2113.1" stroke="#000" stroke-width="1.7"/>
<text class="t" font-size="40.9" text-anchor="end" textLength="23.2" lengthAdjust="spacingAndGlyphs" x="728.0" y="2440.0" stroke-width="0.7">0</text>
<text class="t" font-size="40.9" text-anchor="end" textLength="25.7" lengthAdjust="spacingAndGlyphs" x="728.6" y="2282.9" stroke-width="0.7">1</text>
<text class="t" font-size="40.9" text-anchor="end" textLength="24.3" lengthAdjust="spacingAndGlyphs" x="728.5" y="2125.9" stroke-width="0.7">2</text>
<text class="t" font-size="40.9" text-anchor="end" textLength="23.3" lengthAdjust="spacingAndGlyphs" x="728.2" y="1968.8" stroke-width="0.7">3</text>
<text class="t" font-size="39.9" text-anchor="middle" textLength="440.7" lengthAdjust="spacingAndGlyphs" transform="translate(684.0 2188.5) rotate(-90)" x="0.0" y="0" stroke-width="0.68">average parasites/vacuole</text>
<line x1="824.5" y1="2427.2" x2="824.5" y2="2445.8" stroke="#000" stroke-width="1.7"/>
<line x1="933.5" y1="2427.2" x2="933.5" y2="2445.8" stroke="#000" stroke-width="1.7"/>
<line x1="1042.4" y1="2427.2" x2="1042.4" y2="2445.8" stroke="#000" stroke-width="1.7"/>
<line x1="1151.0" y1="2427.2" x2="1151.0" y2="2445.8" stroke="#000" stroke-width="1.7"/>
<text class="n" font-size="37.0" text-anchor="middle" x="822.0" y="2485.8">-</text>
<text class="n" font-size="37.0" text-anchor="middle" x="932.2" y="2490.0">+</text>
<text class="n" font-size="37.0" text-anchor="middle" x="1039.7" y="2485.8">-</text>
<text class="n" font-size="37.0" text-anchor="middle" x="1149.5" y="2490.0">+</text>
<text class="t" font-size="34.8" textLength="69.3" lengthAdjust="spacingAndGlyphs" x="1222.8" y="2486.7" stroke-width="0.6">DFO</text>
<line x1="817.0" y1="2498.0" x2="928.2" y2="2498.0" stroke="#000" stroke-width="1.7"/>
<line x1="1038.8" y1="2498.0" x2="1147.7" y2="2498.0" stroke="#000" stroke-width="1.7"/>
<text class="t" font-size="39.2" textLength="126.1" lengthAdjust="spacingAndGlyphs" x="809.9" y="2536.1" stroke-width="0.67">mNeon</text>
<text class="t" font-size="39.2" textLength="80.6" lengthAdjust="spacingAndGlyphs" x="1041.6" y="2536.1" stroke-width="0.67">ΔVIT</text>
<line x1="825.3" y1="2032.1" x2="825.3" y2="2083.7" stroke="#000" stroke-width="1.6"/>
<line x1="807.3" y1="2032.1" x2="843.3" y2="2032.1" stroke="#000" stroke-width="1.6"/>
<line x1="807.3" y1="2083.7" x2="843.3" y2="2083.7" stroke="#000" stroke-width="1.6"/>
<line x1="933.9" y1="2153.0" x2="933.9" y2="2214.9" stroke="#000" stroke-width="1.6"/>
<line x1="915.9" y1="2153.0" x2="951.9" y2="2153.0" stroke="#000" stroke-width="1.6"/>
<line x1="915.9" y1="2214.9" x2="951.9" y2="2214.9" stroke="#000" stroke-width="1.6"/>
<line x1="1042.9" y1="2073.4" x2="1042.9" y2="2142.3" stroke="#000" stroke-width="1.6"/>
<line x1="1024.9" y1="2073.4" x2="1060.9" y2="2073.4" stroke="#000" stroke-width="1.6"/>
<line x1="1024.9" y1="2142.3" x2="1060.9" y2="2142.3" stroke="#000" stroke-width="1.6"/>
<line x1="1151.8" y1="2261.2" x2="1151.8" y2="2270.0" stroke="#000" stroke-width="1.6"/>
<line x1="1133.8" y1="2261.2" x2="1169.8" y2="2261.2" stroke="#000" stroke-width="1.6"/>
<line x1="1133.8" y1="2270.0" x2="1169.8" y2="2270.0" stroke="#000" stroke-width="1.6"/>
<circle cx="798.9" cy="2035.0" r="9.9" fill="#000"/>
<circle cx="852.6" cy="2052.7" r="9.9" fill="#000"/>
<circle cx="825.3" cy="2085.7" r="9.9" fill="#000"/>
<circle cx="933.9" cy="2147.7" r="9.9" fill="#000"/>
<circle cx="907.1" cy="2203.4" r="9.9" fill="#000"/>
<circle cx="960.3" cy="2201.3" r="9.9" fill="#000"/>
<circle cx="1042.9" cy="2073.4" r="9.9" fill="#000"/>
<circle cx="1042.9" cy="2111.3" r="9.9" fill="#000"/>
<circle cx="1042.9" cy="2141.5" r="9.9" fill="#000"/>
<circle cx="1125.0" cy="2270.2" r="9.9" fill="#000"/>
<circle cx="1151.8" cy="2261.2" r="9.9" fill="#000"/>
<circle cx="1177.8" cy="2264.1" r="9.9" fill="#000"/>
<text class="t" font-size="26.8" textLength="15.6" lengthAdjust="spacingAndGlyphs" x="828.3" y="1986.7" font-style="italic" stroke-width="0.46">p</text>
<text class="t" font-size="26.8" textLength="16.7" lengthAdjust="spacingAndGlyphs" x="850.7" y="1986.7" stroke-width="0.46">=</text>
<text class="t" font-size="26.8" text-anchor="end" textLength="65.4" lengthAdjust="spacingAndGlyphs" x="938.7" y="1986.7" stroke-width="0.46">0.002</text>
<line x1="830.7" y1="1994.1" x2="936.0" y2="1994.1" stroke="#000" stroke-width="1.7"/>
<text class="t" font-size="26.8" textLength="15.6" lengthAdjust="spacingAndGlyphs" x="1030.6" y="1986.7" font-style="italic" stroke-width="0.46">p</text>
<text class="t" font-size="26.8" textLength="16.7" lengthAdjust="spacingAndGlyphs" x="1053.0" y="1986.7" stroke-width="0.46">=</text>
<text class="t" font-size="26.8" text-anchor="end" textLength="81.4" lengthAdjust="spacingAndGlyphs" x="1157.0" y="1986.7" stroke-width="0.46">0.0004</text>
<line x1="1041.2" y1="1994.1" x2="1144.8" y2="1994.1" stroke="#000" stroke-width="1.7"/>
<text class="t" font-size="27.6" text-anchor="middle" textLength="28.4" lengthAdjust="spacingAndGlyphs" x="942.4" y="2015.6" font-style="italic" stroke-width="0.47">ns</text>
<line x1="827.8" y1="2020.5" x2="1040.4" y2="2020.5" stroke="#000" stroke-width="1.7"/>
<text class="t" font-size="26.8" textLength="15.6" lengthAdjust="spacingAndGlyphs" x="998.8" y="2048.6" font-style="italic" stroke-width="0.46">p</text>
<text class="t" font-size="26.8" textLength="16.7" lengthAdjust="spacingAndGlyphs" x="1021.2" y="2048.6" stroke-width="0.46">=</text>
<text class="t" font-size="26.8" text-anchor="end" textLength="51.8" lengthAdjust="spacingAndGlyphs" x="1095.6" y="2048.6" stroke-width="0.46">0.02</text>
<line x1="936.0" y1="2056.8" x2="1148.5" y2="2056.8" stroke="#000" stroke-width="1.7"/>
<text class="b" font-size="47.0" x="1285.8" y="1940.8" font-weight="bold">i</text>
<rect x="1424.3" y="2129.3" width="85.9" height="302.3" fill="#0d4b5e" stroke="#000" stroke-width="1.7"/>
<rect x="1559.2" y="2257.2" width="85.9" height="174.4" fill="#e56600" stroke="#000" stroke-width="1.7"/>
<line x1="1377.3" y1="1958.6" x2="1377.3" y2="2431.6" stroke="#000" stroke-width="1.7"/>
<line x1="1693.1" y1="1958.6" x2="1693.1" y2="2431.6" stroke="#000" stroke-width="1.7"/>
<line x1="1368.3" y1="1958.6" x2="1693.8" y2="1958.6" stroke="#000" stroke-width="1.7"/>
<line x1="1368.3" y1="2431.6" x2="1693.8" y2="2431.6" stroke="#000" stroke-width="1.7"/>
<line x1="1368.3" y1="2313.3" x2="1377.3" y2="2313.3" stroke="#000" stroke-width="1.7"/>
<line x1="1368.3" y1="2195.1" x2="1377.3" y2="2195.1" stroke="#000" stroke-width="1.7"/>
<line x1="1368.3" y1="2076.8" x2="1377.3" y2="2076.8" stroke="#000" stroke-width="1.7"/>
<text class="t" font-size="38.1" text-anchor="end" textLength="23.4" lengthAdjust="spacingAndGlyphs" x="1361.0" y="2446.9" stroke-width="0.65">0</text>
<text class="t" font-size="38.1" text-anchor="end" textLength="26.0" lengthAdjust="spacingAndGlyphs" x="1361.6" y="2328.7" stroke-width="0.65">1</text>
<text class="t" font-size="38.1" text-anchor="end" textLength="24.6" lengthAdjust="spacingAndGlyphs" x="1361.5" y="2210.4" stroke-width="0.65">2</text>
<text class="t" font-size="38.1" text-anchor="end" textLength="23.6" lengthAdjust="spacingAndGlyphs" x="1361.2" y="2092.2" stroke-width="0.65">3</text>
<text class="t" font-size="38.1" text-anchor="end" textLength="22.2" lengthAdjust="spacingAndGlyphs" x="1360.5" y="1973.9" stroke-width="0.65">4</text>
<line x1="1466.6" y1="2431.6" x2="1466.6" y2="2439.4" stroke="#000" stroke-width="1.7"/>
<line x1="1602.2" y1="2431.6" x2="1602.2" y2="2439.4" stroke="#000" stroke-width="1.7"/>
<text class="t" font-size="38.9" textLength="136.8" lengthAdjust="spacingAndGlyphs" x="1468.1" y="1946.2" stroke-width="0.67">iron (Fe)</text>
<text class="t" font-size="39.9" textLength="138.2" lengthAdjust="spacingAndGlyphs" x="1398.8" y="2478.4" stroke-width="0.68">parental</text>
<text class="t" font-size="40.4" textLength="98.9" lengthAdjust="spacingAndGlyphs" x="1553.1" y="2478.4" stroke-width="0.69">ΔVIT::</text>
<text class="t" font-size="40.4" textLength="103.6" lengthAdjust="spacingAndGlyphs" x="1536.7" y="2525.5" stroke-width="0.69">DHFR</text>
<text class="t" font-size="23.0" textLength="28.9" lengthAdjust="spacingAndGlyphs" x="1639.5" y="2538.1" stroke-width="0.39">TS</text>
<line x1="1467.1" y1="2062.8" x2="1467.1" y2="2191.1" stroke="#000" stroke-width="1.5"/>
<line x1="1444.1" y1="2062.8" x2="1490.1" y2="2062.8" stroke="#000" stroke-width="1.5"/>
<line x1="1444.1" y1="2191.1" x2="1490.1" y2="2191.1" stroke="#000" stroke-width="1.5"/>
<line x1="1602.6" y1="2224.7" x2="1602.6" y2="2285.5" stroke="#000" stroke-width="1.5"/>
<line x1="1579.6" y1="2224.7" x2="1625.6" y2="2224.7" stroke="#000" stroke-width="1.5"/>
<line x1="1579.6" y1="2285.5" x2="1625.6" y2="2285.5" stroke="#000" stroke-width="1.5"/>
<circle cx="1467.1" cy="2079.9" r="8.1" fill="#000"/>
<circle cx="1467.1" cy="2101.7" r="8.1" fill="#000"/>
<circle cx="1467.1" cy="2200.0" r="8.1" fill="#000"/>
<circle cx="1602.6" cy="2222.4" r="8.1" fill="#000"/>
<circle cx="1602.6" cy="2260.9" r="8.1" fill="#000"/>
<circle cx="1602.6" cy="2283.2" r="8.1" fill="#000"/>
<text class="t" font-size="32.7" textLength="19.1" lengthAdjust="spacingAndGlyphs" x="1467.9" y="2030.6" font-style="italic" stroke-width="0.56">p</text>
<text class="t" font-size="32.7" textLength="20.4" lengthAdjust="spacingAndGlyphs" x="1495.3" y="2030.6" stroke-width="0.56">=</text>
<text class="t" font-size="32.7" text-anchor="end" textLength="84.2" lengthAdjust="spacingAndGlyphs" x="1607.0" y="2030.6" stroke-width="0.56">0.035</text>
<line x1="1468.1" y1="2040.8" x2="1605.3" y2="2040.8" stroke="#000" stroke-width="1.7"/>
<text class="t" font-size="39.9" textLength="137.0" lengthAdjust="spacingAndGlyphs" transform="translate(1317.3 2322.8) rotate(-90)" x="-2.9" y="0" stroke-width="0.68">ppb/cell</text>
<text class="t" font-size="39.9" textLength="72.1" lengthAdjust="spacingAndGlyphs" transform="translate(1317.3 2176.5) rotate(-90)" x="-2.6" y="0" stroke-width="0.68">(x10</text>
<text class="t" font-size="23.0" textLength="18.0" lengthAdjust="spacingAndGlyphs" transform="translate(1304.1 2102.1) rotate(-90)" x="-1.1" y="0" stroke-width="0.39">-5</text>
<text class="t" font-size="39.9" textLength="12.4" lengthAdjust="spacingAndGlyphs" transform="translate(1317.3 2084.4) rotate(-90)" x="-0.6" y="0" stroke-width="0.68">)</text>
<text class="t" font-size="37.8" textLength="104.5" lengthAdjust="spacingAndGlyphs" transform="translate(668.5 1577.4) rotate(-90)" x="-2.7" y="0" stroke-width="0.65">log EC</text>
<text class="t" font-size="22.0" textLength="24.0" lengthAdjust="spacingAndGlyphs" transform="translate(681.1 1475.3) rotate(-90)" x="-1.1" y="0" stroke-width="0.38">50</text>
<text class="t" font-size="37.8" textLength="61.5" lengthAdjust="spacingAndGlyphs" transform="translate(668.5 1444.4) rotate(-90)" x="-2.2" y="0" stroke-width="0.65">(µM)</text>
</svg>
</body></html>
